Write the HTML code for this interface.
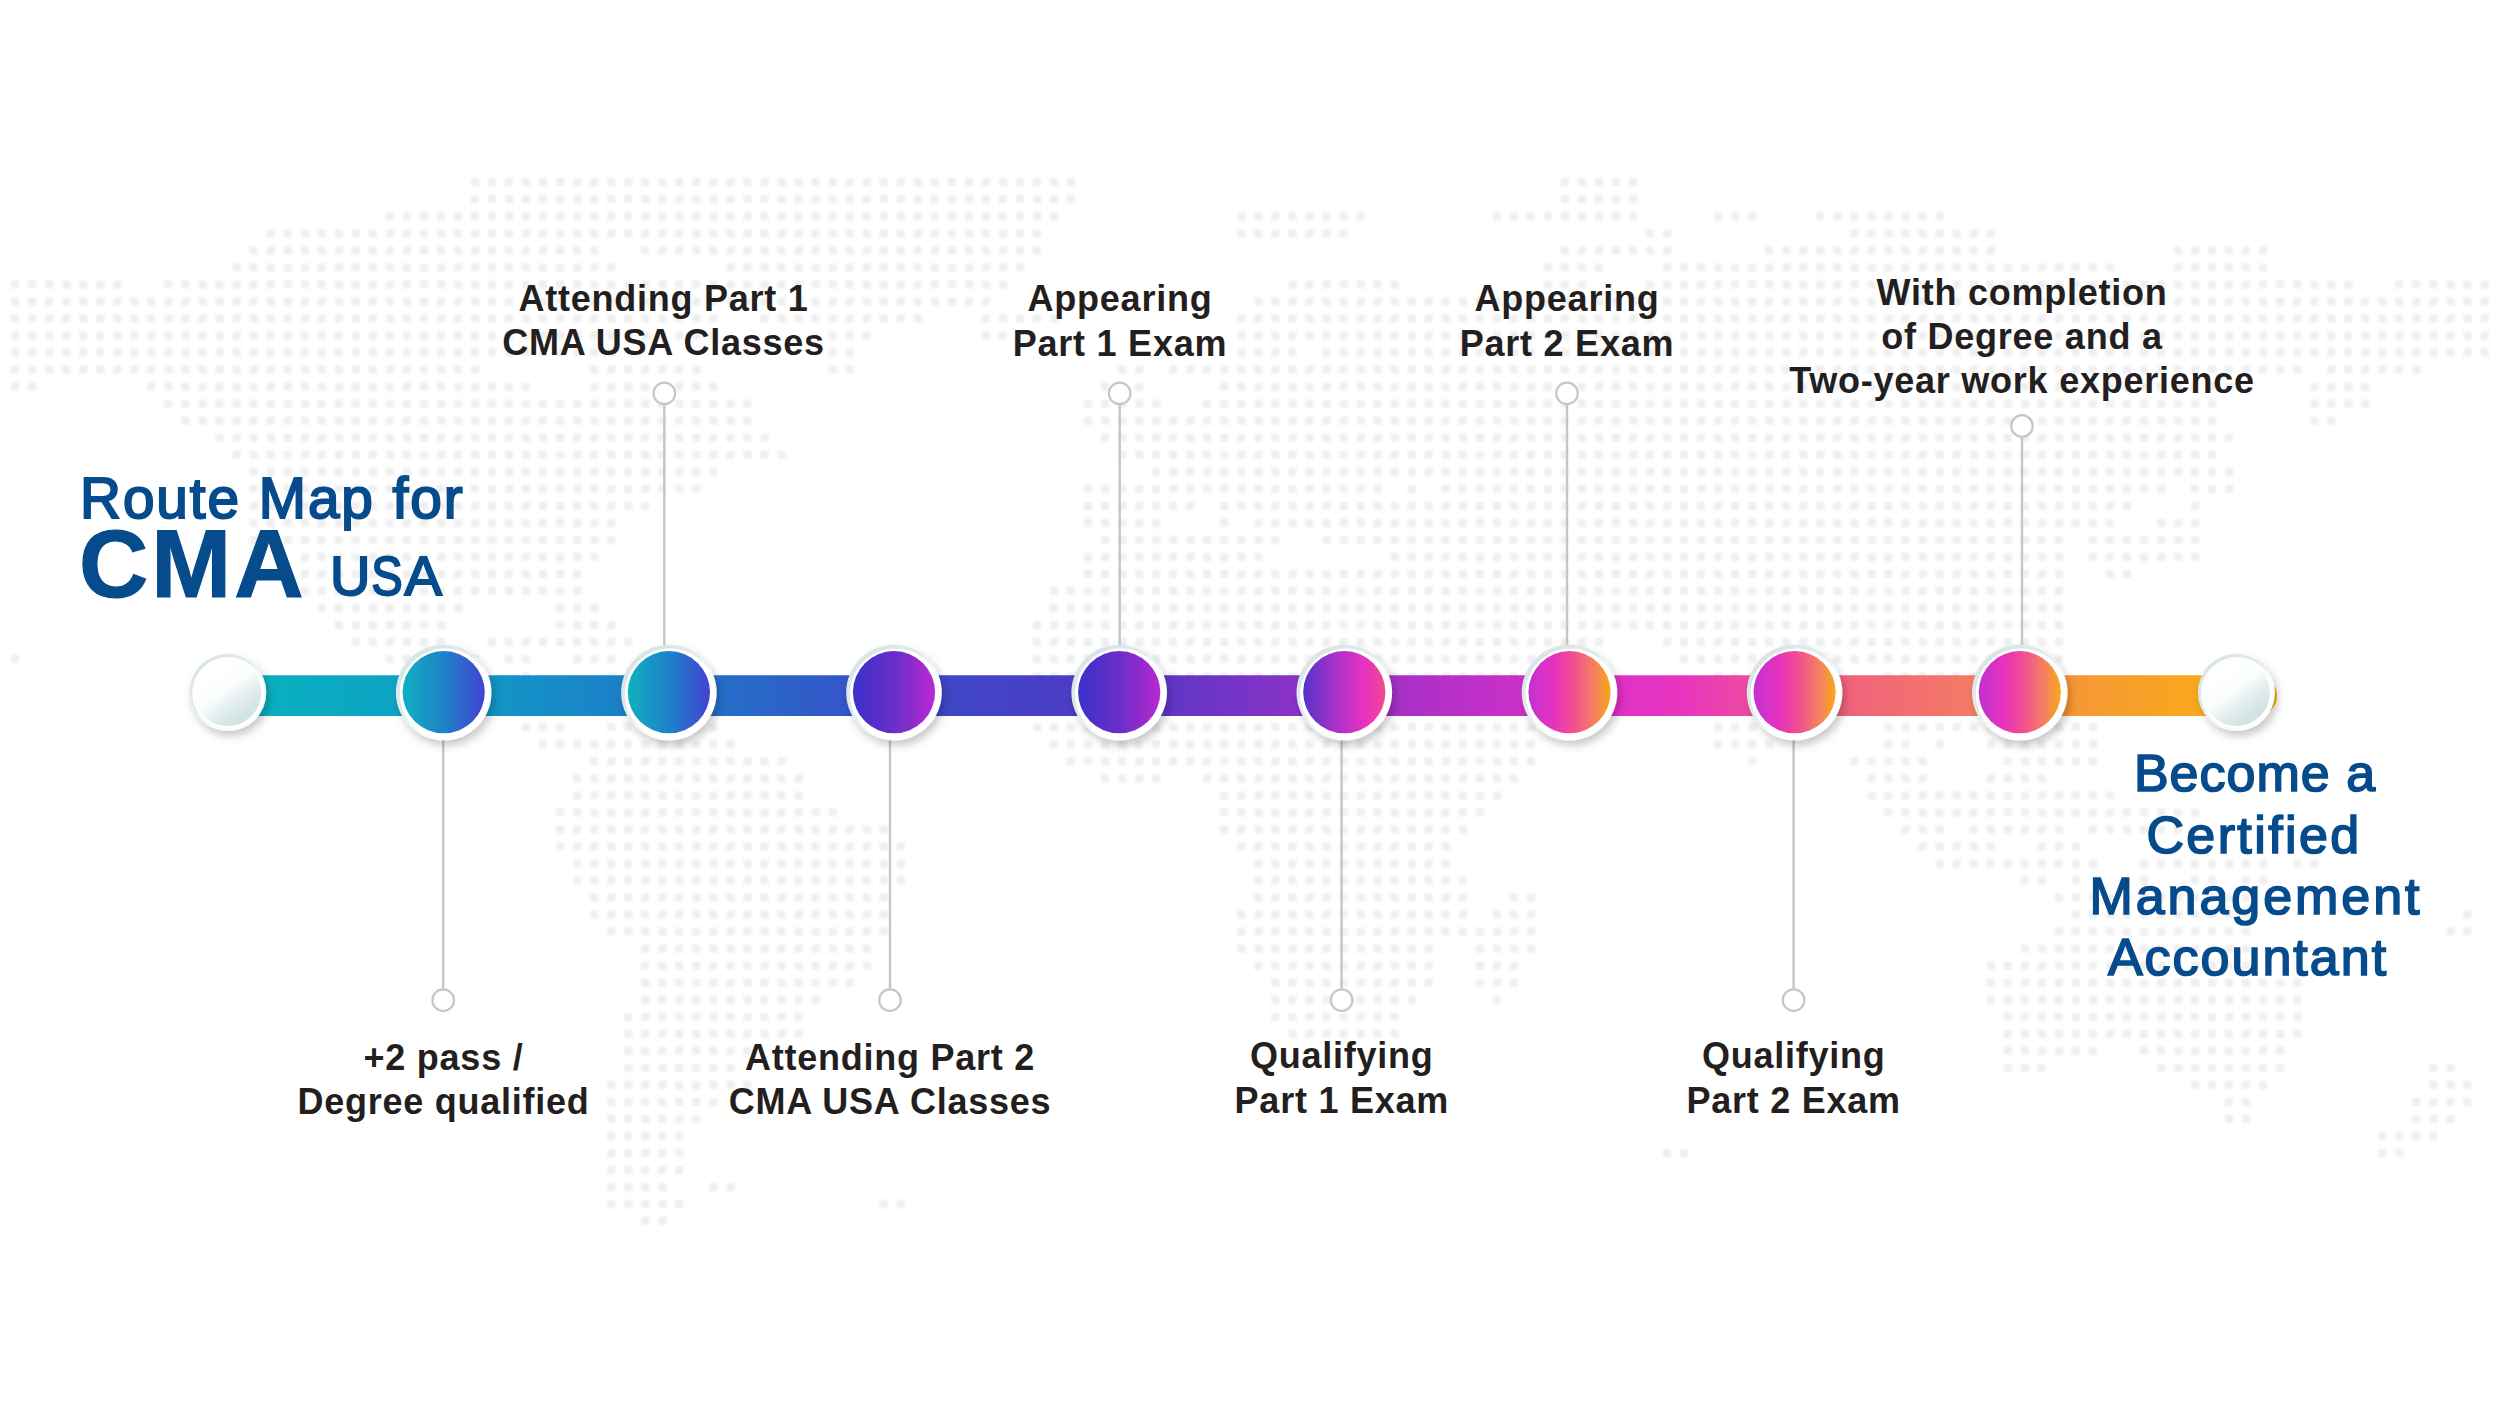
<!DOCTYPE html>
<html><head><meta charset="utf-8"><style>
html,body{margin:0;padding:0;background:#fff;width:2500px;height:1406px;overflow:hidden}
svg{display:block}
.lb{font-family:"Liberation Sans",sans-serif;font-weight:700;font-size:36px;fill:#231f20;text-anchor:middle;letter-spacing:0.75px}
.t1{font-family:"Liberation Sans",sans-serif;font-weight:400;font-size:56.7px;fill:#064b8c;stroke:#064b8c;stroke-width:2px;letter-spacing:1.95px}
.t2{font-family:"Liberation Sans",sans-serif;font-weight:700;font-size:96px;fill:#064b8c;stroke:#064b8c;stroke-width:1.2px;letter-spacing:3px}
.t3{font-family:"Liberation Sans",sans-serif;font-weight:400;font-size:56px;fill:#064b8c;stroke:#064b8c;stroke-width:2px;letter-spacing:-2px}
.t4{font-family:"Liberation Sans",sans-serif;font-weight:400;font-size:52px;fill:#064b8c;stroke:#064b8c;stroke-width:1.7px;text-anchor:middle;letter-spacing:1px}
</style></head><body>
<svg width="2500" height="1406" viewBox="0 0 2500 1406">
<defs><filter id="mblur" x="-1%" y="-1%" width="102%" height="102%"><feGaussianBlur stdDeviation="0.9"/></filter><filter id="sh" x="-40%" y="-40%" width="180%" height="180%"><feDropShadow dx="3" dy="5" stdDeviation="4" flood-color="#000" flood-opacity="0.22"/></filter><linearGradient id="bar" gradientUnits="userSpaceOnUse" x1="228" y1="0" x2="2240" y2="0"><stop offset="0.0000" stop-color="#07b4bf"/><stop offset="0.1069" stop-color="#0f9ec6"/><stop offset="0.2192" stop-color="#1f78c8"/><stop offset="0.3310" stop-color="#3a4cc8"/><stop offset="0.4428" stop-color="#5038c4"/><stop offset="0.5552" stop-color="#9a30c8"/><stop offset="0.6670" stop-color="#d830c8"/><stop offset="0.7217" stop-color="#e834c0"/><stop offset="0.7813" stop-color="#f05a88"/><stop offset="0.8022" stop-color="#f0627c"/><stop offset="0.8668" stop-color="#f47a64"/><stop offset="0.8907" stop-color="#f59040"/><stop offset="1.0000" stop-color="#f8ae14"/></linearGradient><linearGradient id="g0" x1="0" y1="0" x2="1" y2="0"><stop offset="0" stop-color="#0fb0c0"/><stop offset="0.5" stop-color="#1f82c8"/><stop offset="1" stop-color="#4343d2"/></linearGradient><linearGradient id="g1" x1="0" y1="0" x2="1" y2="0"><stop offset="0" stop-color="#0fb0c0"/><stop offset="0.5" stop-color="#1f82c8"/><stop offset="1" stop-color="#4343d2"/></linearGradient><linearGradient id="g2" x1="0" y1="0" x2="1" y2="0"><stop offset="0" stop-color="#3a30ca"/><stop offset="0.5" stop-color="#6a2ec8"/><stop offset="1" stop-color="#b82ad0"/></linearGradient><linearGradient id="g3" x1="0" y1="0" x2="1" y2="0"><stop offset="0" stop-color="#3a30ca"/><stop offset="0.5" stop-color="#6a2ec8"/><stop offset="1" stop-color="#b82ad0"/></linearGradient><linearGradient id="g4" x1="0" y1="0" x2="1" y2="0"><stop offset="0" stop-color="#5530c8"/><stop offset="0.35" stop-color="#a030c8"/><stop offset="0.75" stop-color="#e830c0"/><stop offset="1" stop-color="#f24890"/></linearGradient><linearGradient id="g5" x1="0" y1="0" x2="1" y2="0"><stop offset="0" stop-color="#c030d0"/><stop offset="0.3" stop-color="#e630c0"/><stop offset="0.55" stop-color="#f05090"/><stop offset="0.8" stop-color="#f58060"/><stop offset="1" stop-color="#f8a818"/></linearGradient><linearGradient id="g6" x1="0" y1="0" x2="1" y2="0"><stop offset="0" stop-color="#c030d0"/><stop offset="0.3" stop-color="#e630c0"/><stop offset="0.55" stop-color="#f05090"/><stop offset="0.8" stop-color="#f58060"/><stop offset="1" stop-color="#f8a818"/></linearGradient><linearGradient id="g7" x1="0" y1="0" x2="1" y2="0"><stop offset="0" stop-color="#c030d0"/><stop offset="0.3" stop-color="#e630c0"/><stop offset="0.55" stop-color="#f05090"/><stop offset="0.8" stop-color="#f58060"/><stop offset="1" stop-color="#f8a818"/></linearGradient><linearGradient id="ring" x1="0.15" y1="0.1" x2="0.85" y2="0.9"><stop offset="0" stop-color="#d6e4e6"/><stop offset="0.4" stop-color="#e2ecee"/><stop offset="0.65" stop-color="#f8fbfb"/><stop offset="1" stop-color="#ffffff"/></linearGradient><linearGradient id="pearl" x1="0.25" y1="0.15" x2="0.75" y2="0.85"><stop offset="0" stop-color="#ffffff"/><stop offset="0.45" stop-color="#fbfdfd"/><stop offset="0.7" stop-color="#e3eeef"/><stop offset="1" stop-color="#d2e3e4"/></linearGradient></defs>
<path fill="#efefef" filter="url(#mblur)" d="M471.0 178.3h8.0v8.0h-8.0zM488.0 178.3h8.0v8.0h-8.0zM505.1 178.3h8.0v8.0h-8.0zM522.1 178.3h8.0v8.0h-8.0zM539.1 178.3h8.0v8.0h-8.0zM556.2 178.3h8.0v8.0h-8.0zM573.2 178.3h8.0v8.0h-8.0zM590.2 178.3h8.0v8.0h-8.0zM607.3 178.3h8.0v8.0h-8.0zM624.3 178.3h8.0v8.0h-8.0zM641.3 178.3h8.0v8.0h-8.0zM658.3 178.3h8.0v8.0h-8.0zM675.4 178.3h8.0v8.0h-8.0zM692.4 178.3h8.0v8.0h-8.0zM709.4 178.3h8.0v8.0h-8.0zM726.5 178.3h8.0v8.0h-8.0zM743.5 178.3h8.0v8.0h-8.0zM760.5 178.3h8.0v8.0h-8.0zM777.6 178.3h8.0v8.0h-8.0zM794.6 178.3h8.0v8.0h-8.0zM811.6 178.3h8.0v8.0h-8.0zM828.6 178.3h8.0v8.0h-8.0zM845.7 178.3h8.0v8.0h-8.0zM862.7 178.3h8.0v8.0h-8.0zM879.7 178.3h8.0v8.0h-8.0zM896.8 178.3h8.0v8.0h-8.0zM913.8 178.3h8.0v8.0h-8.0zM930.8 178.3h8.0v8.0h-8.0zM947.9 178.3h8.0v8.0h-8.0zM964.9 178.3h8.0v8.0h-8.0zM981.9 178.3h8.0v8.0h-8.0zM998.9 178.3h8.0v8.0h-8.0zM1016.0 178.3h8.0v8.0h-8.0zM1033.0 178.3h8.0v8.0h-8.0zM1050.0 178.3h8.0v8.0h-8.0zM1067.1 178.3h8.0v8.0h-8.0zM1560.9 178.3h8.0v8.0h-8.0zM1578.0 178.3h8.0v8.0h-8.0zM1595.0 178.3h8.0v8.0h-8.0zM1612.0 178.3h8.0v8.0h-8.0zM1629.1 178.3h8.0v8.0h-8.0zM471.0 195.3h8.0v8.0h-8.0zM488.0 195.3h8.0v8.0h-8.0zM505.1 195.3h8.0v8.0h-8.0zM522.1 195.3h8.0v8.0h-8.0zM539.1 195.3h8.0v8.0h-8.0zM556.2 195.3h8.0v8.0h-8.0zM573.2 195.3h8.0v8.0h-8.0zM590.2 195.3h8.0v8.0h-8.0zM607.3 195.3h8.0v8.0h-8.0zM624.3 195.3h8.0v8.0h-8.0zM641.3 195.3h8.0v8.0h-8.0zM658.3 195.3h8.0v8.0h-8.0zM675.4 195.3h8.0v8.0h-8.0zM692.4 195.3h8.0v8.0h-8.0zM709.4 195.3h8.0v8.0h-8.0zM726.5 195.3h8.0v8.0h-8.0zM743.5 195.3h8.0v8.0h-8.0zM760.5 195.3h8.0v8.0h-8.0zM777.6 195.3h8.0v8.0h-8.0zM794.6 195.3h8.0v8.0h-8.0zM811.6 195.3h8.0v8.0h-8.0zM828.6 195.3h8.0v8.0h-8.0zM845.7 195.3h8.0v8.0h-8.0zM862.7 195.3h8.0v8.0h-8.0zM879.7 195.3h8.0v8.0h-8.0zM896.8 195.3h8.0v8.0h-8.0zM913.8 195.3h8.0v8.0h-8.0zM930.8 195.3h8.0v8.0h-8.0zM947.9 195.3h8.0v8.0h-8.0zM964.9 195.3h8.0v8.0h-8.0zM981.9 195.3h8.0v8.0h-8.0zM998.9 195.3h8.0v8.0h-8.0zM1016.0 195.3h8.0v8.0h-8.0zM1033.0 195.3h8.0v8.0h-8.0zM1050.0 195.3h8.0v8.0h-8.0zM1067.1 195.3h8.0v8.0h-8.0zM1560.9 195.3h8.0v8.0h-8.0zM1578.0 195.3h8.0v8.0h-8.0zM1595.0 195.3h8.0v8.0h-8.0zM1612.0 195.3h8.0v8.0h-8.0zM1629.1 195.3h8.0v8.0h-8.0zM385.9 212.4h8.0v8.0h-8.0zM402.9 212.4h8.0v8.0h-8.0zM419.9 212.4h8.0v8.0h-8.0zM436.9 212.4h8.0v8.0h-8.0zM454.0 212.4h8.0v8.0h-8.0zM471.0 212.4h8.0v8.0h-8.0zM488.0 212.4h8.0v8.0h-8.0zM505.1 212.4h8.0v8.0h-8.0zM522.1 212.4h8.0v8.0h-8.0zM539.1 212.4h8.0v8.0h-8.0zM556.2 212.4h8.0v8.0h-8.0zM573.2 212.4h8.0v8.0h-8.0zM590.2 212.4h8.0v8.0h-8.0zM607.3 212.4h8.0v8.0h-8.0zM624.3 212.4h8.0v8.0h-8.0zM641.3 212.4h8.0v8.0h-8.0zM658.3 212.4h8.0v8.0h-8.0zM675.4 212.4h8.0v8.0h-8.0zM692.4 212.4h8.0v8.0h-8.0zM709.4 212.4h8.0v8.0h-8.0zM726.5 212.4h8.0v8.0h-8.0zM743.5 212.4h8.0v8.0h-8.0zM760.5 212.4h8.0v8.0h-8.0zM777.6 212.4h8.0v8.0h-8.0zM794.6 212.4h8.0v8.0h-8.0zM811.6 212.4h8.0v8.0h-8.0zM828.6 212.4h8.0v8.0h-8.0zM845.7 212.4h8.0v8.0h-8.0zM862.7 212.4h8.0v8.0h-8.0zM879.7 212.4h8.0v8.0h-8.0zM896.8 212.4h8.0v8.0h-8.0zM913.8 212.4h8.0v8.0h-8.0zM930.8 212.4h8.0v8.0h-8.0zM947.9 212.4h8.0v8.0h-8.0zM964.9 212.4h8.0v8.0h-8.0zM981.9 212.4h8.0v8.0h-8.0zM998.9 212.4h8.0v8.0h-8.0zM1016.0 212.4h8.0v8.0h-8.0zM1033.0 212.4h8.0v8.0h-8.0zM1050.0 212.4h8.0v8.0h-8.0zM1237.4 212.4h8.0v8.0h-8.0zM1254.4 212.4h8.0v8.0h-8.0zM1271.4 212.4h8.0v8.0h-8.0zM1288.5 212.4h8.0v8.0h-8.0zM1305.5 212.4h8.0v8.0h-8.0zM1322.5 212.4h8.0v8.0h-8.0zM1339.5 212.4h8.0v8.0h-8.0zM1356.6 212.4h8.0v8.0h-8.0zM1492.8 212.4h8.0v8.0h-8.0zM1509.8 212.4h8.0v8.0h-8.0zM1526.9 212.4h8.0v8.0h-8.0zM1543.9 212.4h8.0v8.0h-8.0zM1560.9 212.4h8.0v8.0h-8.0zM1578.0 212.4h8.0v8.0h-8.0zM1595.0 212.4h8.0v8.0h-8.0zM1612.0 212.4h8.0v8.0h-8.0zM1629.1 212.4h8.0v8.0h-8.0zM1714.2 212.4h8.0v8.0h-8.0zM1731.2 212.4h8.0v8.0h-8.0zM1748.3 212.4h8.0v8.0h-8.0zM1816.4 212.4h8.0v8.0h-8.0zM1833.4 212.4h8.0v8.0h-8.0zM1850.4 212.4h8.0v8.0h-8.0zM1867.5 212.4h8.0v8.0h-8.0zM1884.5 212.4h8.0v8.0h-8.0zM1901.5 212.4h8.0v8.0h-8.0zM1918.6 212.4h8.0v8.0h-8.0zM1935.6 212.4h8.0v8.0h-8.0zM266.7 229.4h8.0v8.0h-8.0zM283.7 229.4h8.0v8.0h-8.0zM300.7 229.4h8.0v8.0h-8.0zM317.7 229.4h8.0v8.0h-8.0zM334.8 229.4h8.0v8.0h-8.0zM351.8 229.4h8.0v8.0h-8.0zM368.8 229.4h8.0v8.0h-8.0zM385.9 229.4h8.0v8.0h-8.0zM402.9 229.4h8.0v8.0h-8.0zM419.9 229.4h8.0v8.0h-8.0zM436.9 229.4h8.0v8.0h-8.0zM454.0 229.4h8.0v8.0h-8.0zM471.0 229.4h8.0v8.0h-8.0zM488.0 229.4h8.0v8.0h-8.0zM505.1 229.4h8.0v8.0h-8.0zM522.1 229.4h8.0v8.0h-8.0zM539.1 229.4h8.0v8.0h-8.0zM556.2 229.4h8.0v8.0h-8.0zM573.2 229.4h8.0v8.0h-8.0zM590.2 229.4h8.0v8.0h-8.0zM607.3 229.4h8.0v8.0h-8.0zM624.3 229.4h8.0v8.0h-8.0zM641.3 229.4h8.0v8.0h-8.0zM658.3 229.4h8.0v8.0h-8.0zM675.4 229.4h8.0v8.0h-8.0zM692.4 229.4h8.0v8.0h-8.0zM709.4 229.4h8.0v8.0h-8.0zM726.5 229.4h8.0v8.0h-8.0zM743.5 229.4h8.0v8.0h-8.0zM760.5 229.4h8.0v8.0h-8.0zM777.6 229.4h8.0v8.0h-8.0zM794.6 229.4h8.0v8.0h-8.0zM811.6 229.4h8.0v8.0h-8.0zM828.6 229.4h8.0v8.0h-8.0zM845.7 229.4h8.0v8.0h-8.0zM862.7 229.4h8.0v8.0h-8.0zM879.7 229.4h8.0v8.0h-8.0zM896.8 229.4h8.0v8.0h-8.0zM913.8 229.4h8.0v8.0h-8.0zM930.8 229.4h8.0v8.0h-8.0zM947.9 229.4h8.0v8.0h-8.0zM964.9 229.4h8.0v8.0h-8.0zM981.9 229.4h8.0v8.0h-8.0zM998.9 229.4h8.0v8.0h-8.0zM1016.0 229.4h8.0v8.0h-8.0zM1033.0 229.4h8.0v8.0h-8.0zM1237.4 229.4h8.0v8.0h-8.0zM1254.4 229.4h8.0v8.0h-8.0zM1271.4 229.4h8.0v8.0h-8.0zM1288.5 229.4h8.0v8.0h-8.0zM1305.5 229.4h8.0v8.0h-8.0zM1322.5 229.4h8.0v8.0h-8.0zM1339.5 229.4h8.0v8.0h-8.0zM1646.1 229.4h8.0v8.0h-8.0zM1663.1 229.4h8.0v8.0h-8.0zM1850.4 229.4h8.0v8.0h-8.0zM1867.5 229.4h8.0v8.0h-8.0zM1884.5 229.4h8.0v8.0h-8.0zM1901.5 229.4h8.0v8.0h-8.0zM1918.6 229.4h8.0v8.0h-8.0zM1935.6 229.4h8.0v8.0h-8.0zM1952.6 229.4h8.0v8.0h-8.0zM1969.7 229.4h8.0v8.0h-8.0zM1986.7 229.4h8.0v8.0h-8.0zM249.6 246.4h8.0v8.0h-8.0zM266.7 246.4h8.0v8.0h-8.0zM283.7 246.4h8.0v8.0h-8.0zM300.7 246.4h8.0v8.0h-8.0zM317.7 246.4h8.0v8.0h-8.0zM334.8 246.4h8.0v8.0h-8.0zM351.8 246.4h8.0v8.0h-8.0zM368.8 246.4h8.0v8.0h-8.0zM385.9 246.4h8.0v8.0h-8.0zM402.9 246.4h8.0v8.0h-8.0zM419.9 246.4h8.0v8.0h-8.0zM436.9 246.4h8.0v8.0h-8.0zM454.0 246.4h8.0v8.0h-8.0zM471.0 246.4h8.0v8.0h-8.0zM488.0 246.4h8.0v8.0h-8.0zM505.1 246.4h8.0v8.0h-8.0zM522.1 246.4h8.0v8.0h-8.0zM539.1 246.4h8.0v8.0h-8.0zM556.2 246.4h8.0v8.0h-8.0zM573.2 246.4h8.0v8.0h-8.0zM590.2 246.4h8.0v8.0h-8.0zM641.3 246.4h8.0v8.0h-8.0zM658.3 246.4h8.0v8.0h-8.0zM675.4 246.4h8.0v8.0h-8.0zM692.4 246.4h8.0v8.0h-8.0zM709.4 246.4h8.0v8.0h-8.0zM726.5 246.4h8.0v8.0h-8.0zM743.5 246.4h8.0v8.0h-8.0zM760.5 246.4h8.0v8.0h-8.0zM777.6 246.4h8.0v8.0h-8.0zM794.6 246.4h8.0v8.0h-8.0zM811.6 246.4h8.0v8.0h-8.0zM828.6 246.4h8.0v8.0h-8.0zM845.7 246.4h8.0v8.0h-8.0zM862.7 246.4h8.0v8.0h-8.0zM879.7 246.4h8.0v8.0h-8.0zM896.8 246.4h8.0v8.0h-8.0zM913.8 246.4h8.0v8.0h-8.0zM930.8 246.4h8.0v8.0h-8.0zM947.9 246.4h8.0v8.0h-8.0zM964.9 246.4h8.0v8.0h-8.0zM981.9 246.4h8.0v8.0h-8.0zM998.9 246.4h8.0v8.0h-8.0zM1016.0 246.4h8.0v8.0h-8.0zM1033.0 246.4h8.0v8.0h-8.0zM1560.9 246.4h8.0v8.0h-8.0zM1578.0 246.4h8.0v8.0h-8.0zM1595.0 246.4h8.0v8.0h-8.0zM1612.0 246.4h8.0v8.0h-8.0zM1629.1 246.4h8.0v8.0h-8.0zM1646.1 246.4h8.0v8.0h-8.0zM1663.1 246.4h8.0v8.0h-8.0zM1765.3 246.4h8.0v8.0h-8.0zM1782.3 246.4h8.0v8.0h-8.0zM1799.4 246.4h8.0v8.0h-8.0zM1816.4 246.4h8.0v8.0h-8.0zM1833.4 246.4h8.0v8.0h-8.0zM1850.4 246.4h8.0v8.0h-8.0zM1867.5 246.4h8.0v8.0h-8.0zM1884.5 246.4h8.0v8.0h-8.0zM1901.5 246.4h8.0v8.0h-8.0zM1918.6 246.4h8.0v8.0h-8.0zM1935.6 246.4h8.0v8.0h-8.0zM1952.6 246.4h8.0v8.0h-8.0zM1969.7 246.4h8.0v8.0h-8.0zM1986.7 246.4h8.0v8.0h-8.0zM2174.0 246.4h8.0v8.0h-8.0zM2191.0 246.4h8.0v8.0h-8.0zM2208.1 246.4h8.0v8.0h-8.0zM2225.1 246.4h8.0v8.0h-8.0zM2242.1 246.4h8.0v8.0h-8.0zM2259.2 246.4h8.0v8.0h-8.0zM232.6 263.5h8.0v8.0h-8.0zM249.6 263.5h8.0v8.0h-8.0zM266.7 263.5h8.0v8.0h-8.0zM283.7 263.5h8.0v8.0h-8.0zM300.7 263.5h8.0v8.0h-8.0zM317.7 263.5h8.0v8.0h-8.0zM334.8 263.5h8.0v8.0h-8.0zM351.8 263.5h8.0v8.0h-8.0zM368.8 263.5h8.0v8.0h-8.0zM385.9 263.5h8.0v8.0h-8.0zM402.9 263.5h8.0v8.0h-8.0zM419.9 263.5h8.0v8.0h-8.0zM436.9 263.5h8.0v8.0h-8.0zM454.0 263.5h8.0v8.0h-8.0zM471.0 263.5h8.0v8.0h-8.0zM488.0 263.5h8.0v8.0h-8.0zM505.1 263.5h8.0v8.0h-8.0zM522.1 263.5h8.0v8.0h-8.0zM539.1 263.5h8.0v8.0h-8.0zM556.2 263.5h8.0v8.0h-8.0zM573.2 263.5h8.0v8.0h-8.0zM590.2 263.5h8.0v8.0h-8.0zM607.3 263.5h8.0v8.0h-8.0zM726.5 263.5h8.0v8.0h-8.0zM743.5 263.5h8.0v8.0h-8.0zM760.5 263.5h8.0v8.0h-8.0zM777.6 263.5h8.0v8.0h-8.0zM794.6 263.5h8.0v8.0h-8.0zM811.6 263.5h8.0v8.0h-8.0zM828.6 263.5h8.0v8.0h-8.0zM845.7 263.5h8.0v8.0h-8.0zM862.7 263.5h8.0v8.0h-8.0zM879.7 263.5h8.0v8.0h-8.0zM896.8 263.5h8.0v8.0h-8.0zM913.8 263.5h8.0v8.0h-8.0zM930.8 263.5h8.0v8.0h-8.0zM947.9 263.5h8.0v8.0h-8.0zM964.9 263.5h8.0v8.0h-8.0zM981.9 263.5h8.0v8.0h-8.0zM998.9 263.5h8.0v8.0h-8.0zM1016.0 263.5h8.0v8.0h-8.0zM1543.9 263.5h8.0v8.0h-8.0zM1560.9 263.5h8.0v8.0h-8.0zM1578.0 263.5h8.0v8.0h-8.0zM1595.0 263.5h8.0v8.0h-8.0zM1663.1 263.5h8.0v8.0h-8.0zM1680.1 263.5h8.0v8.0h-8.0zM1697.2 263.5h8.0v8.0h-8.0zM1714.2 263.5h8.0v8.0h-8.0zM1731.2 263.5h8.0v8.0h-8.0zM1748.3 263.5h8.0v8.0h-8.0zM1765.3 263.5h8.0v8.0h-8.0zM1782.3 263.5h8.0v8.0h-8.0zM1799.4 263.5h8.0v8.0h-8.0zM1816.4 263.5h8.0v8.0h-8.0zM1833.4 263.5h8.0v8.0h-8.0zM1850.4 263.5h8.0v8.0h-8.0zM1867.5 263.5h8.0v8.0h-8.0zM1884.5 263.5h8.0v8.0h-8.0zM1901.5 263.5h8.0v8.0h-8.0zM1918.6 263.5h8.0v8.0h-8.0zM1935.6 263.5h8.0v8.0h-8.0zM1952.6 263.5h8.0v8.0h-8.0zM1969.7 263.5h8.0v8.0h-8.0zM1986.7 263.5h8.0v8.0h-8.0zM2003.7 263.5h8.0v8.0h-8.0zM2020.7 263.5h8.0v8.0h-8.0zM2037.8 263.5h8.0v8.0h-8.0zM2054.8 263.5h8.0v8.0h-8.0zM2071.8 263.5h8.0v8.0h-8.0zM2088.9 263.5h8.0v8.0h-8.0zM2105.9 263.5h8.0v8.0h-8.0zM2174.0 263.5h8.0v8.0h-8.0zM2191.0 263.5h8.0v8.0h-8.0zM2208.1 263.5h8.0v8.0h-8.0zM2225.1 263.5h8.0v8.0h-8.0zM2242.1 263.5h8.0v8.0h-8.0zM2259.2 263.5h8.0v8.0h-8.0zM11.2 280.5h8.0v8.0h-8.0zM28.2 280.5h8.0v8.0h-8.0zM45.3 280.5h8.0v8.0h-8.0zM62.3 280.5h8.0v8.0h-8.0zM79.3 280.5h8.0v8.0h-8.0zM96.4 280.5h8.0v8.0h-8.0zM113.4 280.5h8.0v8.0h-8.0zM164.5 280.5h8.0v8.0h-8.0zM181.5 280.5h8.0v8.0h-8.0zM198.5 280.5h8.0v8.0h-8.0zM215.6 280.5h8.0v8.0h-8.0zM232.6 280.5h8.0v8.0h-8.0zM249.6 280.5h8.0v8.0h-8.0zM266.7 280.5h8.0v8.0h-8.0zM283.7 280.5h8.0v8.0h-8.0zM300.7 280.5h8.0v8.0h-8.0zM317.7 280.5h8.0v8.0h-8.0zM334.8 280.5h8.0v8.0h-8.0zM351.8 280.5h8.0v8.0h-8.0zM368.8 280.5h8.0v8.0h-8.0zM385.9 280.5h8.0v8.0h-8.0zM402.9 280.5h8.0v8.0h-8.0zM419.9 280.5h8.0v8.0h-8.0zM436.9 280.5h8.0v8.0h-8.0zM454.0 280.5h8.0v8.0h-8.0zM471.0 280.5h8.0v8.0h-8.0zM488.0 280.5h8.0v8.0h-8.0zM505.1 280.5h8.0v8.0h-8.0zM522.1 280.5h8.0v8.0h-8.0zM539.1 280.5h8.0v8.0h-8.0zM556.2 280.5h8.0v8.0h-8.0zM573.2 280.5h8.0v8.0h-8.0zM590.2 280.5h8.0v8.0h-8.0zM607.3 280.5h8.0v8.0h-8.0zM624.3 280.5h8.0v8.0h-8.0zM641.3 280.5h8.0v8.0h-8.0zM658.3 280.5h8.0v8.0h-8.0zM675.4 280.5h8.0v8.0h-8.0zM692.4 280.5h8.0v8.0h-8.0zM709.4 280.5h8.0v8.0h-8.0zM726.5 280.5h8.0v8.0h-8.0zM743.5 280.5h8.0v8.0h-8.0zM760.5 280.5h8.0v8.0h-8.0zM777.6 280.5h8.0v8.0h-8.0zM794.6 280.5h8.0v8.0h-8.0zM811.6 280.5h8.0v8.0h-8.0zM828.6 280.5h8.0v8.0h-8.0zM845.7 280.5h8.0v8.0h-8.0zM862.7 280.5h8.0v8.0h-8.0zM879.7 280.5h8.0v8.0h-8.0zM896.8 280.5h8.0v8.0h-8.0zM913.8 280.5h8.0v8.0h-8.0zM930.8 280.5h8.0v8.0h-8.0zM947.9 280.5h8.0v8.0h-8.0zM964.9 280.5h8.0v8.0h-8.0zM981.9 280.5h8.0v8.0h-8.0zM998.9 280.5h8.0v8.0h-8.0zM1288.5 280.5h8.0v8.0h-8.0zM1305.5 280.5h8.0v8.0h-8.0zM1322.5 280.5h8.0v8.0h-8.0zM1339.5 280.5h8.0v8.0h-8.0zM1356.6 280.5h8.0v8.0h-8.0zM1373.6 280.5h8.0v8.0h-8.0zM1390.6 280.5h8.0v8.0h-8.0zM1543.9 280.5h8.0v8.0h-8.0zM1560.9 280.5h8.0v8.0h-8.0zM1578.0 280.5h8.0v8.0h-8.0zM1646.1 280.5h8.0v8.0h-8.0zM1663.1 280.5h8.0v8.0h-8.0zM1680.1 280.5h8.0v8.0h-8.0zM1697.2 280.5h8.0v8.0h-8.0zM1714.2 280.5h8.0v8.0h-8.0zM1731.2 280.5h8.0v8.0h-8.0zM1748.3 280.5h8.0v8.0h-8.0zM1765.3 280.5h8.0v8.0h-8.0zM1782.3 280.5h8.0v8.0h-8.0zM1799.4 280.5h8.0v8.0h-8.0zM1816.4 280.5h8.0v8.0h-8.0zM1833.4 280.5h8.0v8.0h-8.0zM1850.4 280.5h8.0v8.0h-8.0zM1867.5 280.5h8.0v8.0h-8.0zM1884.5 280.5h8.0v8.0h-8.0zM1901.5 280.5h8.0v8.0h-8.0zM1918.6 280.5h8.0v8.0h-8.0zM1935.6 280.5h8.0v8.0h-8.0zM1952.6 280.5h8.0v8.0h-8.0zM1969.7 280.5h8.0v8.0h-8.0zM1986.7 280.5h8.0v8.0h-8.0zM2003.7 280.5h8.0v8.0h-8.0zM2020.7 280.5h8.0v8.0h-8.0zM2037.8 280.5h8.0v8.0h-8.0zM2054.8 280.5h8.0v8.0h-8.0zM2071.8 280.5h8.0v8.0h-8.0zM2088.9 280.5h8.0v8.0h-8.0zM2105.9 280.5h8.0v8.0h-8.0zM2122.9 280.5h8.0v8.0h-8.0zM2139.9 280.5h8.0v8.0h-8.0zM2157.0 280.5h8.0v8.0h-8.0zM2174.0 280.5h8.0v8.0h-8.0zM2191.0 280.5h8.0v8.0h-8.0zM2208.1 280.5h8.0v8.0h-8.0zM2225.1 280.5h8.0v8.0h-8.0zM2242.1 280.5h8.0v8.0h-8.0zM2259.2 280.5h8.0v8.0h-8.0zM2276.2 280.5h8.0v8.0h-8.0zM2293.2 280.5h8.0v8.0h-8.0zM2310.2 280.5h8.0v8.0h-8.0zM2327.3 280.5h8.0v8.0h-8.0zM2344.3 280.5h8.0v8.0h-8.0zM2395.4 280.5h8.0v8.0h-8.0zM2412.4 280.5h8.0v8.0h-8.0zM2429.5 280.5h8.0v8.0h-8.0zM2446.5 280.5h8.0v8.0h-8.0zM2463.5 280.5h8.0v8.0h-8.0zM2480.6 280.5h8.0v8.0h-8.0zM11.2 297.5h8.0v8.0h-8.0zM28.2 297.5h8.0v8.0h-8.0zM45.3 297.5h8.0v8.0h-8.0zM62.3 297.5h8.0v8.0h-8.0zM79.3 297.5h8.0v8.0h-8.0zM96.4 297.5h8.0v8.0h-8.0zM113.4 297.5h8.0v8.0h-8.0zM130.4 297.5h8.0v8.0h-8.0zM147.4 297.5h8.0v8.0h-8.0zM164.5 297.5h8.0v8.0h-8.0zM181.5 297.5h8.0v8.0h-8.0zM198.5 297.5h8.0v8.0h-8.0zM215.6 297.5h8.0v8.0h-8.0zM232.6 297.5h8.0v8.0h-8.0zM249.6 297.5h8.0v8.0h-8.0zM266.7 297.5h8.0v8.0h-8.0zM283.7 297.5h8.0v8.0h-8.0zM300.7 297.5h8.0v8.0h-8.0zM317.7 297.5h8.0v8.0h-8.0zM334.8 297.5h8.0v8.0h-8.0zM351.8 297.5h8.0v8.0h-8.0zM368.8 297.5h8.0v8.0h-8.0zM385.9 297.5h8.0v8.0h-8.0zM402.9 297.5h8.0v8.0h-8.0zM419.9 297.5h8.0v8.0h-8.0zM436.9 297.5h8.0v8.0h-8.0zM454.0 297.5h8.0v8.0h-8.0zM471.0 297.5h8.0v8.0h-8.0zM488.0 297.5h8.0v8.0h-8.0zM505.1 297.5h8.0v8.0h-8.0zM522.1 297.5h8.0v8.0h-8.0zM539.1 297.5h8.0v8.0h-8.0zM556.2 297.5h8.0v8.0h-8.0zM573.2 297.5h8.0v8.0h-8.0zM590.2 297.5h8.0v8.0h-8.0zM607.3 297.5h8.0v8.0h-8.0zM624.3 297.5h8.0v8.0h-8.0zM641.3 297.5h8.0v8.0h-8.0zM658.3 297.5h8.0v8.0h-8.0zM675.4 297.5h8.0v8.0h-8.0zM692.4 297.5h8.0v8.0h-8.0zM709.4 297.5h8.0v8.0h-8.0zM726.5 297.5h8.0v8.0h-8.0zM743.5 297.5h8.0v8.0h-8.0zM760.5 297.5h8.0v8.0h-8.0zM777.6 297.5h8.0v8.0h-8.0zM794.6 297.5h8.0v8.0h-8.0zM811.6 297.5h8.0v8.0h-8.0zM828.6 297.5h8.0v8.0h-8.0zM845.7 297.5h8.0v8.0h-8.0zM862.7 297.5h8.0v8.0h-8.0zM879.7 297.5h8.0v8.0h-8.0zM896.8 297.5h8.0v8.0h-8.0zM913.8 297.5h8.0v8.0h-8.0zM930.8 297.5h8.0v8.0h-8.0zM947.9 297.5h8.0v8.0h-8.0zM964.9 297.5h8.0v8.0h-8.0zM981.9 297.5h8.0v8.0h-8.0zM1254.4 297.5h8.0v8.0h-8.0zM1271.4 297.5h8.0v8.0h-8.0zM1288.5 297.5h8.0v8.0h-8.0zM1305.5 297.5h8.0v8.0h-8.0zM1322.5 297.5h8.0v8.0h-8.0zM1339.5 297.5h8.0v8.0h-8.0zM1356.6 297.5h8.0v8.0h-8.0zM1373.6 297.5h8.0v8.0h-8.0zM1390.6 297.5h8.0v8.0h-8.0zM1407.7 297.5h8.0v8.0h-8.0zM1424.7 297.5h8.0v8.0h-8.0zM1441.7 297.5h8.0v8.0h-8.0zM1458.8 297.5h8.0v8.0h-8.0zM1475.8 297.5h8.0v8.0h-8.0zM1492.8 297.5h8.0v8.0h-8.0zM1509.8 297.5h8.0v8.0h-8.0zM1526.9 297.5h8.0v8.0h-8.0zM1543.9 297.5h8.0v8.0h-8.0zM1560.9 297.5h8.0v8.0h-8.0zM1578.0 297.5h8.0v8.0h-8.0zM1595.0 297.5h8.0v8.0h-8.0zM1612.0 297.5h8.0v8.0h-8.0zM1629.1 297.5h8.0v8.0h-8.0zM1646.1 297.5h8.0v8.0h-8.0zM1663.1 297.5h8.0v8.0h-8.0zM1680.1 297.5h8.0v8.0h-8.0zM1697.2 297.5h8.0v8.0h-8.0zM1714.2 297.5h8.0v8.0h-8.0zM1731.2 297.5h8.0v8.0h-8.0zM1748.3 297.5h8.0v8.0h-8.0zM1765.3 297.5h8.0v8.0h-8.0zM1782.3 297.5h8.0v8.0h-8.0zM1799.4 297.5h8.0v8.0h-8.0zM1816.4 297.5h8.0v8.0h-8.0zM1833.4 297.5h8.0v8.0h-8.0zM1850.4 297.5h8.0v8.0h-8.0zM1867.5 297.5h8.0v8.0h-8.0zM1884.5 297.5h8.0v8.0h-8.0zM1901.5 297.5h8.0v8.0h-8.0zM1918.6 297.5h8.0v8.0h-8.0zM1935.6 297.5h8.0v8.0h-8.0zM1952.6 297.5h8.0v8.0h-8.0zM1969.7 297.5h8.0v8.0h-8.0zM1986.7 297.5h8.0v8.0h-8.0zM2003.7 297.5h8.0v8.0h-8.0zM2020.7 297.5h8.0v8.0h-8.0zM2037.8 297.5h8.0v8.0h-8.0zM2054.8 297.5h8.0v8.0h-8.0zM2071.8 297.5h8.0v8.0h-8.0zM2088.9 297.5h8.0v8.0h-8.0zM2105.9 297.5h8.0v8.0h-8.0zM2122.9 297.5h8.0v8.0h-8.0zM2139.9 297.5h8.0v8.0h-8.0zM2157.0 297.5h8.0v8.0h-8.0zM2174.0 297.5h8.0v8.0h-8.0zM2191.0 297.5h8.0v8.0h-8.0zM2208.1 297.5h8.0v8.0h-8.0zM2225.1 297.5h8.0v8.0h-8.0zM2242.1 297.5h8.0v8.0h-8.0zM2259.2 297.5h8.0v8.0h-8.0zM2276.2 297.5h8.0v8.0h-8.0zM2293.2 297.5h8.0v8.0h-8.0zM2310.2 297.5h8.0v8.0h-8.0zM2327.3 297.5h8.0v8.0h-8.0zM2344.3 297.5h8.0v8.0h-8.0zM2361.3 297.5h8.0v8.0h-8.0zM2378.4 297.5h8.0v8.0h-8.0zM2395.4 297.5h8.0v8.0h-8.0zM2412.4 297.5h8.0v8.0h-8.0zM2429.5 297.5h8.0v8.0h-8.0zM2446.5 297.5h8.0v8.0h-8.0zM2463.5 297.5h8.0v8.0h-8.0zM2480.6 297.5h8.0v8.0h-8.0zM11.2 314.5h8.0v8.0h-8.0zM28.2 314.5h8.0v8.0h-8.0zM45.3 314.5h8.0v8.0h-8.0zM62.3 314.5h8.0v8.0h-8.0zM79.3 314.5h8.0v8.0h-8.0zM96.4 314.5h8.0v8.0h-8.0zM113.4 314.5h8.0v8.0h-8.0zM130.4 314.5h8.0v8.0h-8.0zM147.4 314.5h8.0v8.0h-8.0zM164.5 314.5h8.0v8.0h-8.0zM181.5 314.5h8.0v8.0h-8.0zM198.5 314.5h8.0v8.0h-8.0zM215.6 314.5h8.0v8.0h-8.0zM232.6 314.5h8.0v8.0h-8.0zM249.6 314.5h8.0v8.0h-8.0zM266.7 314.5h8.0v8.0h-8.0zM283.7 314.5h8.0v8.0h-8.0zM300.7 314.5h8.0v8.0h-8.0zM317.7 314.5h8.0v8.0h-8.0zM334.8 314.5h8.0v8.0h-8.0zM351.8 314.5h8.0v8.0h-8.0zM368.8 314.5h8.0v8.0h-8.0zM385.9 314.5h8.0v8.0h-8.0zM402.9 314.5h8.0v8.0h-8.0zM419.9 314.5h8.0v8.0h-8.0zM436.9 314.5h8.0v8.0h-8.0zM454.0 314.5h8.0v8.0h-8.0zM471.0 314.5h8.0v8.0h-8.0zM488.0 314.5h8.0v8.0h-8.0zM505.1 314.5h8.0v8.0h-8.0zM522.1 314.5h8.0v8.0h-8.0zM539.1 314.5h8.0v8.0h-8.0zM556.2 314.5h8.0v8.0h-8.0zM573.2 314.5h8.0v8.0h-8.0zM590.2 314.5h8.0v8.0h-8.0zM607.3 314.5h8.0v8.0h-8.0zM624.3 314.5h8.0v8.0h-8.0zM641.3 314.5h8.0v8.0h-8.0zM658.3 314.5h8.0v8.0h-8.0zM675.4 314.5h8.0v8.0h-8.0zM692.4 314.5h8.0v8.0h-8.0zM709.4 314.5h8.0v8.0h-8.0zM760.5 314.5h8.0v8.0h-8.0zM777.6 314.5h8.0v8.0h-8.0zM794.6 314.5h8.0v8.0h-8.0zM811.6 314.5h8.0v8.0h-8.0zM828.6 314.5h8.0v8.0h-8.0zM845.7 314.5h8.0v8.0h-8.0zM862.7 314.5h8.0v8.0h-8.0zM879.7 314.5h8.0v8.0h-8.0zM896.8 314.5h8.0v8.0h-8.0zM913.8 314.5h8.0v8.0h-8.0zM981.9 314.5h8.0v8.0h-8.0zM998.9 314.5h8.0v8.0h-8.0zM1016.0 314.5h8.0v8.0h-8.0zM1033.0 314.5h8.0v8.0h-8.0zM1050.0 314.5h8.0v8.0h-8.0zM1237.4 314.5h8.0v8.0h-8.0zM1254.4 314.5h8.0v8.0h-8.0zM1271.4 314.5h8.0v8.0h-8.0zM1288.5 314.5h8.0v8.0h-8.0zM1305.5 314.5h8.0v8.0h-8.0zM1322.5 314.5h8.0v8.0h-8.0zM1339.5 314.5h8.0v8.0h-8.0zM1356.6 314.5h8.0v8.0h-8.0zM1373.6 314.5h8.0v8.0h-8.0zM1390.6 314.5h8.0v8.0h-8.0zM1407.7 314.5h8.0v8.0h-8.0zM1424.7 314.5h8.0v8.0h-8.0zM1441.7 314.5h8.0v8.0h-8.0zM1458.8 314.5h8.0v8.0h-8.0zM1475.8 314.5h8.0v8.0h-8.0zM1492.8 314.5h8.0v8.0h-8.0zM1509.8 314.5h8.0v8.0h-8.0zM1526.9 314.5h8.0v8.0h-8.0zM1543.9 314.5h8.0v8.0h-8.0zM1560.9 314.5h8.0v8.0h-8.0zM1578.0 314.5h8.0v8.0h-8.0zM1595.0 314.5h8.0v8.0h-8.0zM1612.0 314.5h8.0v8.0h-8.0zM1629.1 314.5h8.0v8.0h-8.0zM1646.1 314.5h8.0v8.0h-8.0zM1663.1 314.5h8.0v8.0h-8.0zM1680.1 314.5h8.0v8.0h-8.0zM1697.2 314.5h8.0v8.0h-8.0zM1714.2 314.5h8.0v8.0h-8.0zM1731.2 314.5h8.0v8.0h-8.0zM1748.3 314.5h8.0v8.0h-8.0zM1765.3 314.5h8.0v8.0h-8.0zM1782.3 314.5h8.0v8.0h-8.0zM1799.4 314.5h8.0v8.0h-8.0zM1816.4 314.5h8.0v8.0h-8.0zM1833.4 314.5h8.0v8.0h-8.0zM1850.4 314.5h8.0v8.0h-8.0zM1867.5 314.5h8.0v8.0h-8.0zM1884.5 314.5h8.0v8.0h-8.0zM1901.5 314.5h8.0v8.0h-8.0zM1918.6 314.5h8.0v8.0h-8.0zM1935.6 314.5h8.0v8.0h-8.0zM1952.6 314.5h8.0v8.0h-8.0zM1969.7 314.5h8.0v8.0h-8.0zM1986.7 314.5h8.0v8.0h-8.0zM2003.7 314.5h8.0v8.0h-8.0zM2020.7 314.5h8.0v8.0h-8.0zM2037.8 314.5h8.0v8.0h-8.0zM2054.8 314.5h8.0v8.0h-8.0zM2071.8 314.5h8.0v8.0h-8.0zM2088.9 314.5h8.0v8.0h-8.0zM2105.9 314.5h8.0v8.0h-8.0zM2122.9 314.5h8.0v8.0h-8.0zM2139.9 314.5h8.0v8.0h-8.0zM2157.0 314.5h8.0v8.0h-8.0zM2174.0 314.5h8.0v8.0h-8.0zM2191.0 314.5h8.0v8.0h-8.0zM2208.1 314.5h8.0v8.0h-8.0zM2225.1 314.5h8.0v8.0h-8.0zM2242.1 314.5h8.0v8.0h-8.0zM2259.2 314.5h8.0v8.0h-8.0zM2276.2 314.5h8.0v8.0h-8.0zM2293.2 314.5h8.0v8.0h-8.0zM2310.2 314.5h8.0v8.0h-8.0zM2327.3 314.5h8.0v8.0h-8.0zM2344.3 314.5h8.0v8.0h-8.0zM2361.3 314.5h8.0v8.0h-8.0zM2378.4 314.5h8.0v8.0h-8.0zM2395.4 314.5h8.0v8.0h-8.0zM2412.4 314.5h8.0v8.0h-8.0zM2429.5 314.5h8.0v8.0h-8.0zM2446.5 314.5h8.0v8.0h-8.0zM2463.5 314.5h8.0v8.0h-8.0zM2480.6 314.5h8.0v8.0h-8.0zM11.2 331.6h8.0v8.0h-8.0zM28.2 331.6h8.0v8.0h-8.0zM45.3 331.6h8.0v8.0h-8.0zM62.3 331.6h8.0v8.0h-8.0zM79.3 331.6h8.0v8.0h-8.0zM96.4 331.6h8.0v8.0h-8.0zM113.4 331.6h8.0v8.0h-8.0zM130.4 331.6h8.0v8.0h-8.0zM147.4 331.6h8.0v8.0h-8.0zM164.5 331.6h8.0v8.0h-8.0zM181.5 331.6h8.0v8.0h-8.0zM198.5 331.6h8.0v8.0h-8.0zM215.6 331.6h8.0v8.0h-8.0zM232.6 331.6h8.0v8.0h-8.0zM249.6 331.6h8.0v8.0h-8.0zM266.7 331.6h8.0v8.0h-8.0zM283.7 331.6h8.0v8.0h-8.0zM300.7 331.6h8.0v8.0h-8.0zM317.7 331.6h8.0v8.0h-8.0zM334.8 331.6h8.0v8.0h-8.0zM351.8 331.6h8.0v8.0h-8.0zM368.8 331.6h8.0v8.0h-8.0zM385.9 331.6h8.0v8.0h-8.0zM402.9 331.6h8.0v8.0h-8.0zM419.9 331.6h8.0v8.0h-8.0zM436.9 331.6h8.0v8.0h-8.0zM454.0 331.6h8.0v8.0h-8.0zM471.0 331.6h8.0v8.0h-8.0zM488.0 331.6h8.0v8.0h-8.0zM505.1 331.6h8.0v8.0h-8.0zM522.1 331.6h8.0v8.0h-8.0zM539.1 331.6h8.0v8.0h-8.0zM556.2 331.6h8.0v8.0h-8.0zM573.2 331.6h8.0v8.0h-8.0zM590.2 331.6h8.0v8.0h-8.0zM607.3 331.6h8.0v8.0h-8.0zM624.3 331.6h8.0v8.0h-8.0zM641.3 331.6h8.0v8.0h-8.0zM658.3 331.6h8.0v8.0h-8.0zM675.4 331.6h8.0v8.0h-8.0zM692.4 331.6h8.0v8.0h-8.0zM709.4 331.6h8.0v8.0h-8.0zM828.6 331.6h8.0v8.0h-8.0zM845.7 331.6h8.0v8.0h-8.0zM862.7 331.6h8.0v8.0h-8.0zM981.9 331.6h8.0v8.0h-8.0zM998.9 331.6h8.0v8.0h-8.0zM1237.4 331.6h8.0v8.0h-8.0zM1254.4 331.6h8.0v8.0h-8.0zM1271.4 331.6h8.0v8.0h-8.0zM1288.5 331.6h8.0v8.0h-8.0zM1305.5 331.6h8.0v8.0h-8.0zM1322.5 331.6h8.0v8.0h-8.0zM1339.5 331.6h8.0v8.0h-8.0zM1356.6 331.6h8.0v8.0h-8.0zM1373.6 331.6h8.0v8.0h-8.0zM1390.6 331.6h8.0v8.0h-8.0zM1407.7 331.6h8.0v8.0h-8.0zM1424.7 331.6h8.0v8.0h-8.0zM1441.7 331.6h8.0v8.0h-8.0zM1458.8 331.6h8.0v8.0h-8.0zM1475.8 331.6h8.0v8.0h-8.0zM1492.8 331.6h8.0v8.0h-8.0zM1509.8 331.6h8.0v8.0h-8.0zM1526.9 331.6h8.0v8.0h-8.0zM1543.9 331.6h8.0v8.0h-8.0zM1560.9 331.6h8.0v8.0h-8.0zM1578.0 331.6h8.0v8.0h-8.0zM1595.0 331.6h8.0v8.0h-8.0zM1612.0 331.6h8.0v8.0h-8.0zM1629.1 331.6h8.0v8.0h-8.0zM1646.1 331.6h8.0v8.0h-8.0zM1663.1 331.6h8.0v8.0h-8.0zM1680.1 331.6h8.0v8.0h-8.0zM1697.2 331.6h8.0v8.0h-8.0zM1714.2 331.6h8.0v8.0h-8.0zM1731.2 331.6h8.0v8.0h-8.0zM1748.3 331.6h8.0v8.0h-8.0zM1765.3 331.6h8.0v8.0h-8.0zM1782.3 331.6h8.0v8.0h-8.0zM1799.4 331.6h8.0v8.0h-8.0zM1816.4 331.6h8.0v8.0h-8.0zM1833.4 331.6h8.0v8.0h-8.0zM1850.4 331.6h8.0v8.0h-8.0zM1867.5 331.6h8.0v8.0h-8.0zM1884.5 331.6h8.0v8.0h-8.0zM1901.5 331.6h8.0v8.0h-8.0zM1918.6 331.6h8.0v8.0h-8.0zM1935.6 331.6h8.0v8.0h-8.0zM1952.6 331.6h8.0v8.0h-8.0zM1969.7 331.6h8.0v8.0h-8.0zM1986.7 331.6h8.0v8.0h-8.0zM2003.7 331.6h8.0v8.0h-8.0zM2020.7 331.6h8.0v8.0h-8.0zM2037.8 331.6h8.0v8.0h-8.0zM2054.8 331.6h8.0v8.0h-8.0zM2071.8 331.6h8.0v8.0h-8.0zM2088.9 331.6h8.0v8.0h-8.0zM2105.9 331.6h8.0v8.0h-8.0zM2122.9 331.6h8.0v8.0h-8.0zM2139.9 331.6h8.0v8.0h-8.0zM2157.0 331.6h8.0v8.0h-8.0zM2174.0 331.6h8.0v8.0h-8.0zM2191.0 331.6h8.0v8.0h-8.0zM2208.1 331.6h8.0v8.0h-8.0zM2225.1 331.6h8.0v8.0h-8.0zM2242.1 331.6h8.0v8.0h-8.0zM2259.2 331.6h8.0v8.0h-8.0zM2276.2 331.6h8.0v8.0h-8.0zM2293.2 331.6h8.0v8.0h-8.0zM2310.2 331.6h8.0v8.0h-8.0zM2327.3 331.6h8.0v8.0h-8.0zM2344.3 331.6h8.0v8.0h-8.0zM2361.3 331.6h8.0v8.0h-8.0zM2378.4 331.6h8.0v8.0h-8.0zM2395.4 331.6h8.0v8.0h-8.0zM2412.4 331.6h8.0v8.0h-8.0zM2429.5 331.6h8.0v8.0h-8.0zM2446.5 331.6h8.0v8.0h-8.0zM2463.5 331.6h8.0v8.0h-8.0zM2480.6 331.6h8.0v8.0h-8.0zM11.2 348.6h8.0v8.0h-8.0zM28.2 348.6h8.0v8.0h-8.0zM45.3 348.6h8.0v8.0h-8.0zM62.3 348.6h8.0v8.0h-8.0zM79.3 348.6h8.0v8.0h-8.0zM96.4 348.6h8.0v8.0h-8.0zM113.4 348.6h8.0v8.0h-8.0zM130.4 348.6h8.0v8.0h-8.0zM147.4 348.6h8.0v8.0h-8.0zM164.5 348.6h8.0v8.0h-8.0zM181.5 348.6h8.0v8.0h-8.0zM198.5 348.6h8.0v8.0h-8.0zM215.6 348.6h8.0v8.0h-8.0zM232.6 348.6h8.0v8.0h-8.0zM249.6 348.6h8.0v8.0h-8.0zM266.7 348.6h8.0v8.0h-8.0zM283.7 348.6h8.0v8.0h-8.0zM300.7 348.6h8.0v8.0h-8.0zM317.7 348.6h8.0v8.0h-8.0zM334.8 348.6h8.0v8.0h-8.0zM351.8 348.6h8.0v8.0h-8.0zM368.8 348.6h8.0v8.0h-8.0zM385.9 348.6h8.0v8.0h-8.0zM402.9 348.6h8.0v8.0h-8.0zM419.9 348.6h8.0v8.0h-8.0zM436.9 348.6h8.0v8.0h-8.0zM454.0 348.6h8.0v8.0h-8.0zM471.0 348.6h8.0v8.0h-8.0zM488.0 348.6h8.0v8.0h-8.0zM505.1 348.6h8.0v8.0h-8.0zM522.1 348.6h8.0v8.0h-8.0zM539.1 348.6h8.0v8.0h-8.0zM556.2 348.6h8.0v8.0h-8.0zM573.2 348.6h8.0v8.0h-8.0zM590.2 348.6h8.0v8.0h-8.0zM607.3 348.6h8.0v8.0h-8.0zM828.6 348.6h8.0v8.0h-8.0zM845.7 348.6h8.0v8.0h-8.0zM1237.4 348.6h8.0v8.0h-8.0zM1254.4 348.6h8.0v8.0h-8.0zM1271.4 348.6h8.0v8.0h-8.0zM1288.5 348.6h8.0v8.0h-8.0zM1322.5 348.6h8.0v8.0h-8.0zM1339.5 348.6h8.0v8.0h-8.0zM1356.6 348.6h8.0v8.0h-8.0zM1373.6 348.6h8.0v8.0h-8.0zM1390.6 348.6h8.0v8.0h-8.0zM1407.7 348.6h8.0v8.0h-8.0zM1424.7 348.6h8.0v8.0h-8.0zM1441.7 348.6h8.0v8.0h-8.0zM1458.8 348.6h8.0v8.0h-8.0zM1475.8 348.6h8.0v8.0h-8.0zM1492.8 348.6h8.0v8.0h-8.0zM1509.8 348.6h8.0v8.0h-8.0zM1526.9 348.6h8.0v8.0h-8.0zM1543.9 348.6h8.0v8.0h-8.0zM1560.9 348.6h8.0v8.0h-8.0zM1578.0 348.6h8.0v8.0h-8.0zM1595.0 348.6h8.0v8.0h-8.0zM1612.0 348.6h8.0v8.0h-8.0zM1629.1 348.6h8.0v8.0h-8.0zM1646.1 348.6h8.0v8.0h-8.0zM1663.1 348.6h8.0v8.0h-8.0zM1680.1 348.6h8.0v8.0h-8.0zM1697.2 348.6h8.0v8.0h-8.0zM1714.2 348.6h8.0v8.0h-8.0zM1731.2 348.6h8.0v8.0h-8.0zM1748.3 348.6h8.0v8.0h-8.0zM1765.3 348.6h8.0v8.0h-8.0zM1782.3 348.6h8.0v8.0h-8.0zM1799.4 348.6h8.0v8.0h-8.0zM1816.4 348.6h8.0v8.0h-8.0zM1833.4 348.6h8.0v8.0h-8.0zM1850.4 348.6h8.0v8.0h-8.0zM1867.5 348.6h8.0v8.0h-8.0zM1884.5 348.6h8.0v8.0h-8.0zM1901.5 348.6h8.0v8.0h-8.0zM1918.6 348.6h8.0v8.0h-8.0zM1935.6 348.6h8.0v8.0h-8.0zM1952.6 348.6h8.0v8.0h-8.0zM1969.7 348.6h8.0v8.0h-8.0zM1986.7 348.6h8.0v8.0h-8.0zM2003.7 348.6h8.0v8.0h-8.0zM2020.7 348.6h8.0v8.0h-8.0zM2037.8 348.6h8.0v8.0h-8.0zM2054.8 348.6h8.0v8.0h-8.0zM2071.8 348.6h8.0v8.0h-8.0zM2088.9 348.6h8.0v8.0h-8.0zM2105.9 348.6h8.0v8.0h-8.0zM2122.9 348.6h8.0v8.0h-8.0zM2139.9 348.6h8.0v8.0h-8.0zM2157.0 348.6h8.0v8.0h-8.0zM2174.0 348.6h8.0v8.0h-8.0zM2191.0 348.6h8.0v8.0h-8.0zM2208.1 348.6h8.0v8.0h-8.0zM2225.1 348.6h8.0v8.0h-8.0zM2242.1 348.6h8.0v8.0h-8.0zM2259.2 348.6h8.0v8.0h-8.0zM2276.2 348.6h8.0v8.0h-8.0zM2293.2 348.6h8.0v8.0h-8.0zM2310.2 348.6h8.0v8.0h-8.0zM2327.3 348.6h8.0v8.0h-8.0zM2344.3 348.6h8.0v8.0h-8.0zM2361.3 348.6h8.0v8.0h-8.0zM2378.4 348.6h8.0v8.0h-8.0zM2395.4 348.6h8.0v8.0h-8.0zM2412.4 348.6h8.0v8.0h-8.0zM2429.5 348.6h8.0v8.0h-8.0zM2446.5 348.6h8.0v8.0h-8.0zM2463.5 348.6h8.0v8.0h-8.0zM2480.6 348.6h8.0v8.0h-8.0zM11.2 365.6h8.0v8.0h-8.0zM28.2 365.6h8.0v8.0h-8.0zM45.3 365.6h8.0v8.0h-8.0zM62.3 365.6h8.0v8.0h-8.0zM79.3 365.6h8.0v8.0h-8.0zM96.4 365.6h8.0v8.0h-8.0zM113.4 365.6h8.0v8.0h-8.0zM130.4 365.6h8.0v8.0h-8.0zM147.4 365.6h8.0v8.0h-8.0zM164.5 365.6h8.0v8.0h-8.0zM181.5 365.6h8.0v8.0h-8.0zM198.5 365.6h8.0v8.0h-8.0zM215.6 365.6h8.0v8.0h-8.0zM232.6 365.6h8.0v8.0h-8.0zM249.6 365.6h8.0v8.0h-8.0zM266.7 365.6h8.0v8.0h-8.0zM283.7 365.6h8.0v8.0h-8.0zM300.7 365.6h8.0v8.0h-8.0zM317.7 365.6h8.0v8.0h-8.0zM334.8 365.6h8.0v8.0h-8.0zM351.8 365.6h8.0v8.0h-8.0zM368.8 365.6h8.0v8.0h-8.0zM385.9 365.6h8.0v8.0h-8.0zM402.9 365.6h8.0v8.0h-8.0zM419.9 365.6h8.0v8.0h-8.0zM436.9 365.6h8.0v8.0h-8.0zM454.0 365.6h8.0v8.0h-8.0zM471.0 365.6h8.0v8.0h-8.0zM590.2 365.6h8.0v8.0h-8.0zM607.3 365.6h8.0v8.0h-8.0zM624.3 365.6h8.0v8.0h-8.0zM641.3 365.6h8.0v8.0h-8.0zM658.3 365.6h8.0v8.0h-8.0zM675.4 365.6h8.0v8.0h-8.0zM692.4 365.6h8.0v8.0h-8.0zM828.6 365.6h8.0v8.0h-8.0zM845.7 365.6h8.0v8.0h-8.0zM1118.2 365.6h8.0v8.0h-8.0zM1135.2 365.6h8.0v8.0h-8.0zM1169.2 365.6h8.0v8.0h-8.0zM1186.3 365.6h8.0v8.0h-8.0zM1203.3 365.6h8.0v8.0h-8.0zM1220.3 365.6h8.0v8.0h-8.0zM1237.4 365.6h8.0v8.0h-8.0zM1254.4 365.6h8.0v8.0h-8.0zM1271.4 365.6h8.0v8.0h-8.0zM1288.5 365.6h8.0v8.0h-8.0zM1305.5 365.6h8.0v8.0h-8.0zM1322.5 365.6h8.0v8.0h-8.0zM1339.5 365.6h8.0v8.0h-8.0zM1356.6 365.6h8.0v8.0h-8.0zM1373.6 365.6h8.0v8.0h-8.0zM1390.6 365.6h8.0v8.0h-8.0zM1407.7 365.6h8.0v8.0h-8.0zM1424.7 365.6h8.0v8.0h-8.0zM1441.7 365.6h8.0v8.0h-8.0zM1458.8 365.6h8.0v8.0h-8.0zM1475.8 365.6h8.0v8.0h-8.0zM1492.8 365.6h8.0v8.0h-8.0zM1509.8 365.6h8.0v8.0h-8.0zM1526.9 365.6h8.0v8.0h-8.0zM1543.9 365.6h8.0v8.0h-8.0zM1560.9 365.6h8.0v8.0h-8.0zM1578.0 365.6h8.0v8.0h-8.0zM1595.0 365.6h8.0v8.0h-8.0zM1612.0 365.6h8.0v8.0h-8.0zM1629.1 365.6h8.0v8.0h-8.0zM1646.1 365.6h8.0v8.0h-8.0zM1663.1 365.6h8.0v8.0h-8.0zM1680.1 365.6h8.0v8.0h-8.0zM1697.2 365.6h8.0v8.0h-8.0zM1714.2 365.6h8.0v8.0h-8.0zM1731.2 365.6h8.0v8.0h-8.0zM1748.3 365.6h8.0v8.0h-8.0zM1765.3 365.6h8.0v8.0h-8.0zM1782.3 365.6h8.0v8.0h-8.0zM1799.4 365.6h8.0v8.0h-8.0zM1816.4 365.6h8.0v8.0h-8.0zM1833.4 365.6h8.0v8.0h-8.0zM1850.4 365.6h8.0v8.0h-8.0zM1867.5 365.6h8.0v8.0h-8.0zM1884.5 365.6h8.0v8.0h-8.0zM1901.5 365.6h8.0v8.0h-8.0zM1918.6 365.6h8.0v8.0h-8.0zM1935.6 365.6h8.0v8.0h-8.0zM1952.6 365.6h8.0v8.0h-8.0zM1969.7 365.6h8.0v8.0h-8.0zM1986.7 365.6h8.0v8.0h-8.0zM2003.7 365.6h8.0v8.0h-8.0zM2020.7 365.6h8.0v8.0h-8.0zM2037.8 365.6h8.0v8.0h-8.0zM2054.8 365.6h8.0v8.0h-8.0zM2071.8 365.6h8.0v8.0h-8.0zM2088.9 365.6h8.0v8.0h-8.0zM2105.9 365.6h8.0v8.0h-8.0zM2122.9 365.6h8.0v8.0h-8.0zM2139.9 365.6h8.0v8.0h-8.0zM2157.0 365.6h8.0v8.0h-8.0zM2174.0 365.6h8.0v8.0h-8.0zM2191.0 365.6h8.0v8.0h-8.0zM2208.1 365.6h8.0v8.0h-8.0zM2225.1 365.6h8.0v8.0h-8.0zM2242.1 365.6h8.0v8.0h-8.0zM2259.2 365.6h8.0v8.0h-8.0zM2276.2 365.6h8.0v8.0h-8.0zM2293.2 365.6h8.0v8.0h-8.0zM2327.3 365.6h8.0v8.0h-8.0zM2344.3 365.6h8.0v8.0h-8.0zM2361.3 365.6h8.0v8.0h-8.0zM2378.4 365.6h8.0v8.0h-8.0zM2395.4 365.6h8.0v8.0h-8.0zM2412.4 365.6h8.0v8.0h-8.0zM11.2 382.7h8.0v8.0h-8.0zM28.2 382.7h8.0v8.0h-8.0zM147.4 382.7h8.0v8.0h-8.0zM164.5 382.7h8.0v8.0h-8.0zM181.5 382.7h8.0v8.0h-8.0zM198.5 382.7h8.0v8.0h-8.0zM215.6 382.7h8.0v8.0h-8.0zM232.6 382.7h8.0v8.0h-8.0zM249.6 382.7h8.0v8.0h-8.0zM266.7 382.7h8.0v8.0h-8.0zM283.7 382.7h8.0v8.0h-8.0zM300.7 382.7h8.0v8.0h-8.0zM317.7 382.7h8.0v8.0h-8.0zM334.8 382.7h8.0v8.0h-8.0zM351.8 382.7h8.0v8.0h-8.0zM368.8 382.7h8.0v8.0h-8.0zM385.9 382.7h8.0v8.0h-8.0zM402.9 382.7h8.0v8.0h-8.0zM419.9 382.7h8.0v8.0h-8.0zM436.9 382.7h8.0v8.0h-8.0zM454.0 382.7h8.0v8.0h-8.0zM471.0 382.7h8.0v8.0h-8.0zM488.0 382.7h8.0v8.0h-8.0zM505.1 382.7h8.0v8.0h-8.0zM522.1 382.7h8.0v8.0h-8.0zM590.2 382.7h8.0v8.0h-8.0zM607.3 382.7h8.0v8.0h-8.0zM624.3 382.7h8.0v8.0h-8.0zM641.3 382.7h8.0v8.0h-8.0zM658.3 382.7h8.0v8.0h-8.0zM675.4 382.7h8.0v8.0h-8.0zM692.4 382.7h8.0v8.0h-8.0zM709.4 382.7h8.0v8.0h-8.0zM1101.1 382.7h8.0v8.0h-8.0zM1118.2 382.7h8.0v8.0h-8.0zM1135.2 382.7h8.0v8.0h-8.0zM1220.3 382.7h8.0v8.0h-8.0zM1237.4 382.7h8.0v8.0h-8.0zM1254.4 382.7h8.0v8.0h-8.0zM1271.4 382.7h8.0v8.0h-8.0zM1288.5 382.7h8.0v8.0h-8.0zM1305.5 382.7h8.0v8.0h-8.0zM1322.5 382.7h8.0v8.0h-8.0zM1339.5 382.7h8.0v8.0h-8.0zM1356.6 382.7h8.0v8.0h-8.0zM1373.6 382.7h8.0v8.0h-8.0zM1390.6 382.7h8.0v8.0h-8.0zM1407.7 382.7h8.0v8.0h-8.0zM1424.7 382.7h8.0v8.0h-8.0zM1441.7 382.7h8.0v8.0h-8.0zM1458.8 382.7h8.0v8.0h-8.0zM1475.8 382.7h8.0v8.0h-8.0zM1492.8 382.7h8.0v8.0h-8.0zM1509.8 382.7h8.0v8.0h-8.0zM1526.9 382.7h8.0v8.0h-8.0zM1543.9 382.7h8.0v8.0h-8.0zM1560.9 382.7h8.0v8.0h-8.0zM1578.0 382.7h8.0v8.0h-8.0zM1595.0 382.7h8.0v8.0h-8.0zM1612.0 382.7h8.0v8.0h-8.0zM1629.1 382.7h8.0v8.0h-8.0zM1646.1 382.7h8.0v8.0h-8.0zM1663.1 382.7h8.0v8.0h-8.0zM1680.1 382.7h8.0v8.0h-8.0zM1697.2 382.7h8.0v8.0h-8.0zM1714.2 382.7h8.0v8.0h-8.0zM1731.2 382.7h8.0v8.0h-8.0zM1748.3 382.7h8.0v8.0h-8.0zM1765.3 382.7h8.0v8.0h-8.0zM1782.3 382.7h8.0v8.0h-8.0zM1799.4 382.7h8.0v8.0h-8.0zM1816.4 382.7h8.0v8.0h-8.0zM1833.4 382.7h8.0v8.0h-8.0zM1850.4 382.7h8.0v8.0h-8.0zM1867.5 382.7h8.0v8.0h-8.0zM1884.5 382.7h8.0v8.0h-8.0zM1901.5 382.7h8.0v8.0h-8.0zM1918.6 382.7h8.0v8.0h-8.0zM1935.6 382.7h8.0v8.0h-8.0zM1952.6 382.7h8.0v8.0h-8.0zM1969.7 382.7h8.0v8.0h-8.0zM1986.7 382.7h8.0v8.0h-8.0zM2003.7 382.7h8.0v8.0h-8.0zM2020.7 382.7h8.0v8.0h-8.0zM2037.8 382.7h8.0v8.0h-8.0zM2054.8 382.7h8.0v8.0h-8.0zM2071.8 382.7h8.0v8.0h-8.0zM2088.9 382.7h8.0v8.0h-8.0zM2105.9 382.7h8.0v8.0h-8.0zM2122.9 382.7h8.0v8.0h-8.0zM2139.9 382.7h8.0v8.0h-8.0zM2157.0 382.7h8.0v8.0h-8.0zM2174.0 382.7h8.0v8.0h-8.0zM2191.0 382.7h8.0v8.0h-8.0zM2208.1 382.7h8.0v8.0h-8.0zM2225.1 382.7h8.0v8.0h-8.0zM2310.2 382.7h8.0v8.0h-8.0zM2327.3 382.7h8.0v8.0h-8.0zM2344.3 382.7h8.0v8.0h-8.0zM2361.3 382.7h8.0v8.0h-8.0zM164.5 399.7h8.0v8.0h-8.0zM181.5 399.7h8.0v8.0h-8.0zM198.5 399.7h8.0v8.0h-8.0zM215.6 399.7h8.0v8.0h-8.0zM232.6 399.7h8.0v8.0h-8.0zM249.6 399.7h8.0v8.0h-8.0zM266.7 399.7h8.0v8.0h-8.0zM283.7 399.7h8.0v8.0h-8.0zM300.7 399.7h8.0v8.0h-8.0zM317.7 399.7h8.0v8.0h-8.0zM334.8 399.7h8.0v8.0h-8.0zM351.8 399.7h8.0v8.0h-8.0zM368.8 399.7h8.0v8.0h-8.0zM385.9 399.7h8.0v8.0h-8.0zM402.9 399.7h8.0v8.0h-8.0zM419.9 399.7h8.0v8.0h-8.0zM436.9 399.7h8.0v8.0h-8.0zM454.0 399.7h8.0v8.0h-8.0zM471.0 399.7h8.0v8.0h-8.0zM488.0 399.7h8.0v8.0h-8.0zM505.1 399.7h8.0v8.0h-8.0zM522.1 399.7h8.0v8.0h-8.0zM539.1 399.7h8.0v8.0h-8.0zM556.2 399.7h8.0v8.0h-8.0zM573.2 399.7h8.0v8.0h-8.0zM590.2 399.7h8.0v8.0h-8.0zM607.3 399.7h8.0v8.0h-8.0zM624.3 399.7h8.0v8.0h-8.0zM641.3 399.7h8.0v8.0h-8.0zM658.3 399.7h8.0v8.0h-8.0zM675.4 399.7h8.0v8.0h-8.0zM692.4 399.7h8.0v8.0h-8.0zM709.4 399.7h8.0v8.0h-8.0zM726.5 399.7h8.0v8.0h-8.0zM743.5 399.7h8.0v8.0h-8.0zM1084.1 399.7h8.0v8.0h-8.0zM1101.1 399.7h8.0v8.0h-8.0zM1118.2 399.7h8.0v8.0h-8.0zM1135.2 399.7h8.0v8.0h-8.0zM1152.2 399.7h8.0v8.0h-8.0zM1203.3 399.7h8.0v8.0h-8.0zM1220.3 399.7h8.0v8.0h-8.0zM1237.4 399.7h8.0v8.0h-8.0zM1254.4 399.7h8.0v8.0h-8.0zM1271.4 399.7h8.0v8.0h-8.0zM1288.5 399.7h8.0v8.0h-8.0zM1305.5 399.7h8.0v8.0h-8.0zM1322.5 399.7h8.0v8.0h-8.0zM1339.5 399.7h8.0v8.0h-8.0zM1356.6 399.7h8.0v8.0h-8.0zM1373.6 399.7h8.0v8.0h-8.0zM1390.6 399.7h8.0v8.0h-8.0zM1407.7 399.7h8.0v8.0h-8.0zM1424.7 399.7h8.0v8.0h-8.0zM1441.7 399.7h8.0v8.0h-8.0zM1458.8 399.7h8.0v8.0h-8.0zM1475.8 399.7h8.0v8.0h-8.0zM1492.8 399.7h8.0v8.0h-8.0zM1509.8 399.7h8.0v8.0h-8.0zM1526.9 399.7h8.0v8.0h-8.0zM1543.9 399.7h8.0v8.0h-8.0zM1560.9 399.7h8.0v8.0h-8.0zM1578.0 399.7h8.0v8.0h-8.0zM1595.0 399.7h8.0v8.0h-8.0zM1612.0 399.7h8.0v8.0h-8.0zM1629.1 399.7h8.0v8.0h-8.0zM1646.1 399.7h8.0v8.0h-8.0zM1663.1 399.7h8.0v8.0h-8.0zM1680.1 399.7h8.0v8.0h-8.0zM1697.2 399.7h8.0v8.0h-8.0zM1714.2 399.7h8.0v8.0h-8.0zM1731.2 399.7h8.0v8.0h-8.0zM1748.3 399.7h8.0v8.0h-8.0zM1765.3 399.7h8.0v8.0h-8.0zM1782.3 399.7h8.0v8.0h-8.0zM1799.4 399.7h8.0v8.0h-8.0zM1816.4 399.7h8.0v8.0h-8.0zM1833.4 399.7h8.0v8.0h-8.0zM1850.4 399.7h8.0v8.0h-8.0zM1867.5 399.7h8.0v8.0h-8.0zM1884.5 399.7h8.0v8.0h-8.0zM1901.5 399.7h8.0v8.0h-8.0zM1918.6 399.7h8.0v8.0h-8.0zM1935.6 399.7h8.0v8.0h-8.0zM1952.6 399.7h8.0v8.0h-8.0zM1969.7 399.7h8.0v8.0h-8.0zM1986.7 399.7h8.0v8.0h-8.0zM2003.7 399.7h8.0v8.0h-8.0zM2020.7 399.7h8.0v8.0h-8.0zM2037.8 399.7h8.0v8.0h-8.0zM2054.8 399.7h8.0v8.0h-8.0zM2071.8 399.7h8.0v8.0h-8.0zM2088.9 399.7h8.0v8.0h-8.0zM2105.9 399.7h8.0v8.0h-8.0zM2122.9 399.7h8.0v8.0h-8.0zM2139.9 399.7h8.0v8.0h-8.0zM2157.0 399.7h8.0v8.0h-8.0zM2174.0 399.7h8.0v8.0h-8.0zM2191.0 399.7h8.0v8.0h-8.0zM2208.1 399.7h8.0v8.0h-8.0zM2310.2 399.7h8.0v8.0h-8.0zM2327.3 399.7h8.0v8.0h-8.0zM2344.3 399.7h8.0v8.0h-8.0zM2361.3 399.7h8.0v8.0h-8.0zM181.5 416.7h8.0v8.0h-8.0zM198.5 416.7h8.0v8.0h-8.0zM215.6 416.7h8.0v8.0h-8.0zM232.6 416.7h8.0v8.0h-8.0zM249.6 416.7h8.0v8.0h-8.0zM266.7 416.7h8.0v8.0h-8.0zM283.7 416.7h8.0v8.0h-8.0zM300.7 416.7h8.0v8.0h-8.0zM317.7 416.7h8.0v8.0h-8.0zM334.8 416.7h8.0v8.0h-8.0zM351.8 416.7h8.0v8.0h-8.0zM368.8 416.7h8.0v8.0h-8.0zM385.9 416.7h8.0v8.0h-8.0zM402.9 416.7h8.0v8.0h-8.0zM419.9 416.7h8.0v8.0h-8.0zM436.9 416.7h8.0v8.0h-8.0zM454.0 416.7h8.0v8.0h-8.0zM471.0 416.7h8.0v8.0h-8.0zM488.0 416.7h8.0v8.0h-8.0zM505.1 416.7h8.0v8.0h-8.0zM522.1 416.7h8.0v8.0h-8.0zM539.1 416.7h8.0v8.0h-8.0zM556.2 416.7h8.0v8.0h-8.0zM573.2 416.7h8.0v8.0h-8.0zM590.2 416.7h8.0v8.0h-8.0zM607.3 416.7h8.0v8.0h-8.0zM624.3 416.7h8.0v8.0h-8.0zM641.3 416.7h8.0v8.0h-8.0zM658.3 416.7h8.0v8.0h-8.0zM675.4 416.7h8.0v8.0h-8.0zM692.4 416.7h8.0v8.0h-8.0zM709.4 416.7h8.0v8.0h-8.0zM726.5 416.7h8.0v8.0h-8.0zM743.5 416.7h8.0v8.0h-8.0zM1084.1 416.7h8.0v8.0h-8.0zM1101.1 416.7h8.0v8.0h-8.0zM1118.2 416.7h8.0v8.0h-8.0zM1135.2 416.7h8.0v8.0h-8.0zM1152.2 416.7h8.0v8.0h-8.0zM1169.2 416.7h8.0v8.0h-8.0zM1186.3 416.7h8.0v8.0h-8.0zM1203.3 416.7h8.0v8.0h-8.0zM1220.3 416.7h8.0v8.0h-8.0zM1237.4 416.7h8.0v8.0h-8.0zM1254.4 416.7h8.0v8.0h-8.0zM1271.4 416.7h8.0v8.0h-8.0zM1288.5 416.7h8.0v8.0h-8.0zM1305.5 416.7h8.0v8.0h-8.0zM1322.5 416.7h8.0v8.0h-8.0zM1339.5 416.7h8.0v8.0h-8.0zM1356.6 416.7h8.0v8.0h-8.0zM1373.6 416.7h8.0v8.0h-8.0zM1390.6 416.7h8.0v8.0h-8.0zM1407.7 416.7h8.0v8.0h-8.0zM1424.7 416.7h8.0v8.0h-8.0zM1441.7 416.7h8.0v8.0h-8.0zM1458.8 416.7h8.0v8.0h-8.0zM1475.8 416.7h8.0v8.0h-8.0zM1492.8 416.7h8.0v8.0h-8.0zM1509.8 416.7h8.0v8.0h-8.0zM1526.9 416.7h8.0v8.0h-8.0zM1543.9 416.7h8.0v8.0h-8.0zM1560.9 416.7h8.0v8.0h-8.0zM1578.0 416.7h8.0v8.0h-8.0zM1595.0 416.7h8.0v8.0h-8.0zM1612.0 416.7h8.0v8.0h-8.0zM1629.1 416.7h8.0v8.0h-8.0zM1646.1 416.7h8.0v8.0h-8.0zM1663.1 416.7h8.0v8.0h-8.0zM1680.1 416.7h8.0v8.0h-8.0zM1697.2 416.7h8.0v8.0h-8.0zM1714.2 416.7h8.0v8.0h-8.0zM1731.2 416.7h8.0v8.0h-8.0zM1748.3 416.7h8.0v8.0h-8.0zM1765.3 416.7h8.0v8.0h-8.0zM1782.3 416.7h8.0v8.0h-8.0zM1799.4 416.7h8.0v8.0h-8.0zM1816.4 416.7h8.0v8.0h-8.0zM1833.4 416.7h8.0v8.0h-8.0zM1850.4 416.7h8.0v8.0h-8.0zM1867.5 416.7h8.0v8.0h-8.0zM1884.5 416.7h8.0v8.0h-8.0zM1901.5 416.7h8.0v8.0h-8.0zM1918.6 416.7h8.0v8.0h-8.0zM1935.6 416.7h8.0v8.0h-8.0zM1952.6 416.7h8.0v8.0h-8.0zM1969.7 416.7h8.0v8.0h-8.0zM1986.7 416.7h8.0v8.0h-8.0zM2003.7 416.7h8.0v8.0h-8.0zM2020.7 416.7h8.0v8.0h-8.0zM2037.8 416.7h8.0v8.0h-8.0zM2054.8 416.7h8.0v8.0h-8.0zM2071.8 416.7h8.0v8.0h-8.0zM2088.9 416.7h8.0v8.0h-8.0zM2105.9 416.7h8.0v8.0h-8.0zM2122.9 416.7h8.0v8.0h-8.0zM2139.9 416.7h8.0v8.0h-8.0zM2157.0 416.7h8.0v8.0h-8.0zM2174.0 416.7h8.0v8.0h-8.0zM2191.0 416.7h8.0v8.0h-8.0zM2208.1 416.7h8.0v8.0h-8.0zM2310.2 416.7h8.0v8.0h-8.0zM2327.3 416.7h8.0v8.0h-8.0zM215.6 433.8h8.0v8.0h-8.0zM232.6 433.8h8.0v8.0h-8.0zM249.6 433.8h8.0v8.0h-8.0zM266.7 433.8h8.0v8.0h-8.0zM283.7 433.8h8.0v8.0h-8.0zM300.7 433.8h8.0v8.0h-8.0zM317.7 433.8h8.0v8.0h-8.0zM334.8 433.8h8.0v8.0h-8.0zM351.8 433.8h8.0v8.0h-8.0zM368.8 433.8h8.0v8.0h-8.0zM385.9 433.8h8.0v8.0h-8.0zM402.9 433.8h8.0v8.0h-8.0zM419.9 433.8h8.0v8.0h-8.0zM436.9 433.8h8.0v8.0h-8.0zM454.0 433.8h8.0v8.0h-8.0zM471.0 433.8h8.0v8.0h-8.0zM488.0 433.8h8.0v8.0h-8.0zM505.1 433.8h8.0v8.0h-8.0zM522.1 433.8h8.0v8.0h-8.0zM539.1 433.8h8.0v8.0h-8.0zM556.2 433.8h8.0v8.0h-8.0zM573.2 433.8h8.0v8.0h-8.0zM590.2 433.8h8.0v8.0h-8.0zM607.3 433.8h8.0v8.0h-8.0zM624.3 433.8h8.0v8.0h-8.0zM641.3 433.8h8.0v8.0h-8.0zM658.3 433.8h8.0v8.0h-8.0zM675.4 433.8h8.0v8.0h-8.0zM692.4 433.8h8.0v8.0h-8.0zM709.4 433.8h8.0v8.0h-8.0zM726.5 433.8h8.0v8.0h-8.0zM743.5 433.8h8.0v8.0h-8.0zM760.5 433.8h8.0v8.0h-8.0zM1101.1 433.8h8.0v8.0h-8.0zM1118.2 433.8h8.0v8.0h-8.0zM1135.2 433.8h8.0v8.0h-8.0zM1152.2 433.8h8.0v8.0h-8.0zM1169.2 433.8h8.0v8.0h-8.0zM1186.3 433.8h8.0v8.0h-8.0zM1203.3 433.8h8.0v8.0h-8.0zM1220.3 433.8h8.0v8.0h-8.0zM1237.4 433.8h8.0v8.0h-8.0zM1254.4 433.8h8.0v8.0h-8.0zM1271.4 433.8h8.0v8.0h-8.0zM1288.5 433.8h8.0v8.0h-8.0zM1305.5 433.8h8.0v8.0h-8.0zM1322.5 433.8h8.0v8.0h-8.0zM1339.5 433.8h8.0v8.0h-8.0zM1356.6 433.8h8.0v8.0h-8.0zM1373.6 433.8h8.0v8.0h-8.0zM1390.6 433.8h8.0v8.0h-8.0zM1407.7 433.8h8.0v8.0h-8.0zM1424.7 433.8h8.0v8.0h-8.0zM1441.7 433.8h8.0v8.0h-8.0zM1458.8 433.8h8.0v8.0h-8.0zM1475.8 433.8h8.0v8.0h-8.0zM1492.8 433.8h8.0v8.0h-8.0zM1509.8 433.8h8.0v8.0h-8.0zM1526.9 433.8h8.0v8.0h-8.0zM1543.9 433.8h8.0v8.0h-8.0zM1560.9 433.8h8.0v8.0h-8.0zM1578.0 433.8h8.0v8.0h-8.0zM1595.0 433.8h8.0v8.0h-8.0zM1612.0 433.8h8.0v8.0h-8.0zM1629.1 433.8h8.0v8.0h-8.0zM1646.1 433.8h8.0v8.0h-8.0zM1663.1 433.8h8.0v8.0h-8.0zM1680.1 433.8h8.0v8.0h-8.0zM1697.2 433.8h8.0v8.0h-8.0zM1714.2 433.8h8.0v8.0h-8.0zM1731.2 433.8h8.0v8.0h-8.0zM1748.3 433.8h8.0v8.0h-8.0zM1765.3 433.8h8.0v8.0h-8.0zM1782.3 433.8h8.0v8.0h-8.0zM1799.4 433.8h8.0v8.0h-8.0zM1816.4 433.8h8.0v8.0h-8.0zM1833.4 433.8h8.0v8.0h-8.0zM1850.4 433.8h8.0v8.0h-8.0zM1867.5 433.8h8.0v8.0h-8.0zM1884.5 433.8h8.0v8.0h-8.0zM1901.5 433.8h8.0v8.0h-8.0zM1918.6 433.8h8.0v8.0h-8.0zM1935.6 433.8h8.0v8.0h-8.0zM1952.6 433.8h8.0v8.0h-8.0zM1969.7 433.8h8.0v8.0h-8.0zM1986.7 433.8h8.0v8.0h-8.0zM2003.7 433.8h8.0v8.0h-8.0zM2020.7 433.8h8.0v8.0h-8.0zM2037.8 433.8h8.0v8.0h-8.0zM2054.8 433.8h8.0v8.0h-8.0zM2071.8 433.8h8.0v8.0h-8.0zM2088.9 433.8h8.0v8.0h-8.0zM2105.9 433.8h8.0v8.0h-8.0zM2122.9 433.8h8.0v8.0h-8.0zM2139.9 433.8h8.0v8.0h-8.0zM2157.0 433.8h8.0v8.0h-8.0zM2174.0 433.8h8.0v8.0h-8.0zM2191.0 433.8h8.0v8.0h-8.0zM2208.1 433.8h8.0v8.0h-8.0zM2225.1 433.8h8.0v8.0h-8.0zM232.6 450.8h8.0v8.0h-8.0zM249.6 450.8h8.0v8.0h-8.0zM266.7 450.8h8.0v8.0h-8.0zM283.7 450.8h8.0v8.0h-8.0zM300.7 450.8h8.0v8.0h-8.0zM317.7 450.8h8.0v8.0h-8.0zM334.8 450.8h8.0v8.0h-8.0zM351.8 450.8h8.0v8.0h-8.0zM368.8 450.8h8.0v8.0h-8.0zM385.9 450.8h8.0v8.0h-8.0zM402.9 450.8h8.0v8.0h-8.0zM419.9 450.8h8.0v8.0h-8.0zM436.9 450.8h8.0v8.0h-8.0zM454.0 450.8h8.0v8.0h-8.0zM471.0 450.8h8.0v8.0h-8.0zM488.0 450.8h8.0v8.0h-8.0zM505.1 450.8h8.0v8.0h-8.0zM522.1 450.8h8.0v8.0h-8.0zM539.1 450.8h8.0v8.0h-8.0zM556.2 450.8h8.0v8.0h-8.0zM573.2 450.8h8.0v8.0h-8.0zM590.2 450.8h8.0v8.0h-8.0zM607.3 450.8h8.0v8.0h-8.0zM624.3 450.8h8.0v8.0h-8.0zM641.3 450.8h8.0v8.0h-8.0zM658.3 450.8h8.0v8.0h-8.0zM675.4 450.8h8.0v8.0h-8.0zM692.4 450.8h8.0v8.0h-8.0zM709.4 450.8h8.0v8.0h-8.0zM726.5 450.8h8.0v8.0h-8.0zM743.5 450.8h8.0v8.0h-8.0zM760.5 450.8h8.0v8.0h-8.0zM777.6 450.8h8.0v8.0h-8.0zM1118.2 450.8h8.0v8.0h-8.0zM1135.2 450.8h8.0v8.0h-8.0zM1152.2 450.8h8.0v8.0h-8.0zM1169.2 450.8h8.0v8.0h-8.0zM1186.3 450.8h8.0v8.0h-8.0zM1203.3 450.8h8.0v8.0h-8.0zM1220.3 450.8h8.0v8.0h-8.0zM1237.4 450.8h8.0v8.0h-8.0zM1254.4 450.8h8.0v8.0h-8.0zM1271.4 450.8h8.0v8.0h-8.0zM1288.5 450.8h8.0v8.0h-8.0zM1305.5 450.8h8.0v8.0h-8.0zM1322.5 450.8h8.0v8.0h-8.0zM1339.5 450.8h8.0v8.0h-8.0zM1356.6 450.8h8.0v8.0h-8.0zM1373.6 450.8h8.0v8.0h-8.0zM1390.6 450.8h8.0v8.0h-8.0zM1407.7 450.8h8.0v8.0h-8.0zM1424.7 450.8h8.0v8.0h-8.0zM1441.7 450.8h8.0v8.0h-8.0zM1458.8 450.8h8.0v8.0h-8.0zM1475.8 450.8h8.0v8.0h-8.0zM1492.8 450.8h8.0v8.0h-8.0zM1509.8 450.8h8.0v8.0h-8.0zM1526.9 450.8h8.0v8.0h-8.0zM1543.9 450.8h8.0v8.0h-8.0zM1560.9 450.8h8.0v8.0h-8.0zM1578.0 450.8h8.0v8.0h-8.0zM1595.0 450.8h8.0v8.0h-8.0zM1612.0 450.8h8.0v8.0h-8.0zM1629.1 450.8h8.0v8.0h-8.0zM1646.1 450.8h8.0v8.0h-8.0zM1663.1 450.8h8.0v8.0h-8.0zM1680.1 450.8h8.0v8.0h-8.0zM1697.2 450.8h8.0v8.0h-8.0zM1714.2 450.8h8.0v8.0h-8.0zM1731.2 450.8h8.0v8.0h-8.0zM1748.3 450.8h8.0v8.0h-8.0zM1765.3 450.8h8.0v8.0h-8.0zM1782.3 450.8h8.0v8.0h-8.0zM1799.4 450.8h8.0v8.0h-8.0zM1816.4 450.8h8.0v8.0h-8.0zM1833.4 450.8h8.0v8.0h-8.0zM1850.4 450.8h8.0v8.0h-8.0zM1867.5 450.8h8.0v8.0h-8.0zM1884.5 450.8h8.0v8.0h-8.0zM1901.5 450.8h8.0v8.0h-8.0zM1918.6 450.8h8.0v8.0h-8.0zM1935.6 450.8h8.0v8.0h-8.0zM1952.6 450.8h8.0v8.0h-8.0zM1969.7 450.8h8.0v8.0h-8.0zM1986.7 450.8h8.0v8.0h-8.0zM2003.7 450.8h8.0v8.0h-8.0zM2020.7 450.8h8.0v8.0h-8.0zM2037.8 450.8h8.0v8.0h-8.0zM2054.8 450.8h8.0v8.0h-8.0zM2071.8 450.8h8.0v8.0h-8.0zM2088.9 450.8h8.0v8.0h-8.0zM2105.9 450.8h8.0v8.0h-8.0zM2122.9 450.8h8.0v8.0h-8.0zM2139.9 450.8h8.0v8.0h-8.0zM2157.0 450.8h8.0v8.0h-8.0zM2174.0 450.8h8.0v8.0h-8.0zM2191.0 450.8h8.0v8.0h-8.0zM2208.1 450.8h8.0v8.0h-8.0zM249.6 467.8h8.0v8.0h-8.0zM266.7 467.8h8.0v8.0h-8.0zM283.7 467.8h8.0v8.0h-8.0zM300.7 467.8h8.0v8.0h-8.0zM317.7 467.8h8.0v8.0h-8.0zM334.8 467.8h8.0v8.0h-8.0zM351.8 467.8h8.0v8.0h-8.0zM368.8 467.8h8.0v8.0h-8.0zM385.9 467.8h8.0v8.0h-8.0zM402.9 467.8h8.0v8.0h-8.0zM419.9 467.8h8.0v8.0h-8.0zM436.9 467.8h8.0v8.0h-8.0zM454.0 467.8h8.0v8.0h-8.0zM471.0 467.8h8.0v8.0h-8.0zM488.0 467.8h8.0v8.0h-8.0zM505.1 467.8h8.0v8.0h-8.0zM522.1 467.8h8.0v8.0h-8.0zM539.1 467.8h8.0v8.0h-8.0zM556.2 467.8h8.0v8.0h-8.0zM573.2 467.8h8.0v8.0h-8.0zM590.2 467.8h8.0v8.0h-8.0zM607.3 467.8h8.0v8.0h-8.0zM624.3 467.8h8.0v8.0h-8.0zM641.3 467.8h8.0v8.0h-8.0zM658.3 467.8h8.0v8.0h-8.0zM675.4 467.8h8.0v8.0h-8.0zM692.4 467.8h8.0v8.0h-8.0zM709.4 467.8h8.0v8.0h-8.0zM1152.2 467.8h8.0v8.0h-8.0zM1169.2 467.8h8.0v8.0h-8.0zM1186.3 467.8h8.0v8.0h-8.0zM1203.3 467.8h8.0v8.0h-8.0zM1220.3 467.8h8.0v8.0h-8.0zM1237.4 467.8h8.0v8.0h-8.0zM1254.4 467.8h8.0v8.0h-8.0zM1271.4 467.8h8.0v8.0h-8.0zM1288.5 467.8h8.0v8.0h-8.0zM1305.5 467.8h8.0v8.0h-8.0zM1322.5 467.8h8.0v8.0h-8.0zM1339.5 467.8h8.0v8.0h-8.0zM1356.6 467.8h8.0v8.0h-8.0zM1373.6 467.8h8.0v8.0h-8.0zM1390.6 467.8h8.0v8.0h-8.0zM1407.7 467.8h8.0v8.0h-8.0zM1424.7 467.8h8.0v8.0h-8.0zM1441.7 467.8h8.0v8.0h-8.0zM1458.8 467.8h8.0v8.0h-8.0zM1475.8 467.8h8.0v8.0h-8.0zM1492.8 467.8h8.0v8.0h-8.0zM1509.8 467.8h8.0v8.0h-8.0zM1526.9 467.8h8.0v8.0h-8.0zM1543.9 467.8h8.0v8.0h-8.0zM1560.9 467.8h8.0v8.0h-8.0zM1578.0 467.8h8.0v8.0h-8.0zM1595.0 467.8h8.0v8.0h-8.0zM1612.0 467.8h8.0v8.0h-8.0zM1629.1 467.8h8.0v8.0h-8.0zM1646.1 467.8h8.0v8.0h-8.0zM1663.1 467.8h8.0v8.0h-8.0zM1680.1 467.8h8.0v8.0h-8.0zM1697.2 467.8h8.0v8.0h-8.0zM1714.2 467.8h8.0v8.0h-8.0zM1731.2 467.8h8.0v8.0h-8.0zM1748.3 467.8h8.0v8.0h-8.0zM1765.3 467.8h8.0v8.0h-8.0zM1782.3 467.8h8.0v8.0h-8.0zM1799.4 467.8h8.0v8.0h-8.0zM1816.4 467.8h8.0v8.0h-8.0zM1833.4 467.8h8.0v8.0h-8.0zM1850.4 467.8h8.0v8.0h-8.0zM1867.5 467.8h8.0v8.0h-8.0zM1884.5 467.8h8.0v8.0h-8.0zM1901.5 467.8h8.0v8.0h-8.0zM1918.6 467.8h8.0v8.0h-8.0zM1935.6 467.8h8.0v8.0h-8.0zM1952.6 467.8h8.0v8.0h-8.0zM1969.7 467.8h8.0v8.0h-8.0zM1986.7 467.8h8.0v8.0h-8.0zM2003.7 467.8h8.0v8.0h-8.0zM2020.7 467.8h8.0v8.0h-8.0zM2037.8 467.8h8.0v8.0h-8.0zM2054.8 467.8h8.0v8.0h-8.0zM2071.8 467.8h8.0v8.0h-8.0zM2088.9 467.8h8.0v8.0h-8.0zM2105.9 467.8h8.0v8.0h-8.0zM2122.9 467.8h8.0v8.0h-8.0zM2139.9 467.8h8.0v8.0h-8.0zM2157.0 467.8h8.0v8.0h-8.0zM2174.0 467.8h8.0v8.0h-8.0zM2191.0 467.8h8.0v8.0h-8.0zM2208.1 467.8h8.0v8.0h-8.0zM2225.1 467.8h8.0v8.0h-8.0zM249.6 484.8h8.0v8.0h-8.0zM266.7 484.8h8.0v8.0h-8.0zM283.7 484.8h8.0v8.0h-8.0zM300.7 484.8h8.0v8.0h-8.0zM317.7 484.8h8.0v8.0h-8.0zM334.8 484.8h8.0v8.0h-8.0zM351.8 484.8h8.0v8.0h-8.0zM368.8 484.8h8.0v8.0h-8.0zM385.9 484.8h8.0v8.0h-8.0zM402.9 484.8h8.0v8.0h-8.0zM419.9 484.8h8.0v8.0h-8.0zM436.9 484.8h8.0v8.0h-8.0zM454.0 484.8h8.0v8.0h-8.0zM471.0 484.8h8.0v8.0h-8.0zM488.0 484.8h8.0v8.0h-8.0zM505.1 484.8h8.0v8.0h-8.0zM522.1 484.8h8.0v8.0h-8.0zM539.1 484.8h8.0v8.0h-8.0zM556.2 484.8h8.0v8.0h-8.0zM573.2 484.8h8.0v8.0h-8.0zM590.2 484.8h8.0v8.0h-8.0zM607.3 484.8h8.0v8.0h-8.0zM624.3 484.8h8.0v8.0h-8.0zM641.3 484.8h8.0v8.0h-8.0zM658.3 484.8h8.0v8.0h-8.0zM675.4 484.8h8.0v8.0h-8.0zM692.4 484.8h8.0v8.0h-8.0zM1084.1 484.8h8.0v8.0h-8.0zM1101.1 484.8h8.0v8.0h-8.0zM1118.2 484.8h8.0v8.0h-8.0zM1135.2 484.8h8.0v8.0h-8.0zM1152.2 484.8h8.0v8.0h-8.0zM1169.2 484.8h8.0v8.0h-8.0zM1186.3 484.8h8.0v8.0h-8.0zM1203.3 484.8h8.0v8.0h-8.0zM1220.3 484.8h8.0v8.0h-8.0zM1237.4 484.8h8.0v8.0h-8.0zM1254.4 484.8h8.0v8.0h-8.0zM1271.4 484.8h8.0v8.0h-8.0zM1288.5 484.8h8.0v8.0h-8.0zM1305.5 484.8h8.0v8.0h-8.0zM1322.5 484.8h8.0v8.0h-8.0zM1339.5 484.8h8.0v8.0h-8.0zM1356.6 484.8h8.0v8.0h-8.0zM1373.6 484.8h8.0v8.0h-8.0zM1407.7 484.8h8.0v8.0h-8.0zM1441.7 484.8h8.0v8.0h-8.0zM1458.8 484.8h8.0v8.0h-8.0zM1475.8 484.8h8.0v8.0h-8.0zM1492.8 484.8h8.0v8.0h-8.0zM1509.8 484.8h8.0v8.0h-8.0zM1526.9 484.8h8.0v8.0h-8.0zM1543.9 484.8h8.0v8.0h-8.0zM1560.9 484.8h8.0v8.0h-8.0zM1578.0 484.8h8.0v8.0h-8.0zM1595.0 484.8h8.0v8.0h-8.0zM1612.0 484.8h8.0v8.0h-8.0zM1629.1 484.8h8.0v8.0h-8.0zM1646.1 484.8h8.0v8.0h-8.0zM1663.1 484.8h8.0v8.0h-8.0zM1680.1 484.8h8.0v8.0h-8.0zM1697.2 484.8h8.0v8.0h-8.0zM1714.2 484.8h8.0v8.0h-8.0zM1731.2 484.8h8.0v8.0h-8.0zM1748.3 484.8h8.0v8.0h-8.0zM1765.3 484.8h8.0v8.0h-8.0zM1782.3 484.8h8.0v8.0h-8.0zM1799.4 484.8h8.0v8.0h-8.0zM1816.4 484.8h8.0v8.0h-8.0zM1833.4 484.8h8.0v8.0h-8.0zM1850.4 484.8h8.0v8.0h-8.0zM1867.5 484.8h8.0v8.0h-8.0zM1884.5 484.8h8.0v8.0h-8.0zM1901.5 484.8h8.0v8.0h-8.0zM1918.6 484.8h8.0v8.0h-8.0zM1935.6 484.8h8.0v8.0h-8.0zM1952.6 484.8h8.0v8.0h-8.0zM1969.7 484.8h8.0v8.0h-8.0zM1986.7 484.8h8.0v8.0h-8.0zM2003.7 484.8h8.0v8.0h-8.0zM2020.7 484.8h8.0v8.0h-8.0zM2037.8 484.8h8.0v8.0h-8.0zM2054.8 484.8h8.0v8.0h-8.0zM2071.8 484.8h8.0v8.0h-8.0zM2088.9 484.8h8.0v8.0h-8.0zM2105.9 484.8h8.0v8.0h-8.0zM2122.9 484.8h8.0v8.0h-8.0zM2139.9 484.8h8.0v8.0h-8.0zM2157.0 484.8h8.0v8.0h-8.0zM2191.0 484.8h8.0v8.0h-8.0zM2208.1 484.8h8.0v8.0h-8.0zM2225.1 484.8h8.0v8.0h-8.0zM249.6 501.9h8.0v8.0h-8.0zM266.7 501.9h8.0v8.0h-8.0zM283.7 501.9h8.0v8.0h-8.0zM300.7 501.9h8.0v8.0h-8.0zM317.7 501.9h8.0v8.0h-8.0zM334.8 501.9h8.0v8.0h-8.0zM351.8 501.9h8.0v8.0h-8.0zM368.8 501.9h8.0v8.0h-8.0zM385.9 501.9h8.0v8.0h-8.0zM402.9 501.9h8.0v8.0h-8.0zM419.9 501.9h8.0v8.0h-8.0zM436.9 501.9h8.0v8.0h-8.0zM454.0 501.9h8.0v8.0h-8.0zM471.0 501.9h8.0v8.0h-8.0zM488.0 501.9h8.0v8.0h-8.0zM505.1 501.9h8.0v8.0h-8.0zM522.1 501.9h8.0v8.0h-8.0zM539.1 501.9h8.0v8.0h-8.0zM556.2 501.9h8.0v8.0h-8.0zM573.2 501.9h8.0v8.0h-8.0zM590.2 501.9h8.0v8.0h-8.0zM607.3 501.9h8.0v8.0h-8.0zM624.3 501.9h8.0v8.0h-8.0zM641.3 501.9h8.0v8.0h-8.0zM1084.1 501.9h8.0v8.0h-8.0zM1101.1 501.9h8.0v8.0h-8.0zM1118.2 501.9h8.0v8.0h-8.0zM1135.2 501.9h8.0v8.0h-8.0zM1152.2 501.9h8.0v8.0h-8.0zM1169.2 501.9h8.0v8.0h-8.0zM1186.3 501.9h8.0v8.0h-8.0zM1220.3 501.9h8.0v8.0h-8.0zM1237.4 501.9h8.0v8.0h-8.0zM1254.4 501.9h8.0v8.0h-8.0zM1271.4 501.9h8.0v8.0h-8.0zM1288.5 501.9h8.0v8.0h-8.0zM1305.5 501.9h8.0v8.0h-8.0zM1322.5 501.9h8.0v8.0h-8.0zM1339.5 501.9h8.0v8.0h-8.0zM1356.6 501.9h8.0v8.0h-8.0zM1373.6 501.9h8.0v8.0h-8.0zM1390.6 501.9h8.0v8.0h-8.0zM1407.7 501.9h8.0v8.0h-8.0zM1424.7 501.9h8.0v8.0h-8.0zM1441.7 501.9h8.0v8.0h-8.0zM1458.8 501.9h8.0v8.0h-8.0zM1475.8 501.9h8.0v8.0h-8.0zM1492.8 501.9h8.0v8.0h-8.0zM1509.8 501.9h8.0v8.0h-8.0zM1526.9 501.9h8.0v8.0h-8.0zM1543.9 501.9h8.0v8.0h-8.0zM1560.9 501.9h8.0v8.0h-8.0zM1578.0 501.9h8.0v8.0h-8.0zM1595.0 501.9h8.0v8.0h-8.0zM1612.0 501.9h8.0v8.0h-8.0zM1629.1 501.9h8.0v8.0h-8.0zM1646.1 501.9h8.0v8.0h-8.0zM1663.1 501.9h8.0v8.0h-8.0zM1680.1 501.9h8.0v8.0h-8.0zM1697.2 501.9h8.0v8.0h-8.0zM1714.2 501.9h8.0v8.0h-8.0zM1731.2 501.9h8.0v8.0h-8.0zM1748.3 501.9h8.0v8.0h-8.0zM1765.3 501.9h8.0v8.0h-8.0zM1782.3 501.9h8.0v8.0h-8.0zM1799.4 501.9h8.0v8.0h-8.0zM1816.4 501.9h8.0v8.0h-8.0zM1833.4 501.9h8.0v8.0h-8.0zM1850.4 501.9h8.0v8.0h-8.0zM1867.5 501.9h8.0v8.0h-8.0zM1884.5 501.9h8.0v8.0h-8.0zM1901.5 501.9h8.0v8.0h-8.0zM1918.6 501.9h8.0v8.0h-8.0zM1935.6 501.9h8.0v8.0h-8.0zM1952.6 501.9h8.0v8.0h-8.0zM1969.7 501.9h8.0v8.0h-8.0zM1986.7 501.9h8.0v8.0h-8.0zM2003.7 501.9h8.0v8.0h-8.0zM2020.7 501.9h8.0v8.0h-8.0zM2037.8 501.9h8.0v8.0h-8.0zM2054.8 501.9h8.0v8.0h-8.0zM2071.8 501.9h8.0v8.0h-8.0zM2088.9 501.9h8.0v8.0h-8.0zM2105.9 501.9h8.0v8.0h-8.0zM2122.9 501.9h8.0v8.0h-8.0zM2191.0 501.9h8.0v8.0h-8.0zM249.6 518.9h8.0v8.0h-8.0zM266.7 518.9h8.0v8.0h-8.0zM283.7 518.9h8.0v8.0h-8.0zM300.7 518.9h8.0v8.0h-8.0zM317.7 518.9h8.0v8.0h-8.0zM334.8 518.9h8.0v8.0h-8.0zM351.8 518.9h8.0v8.0h-8.0zM368.8 518.9h8.0v8.0h-8.0zM385.9 518.9h8.0v8.0h-8.0zM402.9 518.9h8.0v8.0h-8.0zM419.9 518.9h8.0v8.0h-8.0zM436.9 518.9h8.0v8.0h-8.0zM454.0 518.9h8.0v8.0h-8.0zM471.0 518.9h8.0v8.0h-8.0zM488.0 518.9h8.0v8.0h-8.0zM505.1 518.9h8.0v8.0h-8.0zM522.1 518.9h8.0v8.0h-8.0zM539.1 518.9h8.0v8.0h-8.0zM556.2 518.9h8.0v8.0h-8.0zM573.2 518.9h8.0v8.0h-8.0zM590.2 518.9h8.0v8.0h-8.0zM607.3 518.9h8.0v8.0h-8.0zM1084.1 518.9h8.0v8.0h-8.0zM1101.1 518.9h8.0v8.0h-8.0zM1118.2 518.9h8.0v8.0h-8.0zM1135.2 518.9h8.0v8.0h-8.0zM1152.2 518.9h8.0v8.0h-8.0zM1220.3 518.9h8.0v8.0h-8.0zM1254.4 518.9h8.0v8.0h-8.0zM1271.4 518.9h8.0v8.0h-8.0zM1288.5 518.9h8.0v8.0h-8.0zM1305.5 518.9h8.0v8.0h-8.0zM1322.5 518.9h8.0v8.0h-8.0zM1339.5 518.9h8.0v8.0h-8.0zM1356.6 518.9h8.0v8.0h-8.0zM1373.6 518.9h8.0v8.0h-8.0zM1390.6 518.9h8.0v8.0h-8.0zM1407.7 518.9h8.0v8.0h-8.0zM1424.7 518.9h8.0v8.0h-8.0zM1441.7 518.9h8.0v8.0h-8.0zM1458.8 518.9h8.0v8.0h-8.0zM1475.8 518.9h8.0v8.0h-8.0zM1492.8 518.9h8.0v8.0h-8.0zM1509.8 518.9h8.0v8.0h-8.0zM1526.9 518.9h8.0v8.0h-8.0zM1543.9 518.9h8.0v8.0h-8.0zM1560.9 518.9h8.0v8.0h-8.0zM1578.0 518.9h8.0v8.0h-8.0zM1595.0 518.9h8.0v8.0h-8.0zM1612.0 518.9h8.0v8.0h-8.0zM1629.1 518.9h8.0v8.0h-8.0zM1646.1 518.9h8.0v8.0h-8.0zM1663.1 518.9h8.0v8.0h-8.0zM1680.1 518.9h8.0v8.0h-8.0zM1697.2 518.9h8.0v8.0h-8.0zM1714.2 518.9h8.0v8.0h-8.0zM1731.2 518.9h8.0v8.0h-8.0zM1748.3 518.9h8.0v8.0h-8.0zM1765.3 518.9h8.0v8.0h-8.0zM1782.3 518.9h8.0v8.0h-8.0zM1799.4 518.9h8.0v8.0h-8.0zM1816.4 518.9h8.0v8.0h-8.0zM1833.4 518.9h8.0v8.0h-8.0zM1850.4 518.9h8.0v8.0h-8.0zM1867.5 518.9h8.0v8.0h-8.0zM1884.5 518.9h8.0v8.0h-8.0zM1901.5 518.9h8.0v8.0h-8.0zM1918.6 518.9h8.0v8.0h-8.0zM1935.6 518.9h8.0v8.0h-8.0zM1952.6 518.9h8.0v8.0h-8.0zM1969.7 518.9h8.0v8.0h-8.0zM1986.7 518.9h8.0v8.0h-8.0zM2003.7 518.9h8.0v8.0h-8.0zM2020.7 518.9h8.0v8.0h-8.0zM2037.8 518.9h8.0v8.0h-8.0zM2054.8 518.9h8.0v8.0h-8.0zM2071.8 518.9h8.0v8.0h-8.0zM2088.9 518.9h8.0v8.0h-8.0zM2105.9 518.9h8.0v8.0h-8.0zM2157.0 518.9h8.0v8.0h-8.0zM2174.0 518.9h8.0v8.0h-8.0zM2191.0 518.9h8.0v8.0h-8.0zM249.6 535.9h8.0v8.0h-8.0zM266.7 535.9h8.0v8.0h-8.0zM283.7 535.9h8.0v8.0h-8.0zM300.7 535.9h8.0v8.0h-8.0zM317.7 535.9h8.0v8.0h-8.0zM334.8 535.9h8.0v8.0h-8.0zM351.8 535.9h8.0v8.0h-8.0zM368.8 535.9h8.0v8.0h-8.0zM385.9 535.9h8.0v8.0h-8.0zM402.9 535.9h8.0v8.0h-8.0zM419.9 535.9h8.0v8.0h-8.0zM436.9 535.9h8.0v8.0h-8.0zM454.0 535.9h8.0v8.0h-8.0zM471.0 535.9h8.0v8.0h-8.0zM488.0 535.9h8.0v8.0h-8.0zM505.1 535.9h8.0v8.0h-8.0zM522.1 535.9h8.0v8.0h-8.0zM539.1 535.9h8.0v8.0h-8.0zM556.2 535.9h8.0v8.0h-8.0zM573.2 535.9h8.0v8.0h-8.0zM590.2 535.9h8.0v8.0h-8.0zM607.3 535.9h8.0v8.0h-8.0zM1101.1 535.9h8.0v8.0h-8.0zM1118.2 535.9h8.0v8.0h-8.0zM1135.2 535.9h8.0v8.0h-8.0zM1152.2 535.9h8.0v8.0h-8.0zM1169.2 535.9h8.0v8.0h-8.0zM1186.3 535.9h8.0v8.0h-8.0zM1203.3 535.9h8.0v8.0h-8.0zM1220.3 535.9h8.0v8.0h-8.0zM1237.4 535.9h8.0v8.0h-8.0zM1254.4 535.9h8.0v8.0h-8.0zM1271.4 535.9h8.0v8.0h-8.0zM1322.5 535.9h8.0v8.0h-8.0zM1339.5 535.9h8.0v8.0h-8.0zM1356.6 535.9h8.0v8.0h-8.0zM1373.6 535.9h8.0v8.0h-8.0zM1390.6 535.9h8.0v8.0h-8.0zM1407.7 535.9h8.0v8.0h-8.0zM1424.7 535.9h8.0v8.0h-8.0zM1441.7 535.9h8.0v8.0h-8.0zM1458.8 535.9h8.0v8.0h-8.0zM1475.8 535.9h8.0v8.0h-8.0zM1492.8 535.9h8.0v8.0h-8.0zM1509.8 535.9h8.0v8.0h-8.0zM1526.9 535.9h8.0v8.0h-8.0zM1543.9 535.9h8.0v8.0h-8.0zM1560.9 535.9h8.0v8.0h-8.0zM1578.0 535.9h8.0v8.0h-8.0zM1595.0 535.9h8.0v8.0h-8.0zM1612.0 535.9h8.0v8.0h-8.0zM1629.1 535.9h8.0v8.0h-8.0zM1646.1 535.9h8.0v8.0h-8.0zM1663.1 535.9h8.0v8.0h-8.0zM1680.1 535.9h8.0v8.0h-8.0zM1697.2 535.9h8.0v8.0h-8.0zM1714.2 535.9h8.0v8.0h-8.0zM1731.2 535.9h8.0v8.0h-8.0zM1748.3 535.9h8.0v8.0h-8.0zM1765.3 535.9h8.0v8.0h-8.0zM1782.3 535.9h8.0v8.0h-8.0zM1799.4 535.9h8.0v8.0h-8.0zM1816.4 535.9h8.0v8.0h-8.0zM1833.4 535.9h8.0v8.0h-8.0zM1850.4 535.9h8.0v8.0h-8.0zM1867.5 535.9h8.0v8.0h-8.0zM1884.5 535.9h8.0v8.0h-8.0zM1901.5 535.9h8.0v8.0h-8.0zM1918.6 535.9h8.0v8.0h-8.0zM1935.6 535.9h8.0v8.0h-8.0zM1952.6 535.9h8.0v8.0h-8.0zM1969.7 535.9h8.0v8.0h-8.0zM1986.7 535.9h8.0v8.0h-8.0zM2003.7 535.9h8.0v8.0h-8.0zM2020.7 535.9h8.0v8.0h-8.0zM2037.8 535.9h8.0v8.0h-8.0zM2054.8 535.9h8.0v8.0h-8.0zM2088.9 535.9h8.0v8.0h-8.0zM2105.9 535.9h8.0v8.0h-8.0zM2122.9 535.9h8.0v8.0h-8.0zM2139.9 535.9h8.0v8.0h-8.0zM2157.0 535.9h8.0v8.0h-8.0zM2174.0 535.9h8.0v8.0h-8.0zM2191.0 535.9h8.0v8.0h-8.0zM300.7 553.0h8.0v8.0h-8.0zM317.7 553.0h8.0v8.0h-8.0zM334.8 553.0h8.0v8.0h-8.0zM351.8 553.0h8.0v8.0h-8.0zM368.8 553.0h8.0v8.0h-8.0zM385.9 553.0h8.0v8.0h-8.0zM402.9 553.0h8.0v8.0h-8.0zM419.9 553.0h8.0v8.0h-8.0zM436.9 553.0h8.0v8.0h-8.0zM454.0 553.0h8.0v8.0h-8.0zM471.0 553.0h8.0v8.0h-8.0zM488.0 553.0h8.0v8.0h-8.0zM505.1 553.0h8.0v8.0h-8.0zM522.1 553.0h8.0v8.0h-8.0zM539.1 553.0h8.0v8.0h-8.0zM556.2 553.0h8.0v8.0h-8.0zM573.2 553.0h8.0v8.0h-8.0zM590.2 553.0h8.0v8.0h-8.0zM1084.1 553.0h8.0v8.0h-8.0zM1101.1 553.0h8.0v8.0h-8.0zM1118.2 553.0h8.0v8.0h-8.0zM1135.2 553.0h8.0v8.0h-8.0zM1152.2 553.0h8.0v8.0h-8.0zM1169.2 553.0h8.0v8.0h-8.0zM1186.3 553.0h8.0v8.0h-8.0zM1203.3 553.0h8.0v8.0h-8.0zM1220.3 553.0h8.0v8.0h-8.0zM1237.4 553.0h8.0v8.0h-8.0zM1254.4 553.0h8.0v8.0h-8.0zM1390.6 553.0h8.0v8.0h-8.0zM1407.7 553.0h8.0v8.0h-8.0zM1424.7 553.0h8.0v8.0h-8.0zM1441.7 553.0h8.0v8.0h-8.0zM1458.8 553.0h8.0v8.0h-8.0zM1475.8 553.0h8.0v8.0h-8.0zM1492.8 553.0h8.0v8.0h-8.0zM1509.8 553.0h8.0v8.0h-8.0zM1526.9 553.0h8.0v8.0h-8.0zM1543.9 553.0h8.0v8.0h-8.0zM1560.9 553.0h8.0v8.0h-8.0zM1578.0 553.0h8.0v8.0h-8.0zM1595.0 553.0h8.0v8.0h-8.0zM1612.0 553.0h8.0v8.0h-8.0zM1629.1 553.0h8.0v8.0h-8.0zM1646.1 553.0h8.0v8.0h-8.0zM1663.1 553.0h8.0v8.0h-8.0zM1680.1 553.0h8.0v8.0h-8.0zM1697.2 553.0h8.0v8.0h-8.0zM1714.2 553.0h8.0v8.0h-8.0zM1731.2 553.0h8.0v8.0h-8.0zM1748.3 553.0h8.0v8.0h-8.0zM1765.3 553.0h8.0v8.0h-8.0zM1782.3 553.0h8.0v8.0h-8.0zM1799.4 553.0h8.0v8.0h-8.0zM1816.4 553.0h8.0v8.0h-8.0zM1833.4 553.0h8.0v8.0h-8.0zM1850.4 553.0h8.0v8.0h-8.0zM1867.5 553.0h8.0v8.0h-8.0zM1884.5 553.0h8.0v8.0h-8.0zM1901.5 553.0h8.0v8.0h-8.0zM1918.6 553.0h8.0v8.0h-8.0zM1935.6 553.0h8.0v8.0h-8.0zM1952.6 553.0h8.0v8.0h-8.0zM1969.7 553.0h8.0v8.0h-8.0zM1986.7 553.0h8.0v8.0h-8.0zM2003.7 553.0h8.0v8.0h-8.0zM2020.7 553.0h8.0v8.0h-8.0zM2037.8 553.0h8.0v8.0h-8.0zM2054.8 553.0h8.0v8.0h-8.0zM2088.9 553.0h8.0v8.0h-8.0zM2105.9 553.0h8.0v8.0h-8.0zM2122.9 553.0h8.0v8.0h-8.0zM2139.9 553.0h8.0v8.0h-8.0zM2157.0 553.0h8.0v8.0h-8.0zM2174.0 553.0h8.0v8.0h-8.0zM2191.0 553.0h8.0v8.0h-8.0zM300.7 570.0h8.0v8.0h-8.0zM317.7 570.0h8.0v8.0h-8.0zM334.8 570.0h8.0v8.0h-8.0zM351.8 570.0h8.0v8.0h-8.0zM368.8 570.0h8.0v8.0h-8.0zM385.9 570.0h8.0v8.0h-8.0zM402.9 570.0h8.0v8.0h-8.0zM419.9 570.0h8.0v8.0h-8.0zM436.9 570.0h8.0v8.0h-8.0zM454.0 570.0h8.0v8.0h-8.0zM471.0 570.0h8.0v8.0h-8.0zM488.0 570.0h8.0v8.0h-8.0zM505.1 570.0h8.0v8.0h-8.0zM522.1 570.0h8.0v8.0h-8.0zM539.1 570.0h8.0v8.0h-8.0zM556.2 570.0h8.0v8.0h-8.0zM573.2 570.0h8.0v8.0h-8.0zM1084.1 570.0h8.0v8.0h-8.0zM1101.1 570.0h8.0v8.0h-8.0zM1118.2 570.0h8.0v8.0h-8.0zM1135.2 570.0h8.0v8.0h-8.0zM1152.2 570.0h8.0v8.0h-8.0zM1169.2 570.0h8.0v8.0h-8.0zM1186.3 570.0h8.0v8.0h-8.0zM1203.3 570.0h8.0v8.0h-8.0zM1220.3 570.0h8.0v8.0h-8.0zM1237.4 570.0h8.0v8.0h-8.0zM1254.4 570.0h8.0v8.0h-8.0zM1271.4 570.0h8.0v8.0h-8.0zM1288.5 570.0h8.0v8.0h-8.0zM1305.5 570.0h8.0v8.0h-8.0zM1322.5 570.0h8.0v8.0h-8.0zM1339.5 570.0h8.0v8.0h-8.0zM1356.6 570.0h8.0v8.0h-8.0zM1373.6 570.0h8.0v8.0h-8.0zM1390.6 570.0h8.0v8.0h-8.0zM1407.7 570.0h8.0v8.0h-8.0zM1424.7 570.0h8.0v8.0h-8.0zM1441.7 570.0h8.0v8.0h-8.0zM1458.8 570.0h8.0v8.0h-8.0zM1475.8 570.0h8.0v8.0h-8.0zM1492.8 570.0h8.0v8.0h-8.0zM1509.8 570.0h8.0v8.0h-8.0zM1526.9 570.0h8.0v8.0h-8.0zM1543.9 570.0h8.0v8.0h-8.0zM1560.9 570.0h8.0v8.0h-8.0zM1578.0 570.0h8.0v8.0h-8.0zM1595.0 570.0h8.0v8.0h-8.0zM1612.0 570.0h8.0v8.0h-8.0zM1629.1 570.0h8.0v8.0h-8.0zM1646.1 570.0h8.0v8.0h-8.0zM1663.1 570.0h8.0v8.0h-8.0zM1680.1 570.0h8.0v8.0h-8.0zM1697.2 570.0h8.0v8.0h-8.0zM1714.2 570.0h8.0v8.0h-8.0zM1731.2 570.0h8.0v8.0h-8.0zM1748.3 570.0h8.0v8.0h-8.0zM1765.3 570.0h8.0v8.0h-8.0zM1782.3 570.0h8.0v8.0h-8.0zM1799.4 570.0h8.0v8.0h-8.0zM1816.4 570.0h8.0v8.0h-8.0zM1833.4 570.0h8.0v8.0h-8.0zM1850.4 570.0h8.0v8.0h-8.0zM1867.5 570.0h8.0v8.0h-8.0zM1884.5 570.0h8.0v8.0h-8.0zM1901.5 570.0h8.0v8.0h-8.0zM1918.6 570.0h8.0v8.0h-8.0zM1935.6 570.0h8.0v8.0h-8.0zM1952.6 570.0h8.0v8.0h-8.0zM1969.7 570.0h8.0v8.0h-8.0zM1986.7 570.0h8.0v8.0h-8.0zM2003.7 570.0h8.0v8.0h-8.0zM2020.7 570.0h8.0v8.0h-8.0zM2037.8 570.0h8.0v8.0h-8.0zM2054.8 570.0h8.0v8.0h-8.0zM2105.9 570.0h8.0v8.0h-8.0zM2122.9 570.0h8.0v8.0h-8.0zM300.7 587.0h8.0v8.0h-8.0zM317.7 587.0h8.0v8.0h-8.0zM334.8 587.0h8.0v8.0h-8.0zM351.8 587.0h8.0v8.0h-8.0zM368.8 587.0h8.0v8.0h-8.0zM385.9 587.0h8.0v8.0h-8.0zM402.9 587.0h8.0v8.0h-8.0zM419.9 587.0h8.0v8.0h-8.0zM436.9 587.0h8.0v8.0h-8.0zM454.0 587.0h8.0v8.0h-8.0zM471.0 587.0h8.0v8.0h-8.0zM488.0 587.0h8.0v8.0h-8.0zM505.1 587.0h8.0v8.0h-8.0zM522.1 587.0h8.0v8.0h-8.0zM539.1 587.0h8.0v8.0h-8.0zM556.2 587.0h8.0v8.0h-8.0zM573.2 587.0h8.0v8.0h-8.0zM1050.0 587.0h8.0v8.0h-8.0zM1067.1 587.0h8.0v8.0h-8.0zM1084.1 587.0h8.0v8.0h-8.0zM1101.1 587.0h8.0v8.0h-8.0zM1118.2 587.0h8.0v8.0h-8.0zM1135.2 587.0h8.0v8.0h-8.0zM1152.2 587.0h8.0v8.0h-8.0zM1169.2 587.0h8.0v8.0h-8.0zM1186.3 587.0h8.0v8.0h-8.0zM1203.3 587.0h8.0v8.0h-8.0zM1220.3 587.0h8.0v8.0h-8.0zM1237.4 587.0h8.0v8.0h-8.0zM1254.4 587.0h8.0v8.0h-8.0zM1271.4 587.0h8.0v8.0h-8.0zM1288.5 587.0h8.0v8.0h-8.0zM1305.5 587.0h8.0v8.0h-8.0zM1322.5 587.0h8.0v8.0h-8.0zM1339.5 587.0h8.0v8.0h-8.0zM1356.6 587.0h8.0v8.0h-8.0zM1373.6 587.0h8.0v8.0h-8.0zM1390.6 587.0h8.0v8.0h-8.0zM1407.7 587.0h8.0v8.0h-8.0zM1424.7 587.0h8.0v8.0h-8.0zM1441.7 587.0h8.0v8.0h-8.0zM1458.8 587.0h8.0v8.0h-8.0zM1475.8 587.0h8.0v8.0h-8.0zM1492.8 587.0h8.0v8.0h-8.0zM1509.8 587.0h8.0v8.0h-8.0zM1526.9 587.0h8.0v8.0h-8.0zM1543.9 587.0h8.0v8.0h-8.0zM1560.9 587.0h8.0v8.0h-8.0zM1578.0 587.0h8.0v8.0h-8.0zM1595.0 587.0h8.0v8.0h-8.0zM1612.0 587.0h8.0v8.0h-8.0zM1629.1 587.0h8.0v8.0h-8.0zM1646.1 587.0h8.0v8.0h-8.0zM1663.1 587.0h8.0v8.0h-8.0zM1680.1 587.0h8.0v8.0h-8.0zM1697.2 587.0h8.0v8.0h-8.0zM1714.2 587.0h8.0v8.0h-8.0zM1731.2 587.0h8.0v8.0h-8.0zM1748.3 587.0h8.0v8.0h-8.0zM1765.3 587.0h8.0v8.0h-8.0zM1782.3 587.0h8.0v8.0h-8.0zM1799.4 587.0h8.0v8.0h-8.0zM1816.4 587.0h8.0v8.0h-8.0zM1833.4 587.0h8.0v8.0h-8.0zM1850.4 587.0h8.0v8.0h-8.0zM1867.5 587.0h8.0v8.0h-8.0zM1884.5 587.0h8.0v8.0h-8.0zM1901.5 587.0h8.0v8.0h-8.0zM1918.6 587.0h8.0v8.0h-8.0zM1935.6 587.0h8.0v8.0h-8.0zM1952.6 587.0h8.0v8.0h-8.0zM1969.7 587.0h8.0v8.0h-8.0zM1986.7 587.0h8.0v8.0h-8.0zM2003.7 587.0h8.0v8.0h-8.0zM2020.7 587.0h8.0v8.0h-8.0zM2037.8 587.0h8.0v8.0h-8.0zM2054.8 587.0h8.0v8.0h-8.0zM317.7 604.1h8.0v8.0h-8.0zM334.8 604.1h8.0v8.0h-8.0zM351.8 604.1h8.0v8.0h-8.0zM368.8 604.1h8.0v8.0h-8.0zM385.9 604.1h8.0v8.0h-8.0zM402.9 604.1h8.0v8.0h-8.0zM419.9 604.1h8.0v8.0h-8.0zM436.9 604.1h8.0v8.0h-8.0zM454.0 604.1h8.0v8.0h-8.0zM556.2 604.1h8.0v8.0h-8.0zM573.2 604.1h8.0v8.0h-8.0zM590.2 604.1h8.0v8.0h-8.0zM1050.0 604.1h8.0v8.0h-8.0zM1067.1 604.1h8.0v8.0h-8.0zM1084.1 604.1h8.0v8.0h-8.0zM1101.1 604.1h8.0v8.0h-8.0zM1118.2 604.1h8.0v8.0h-8.0zM1135.2 604.1h8.0v8.0h-8.0zM1152.2 604.1h8.0v8.0h-8.0zM1169.2 604.1h8.0v8.0h-8.0zM1186.3 604.1h8.0v8.0h-8.0zM1203.3 604.1h8.0v8.0h-8.0zM1220.3 604.1h8.0v8.0h-8.0zM1237.4 604.1h8.0v8.0h-8.0zM1254.4 604.1h8.0v8.0h-8.0zM1271.4 604.1h8.0v8.0h-8.0zM1288.5 604.1h8.0v8.0h-8.0zM1305.5 604.1h8.0v8.0h-8.0zM1322.5 604.1h8.0v8.0h-8.0zM1339.5 604.1h8.0v8.0h-8.0zM1356.6 604.1h8.0v8.0h-8.0zM1373.6 604.1h8.0v8.0h-8.0zM1390.6 604.1h8.0v8.0h-8.0zM1407.7 604.1h8.0v8.0h-8.0zM1424.7 604.1h8.0v8.0h-8.0zM1441.7 604.1h8.0v8.0h-8.0zM1458.8 604.1h8.0v8.0h-8.0zM1475.8 604.1h8.0v8.0h-8.0zM1492.8 604.1h8.0v8.0h-8.0zM1509.8 604.1h8.0v8.0h-8.0zM1526.9 604.1h8.0v8.0h-8.0zM1543.9 604.1h8.0v8.0h-8.0zM1560.9 604.1h8.0v8.0h-8.0zM1578.0 604.1h8.0v8.0h-8.0zM1595.0 604.1h8.0v8.0h-8.0zM1612.0 604.1h8.0v8.0h-8.0zM1629.1 604.1h8.0v8.0h-8.0zM1646.1 604.1h8.0v8.0h-8.0zM1663.1 604.1h8.0v8.0h-8.0zM1680.1 604.1h8.0v8.0h-8.0zM1697.2 604.1h8.0v8.0h-8.0zM1714.2 604.1h8.0v8.0h-8.0zM1731.2 604.1h8.0v8.0h-8.0zM1748.3 604.1h8.0v8.0h-8.0zM1765.3 604.1h8.0v8.0h-8.0zM1782.3 604.1h8.0v8.0h-8.0zM1799.4 604.1h8.0v8.0h-8.0zM1816.4 604.1h8.0v8.0h-8.0zM1833.4 604.1h8.0v8.0h-8.0zM1850.4 604.1h8.0v8.0h-8.0zM1867.5 604.1h8.0v8.0h-8.0zM1884.5 604.1h8.0v8.0h-8.0zM1901.5 604.1h8.0v8.0h-8.0zM1918.6 604.1h8.0v8.0h-8.0zM1935.6 604.1h8.0v8.0h-8.0zM1952.6 604.1h8.0v8.0h-8.0zM1969.7 604.1h8.0v8.0h-8.0zM1986.7 604.1h8.0v8.0h-8.0zM2003.7 604.1h8.0v8.0h-8.0zM2020.7 604.1h8.0v8.0h-8.0zM2037.8 604.1h8.0v8.0h-8.0zM2054.8 604.1h8.0v8.0h-8.0zM334.8 621.1h8.0v8.0h-8.0zM351.8 621.1h8.0v8.0h-8.0zM368.8 621.1h8.0v8.0h-8.0zM385.9 621.1h8.0v8.0h-8.0zM402.9 621.1h8.0v8.0h-8.0zM419.9 621.1h8.0v8.0h-8.0zM436.9 621.1h8.0v8.0h-8.0zM556.2 621.1h8.0v8.0h-8.0zM573.2 621.1h8.0v8.0h-8.0zM590.2 621.1h8.0v8.0h-8.0zM607.3 621.1h8.0v8.0h-8.0zM1033.0 621.1h8.0v8.0h-8.0zM1050.0 621.1h8.0v8.0h-8.0zM1067.1 621.1h8.0v8.0h-8.0zM1084.1 621.1h8.0v8.0h-8.0zM1101.1 621.1h8.0v8.0h-8.0zM1118.2 621.1h8.0v8.0h-8.0zM1135.2 621.1h8.0v8.0h-8.0zM1152.2 621.1h8.0v8.0h-8.0zM1169.2 621.1h8.0v8.0h-8.0zM1186.3 621.1h8.0v8.0h-8.0zM1203.3 621.1h8.0v8.0h-8.0zM1220.3 621.1h8.0v8.0h-8.0zM1237.4 621.1h8.0v8.0h-8.0zM1254.4 621.1h8.0v8.0h-8.0zM1271.4 621.1h8.0v8.0h-8.0zM1288.5 621.1h8.0v8.0h-8.0zM1305.5 621.1h8.0v8.0h-8.0zM1322.5 621.1h8.0v8.0h-8.0zM1339.5 621.1h8.0v8.0h-8.0zM1356.6 621.1h8.0v8.0h-8.0zM1373.6 621.1h8.0v8.0h-8.0zM1390.6 621.1h8.0v8.0h-8.0zM1407.7 621.1h8.0v8.0h-8.0zM1424.7 621.1h8.0v8.0h-8.0zM1441.7 621.1h8.0v8.0h-8.0zM1458.8 621.1h8.0v8.0h-8.0zM1475.8 621.1h8.0v8.0h-8.0zM1492.8 621.1h8.0v8.0h-8.0zM1509.8 621.1h8.0v8.0h-8.0zM1526.9 621.1h8.0v8.0h-8.0zM1543.9 621.1h8.0v8.0h-8.0zM1560.9 621.1h8.0v8.0h-8.0zM1578.0 621.1h8.0v8.0h-8.0zM1595.0 621.1h8.0v8.0h-8.0zM1612.0 621.1h8.0v8.0h-8.0zM1629.1 621.1h8.0v8.0h-8.0zM1646.1 621.1h8.0v8.0h-8.0zM1663.1 621.1h8.0v8.0h-8.0zM1680.1 621.1h8.0v8.0h-8.0zM1697.2 621.1h8.0v8.0h-8.0zM1714.2 621.1h8.0v8.0h-8.0zM1731.2 621.1h8.0v8.0h-8.0zM1748.3 621.1h8.0v8.0h-8.0zM1765.3 621.1h8.0v8.0h-8.0zM1782.3 621.1h8.0v8.0h-8.0zM1799.4 621.1h8.0v8.0h-8.0zM1816.4 621.1h8.0v8.0h-8.0zM1833.4 621.1h8.0v8.0h-8.0zM1850.4 621.1h8.0v8.0h-8.0zM1867.5 621.1h8.0v8.0h-8.0zM1884.5 621.1h8.0v8.0h-8.0zM1901.5 621.1h8.0v8.0h-8.0zM1918.6 621.1h8.0v8.0h-8.0zM1935.6 621.1h8.0v8.0h-8.0zM1952.6 621.1h8.0v8.0h-8.0zM1969.7 621.1h8.0v8.0h-8.0zM1986.7 621.1h8.0v8.0h-8.0zM2003.7 621.1h8.0v8.0h-8.0zM2020.7 621.1h8.0v8.0h-8.0zM2037.8 621.1h8.0v8.0h-8.0zM2054.8 621.1h8.0v8.0h-8.0zM351.8 638.1h8.0v8.0h-8.0zM368.8 638.1h8.0v8.0h-8.0zM385.9 638.1h8.0v8.0h-8.0zM402.9 638.1h8.0v8.0h-8.0zM419.9 638.1h8.0v8.0h-8.0zM436.9 638.1h8.0v8.0h-8.0zM488.0 638.1h8.0v8.0h-8.0zM505.1 638.1h8.0v8.0h-8.0zM522.1 638.1h8.0v8.0h-8.0zM539.1 638.1h8.0v8.0h-8.0zM556.2 638.1h8.0v8.0h-8.0zM573.2 638.1h8.0v8.0h-8.0zM590.2 638.1h8.0v8.0h-8.0zM607.3 638.1h8.0v8.0h-8.0zM624.3 638.1h8.0v8.0h-8.0zM1033.0 638.1h8.0v8.0h-8.0zM1050.0 638.1h8.0v8.0h-8.0zM1067.1 638.1h8.0v8.0h-8.0zM1084.1 638.1h8.0v8.0h-8.0zM1101.1 638.1h8.0v8.0h-8.0zM1118.2 638.1h8.0v8.0h-8.0zM1135.2 638.1h8.0v8.0h-8.0zM1152.2 638.1h8.0v8.0h-8.0zM1169.2 638.1h8.0v8.0h-8.0zM1186.3 638.1h8.0v8.0h-8.0zM1203.3 638.1h8.0v8.0h-8.0zM1220.3 638.1h8.0v8.0h-8.0zM1237.4 638.1h8.0v8.0h-8.0zM1254.4 638.1h8.0v8.0h-8.0zM1271.4 638.1h8.0v8.0h-8.0zM1288.5 638.1h8.0v8.0h-8.0zM1305.5 638.1h8.0v8.0h-8.0zM1322.5 638.1h8.0v8.0h-8.0zM1339.5 638.1h8.0v8.0h-8.0zM1356.6 638.1h8.0v8.0h-8.0zM1373.6 638.1h8.0v8.0h-8.0zM1390.6 638.1h8.0v8.0h-8.0zM1407.7 638.1h8.0v8.0h-8.0zM1424.7 638.1h8.0v8.0h-8.0zM1441.7 638.1h8.0v8.0h-8.0zM1458.8 638.1h8.0v8.0h-8.0zM1475.8 638.1h8.0v8.0h-8.0zM1492.8 638.1h8.0v8.0h-8.0zM1509.8 638.1h8.0v8.0h-8.0zM1526.9 638.1h8.0v8.0h-8.0zM1543.9 638.1h8.0v8.0h-8.0zM1560.9 638.1h8.0v8.0h-8.0zM1578.0 638.1h8.0v8.0h-8.0zM1595.0 638.1h8.0v8.0h-8.0zM1663.1 638.1h8.0v8.0h-8.0zM1680.1 638.1h8.0v8.0h-8.0zM1697.2 638.1h8.0v8.0h-8.0zM1714.2 638.1h8.0v8.0h-8.0zM1731.2 638.1h8.0v8.0h-8.0zM1748.3 638.1h8.0v8.0h-8.0zM1765.3 638.1h8.0v8.0h-8.0zM1782.3 638.1h8.0v8.0h-8.0zM1799.4 638.1h8.0v8.0h-8.0zM1816.4 638.1h8.0v8.0h-8.0zM1833.4 638.1h8.0v8.0h-8.0zM1850.4 638.1h8.0v8.0h-8.0zM1867.5 638.1h8.0v8.0h-8.0zM1884.5 638.1h8.0v8.0h-8.0zM1901.5 638.1h8.0v8.0h-8.0zM1918.6 638.1h8.0v8.0h-8.0zM1935.6 638.1h8.0v8.0h-8.0zM1952.6 638.1h8.0v8.0h-8.0zM1969.7 638.1h8.0v8.0h-8.0zM1986.7 638.1h8.0v8.0h-8.0zM2003.7 638.1h8.0v8.0h-8.0zM2020.7 638.1h8.0v8.0h-8.0zM2037.8 638.1h8.0v8.0h-8.0zM2054.8 638.1h8.0v8.0h-8.0zM11.2 655.1h8.0v8.0h-8.0zM385.9 655.1h8.0v8.0h-8.0zM402.9 655.1h8.0v8.0h-8.0zM419.9 655.1h8.0v8.0h-8.0zM436.9 655.1h8.0v8.0h-8.0zM454.0 655.1h8.0v8.0h-8.0zM471.0 655.1h8.0v8.0h-8.0zM505.1 655.1h8.0v8.0h-8.0zM522.1 655.1h8.0v8.0h-8.0zM573.2 655.1h8.0v8.0h-8.0zM590.2 655.1h8.0v8.0h-8.0zM607.3 655.1h8.0v8.0h-8.0zM1033.0 655.1h8.0v8.0h-8.0zM1050.0 655.1h8.0v8.0h-8.0zM1067.1 655.1h8.0v8.0h-8.0zM1084.1 655.1h8.0v8.0h-8.0zM1101.1 655.1h8.0v8.0h-8.0zM1118.2 655.1h8.0v8.0h-8.0zM1135.2 655.1h8.0v8.0h-8.0zM1152.2 655.1h8.0v8.0h-8.0zM1169.2 655.1h8.0v8.0h-8.0zM1186.3 655.1h8.0v8.0h-8.0zM1203.3 655.1h8.0v8.0h-8.0zM1220.3 655.1h8.0v8.0h-8.0zM1237.4 655.1h8.0v8.0h-8.0zM1254.4 655.1h8.0v8.0h-8.0zM1271.4 655.1h8.0v8.0h-8.0zM1288.5 655.1h8.0v8.0h-8.0zM1305.5 655.1h8.0v8.0h-8.0zM1322.5 655.1h8.0v8.0h-8.0zM1339.5 655.1h8.0v8.0h-8.0zM1356.6 655.1h8.0v8.0h-8.0zM1373.6 655.1h8.0v8.0h-8.0zM1390.6 655.1h8.0v8.0h-8.0zM1407.7 655.1h8.0v8.0h-8.0zM1424.7 655.1h8.0v8.0h-8.0zM1441.7 655.1h8.0v8.0h-8.0zM1458.8 655.1h8.0v8.0h-8.0zM1475.8 655.1h8.0v8.0h-8.0zM1492.8 655.1h8.0v8.0h-8.0zM1509.8 655.1h8.0v8.0h-8.0zM1526.9 655.1h8.0v8.0h-8.0zM1680.1 655.1h8.0v8.0h-8.0zM1697.2 655.1h8.0v8.0h-8.0zM1714.2 655.1h8.0v8.0h-8.0zM1731.2 655.1h8.0v8.0h-8.0zM1748.3 655.1h8.0v8.0h-8.0zM1765.3 655.1h8.0v8.0h-8.0zM1782.3 655.1h8.0v8.0h-8.0zM1799.4 655.1h8.0v8.0h-8.0zM1816.4 655.1h8.0v8.0h-8.0zM1833.4 655.1h8.0v8.0h-8.0zM1850.4 655.1h8.0v8.0h-8.0zM1867.5 655.1h8.0v8.0h-8.0zM1884.5 655.1h8.0v8.0h-8.0zM1901.5 655.1h8.0v8.0h-8.0zM1918.6 655.1h8.0v8.0h-8.0zM1935.6 655.1h8.0v8.0h-8.0zM1952.6 655.1h8.0v8.0h-8.0zM1969.7 655.1h8.0v8.0h-8.0zM1986.7 655.1h8.0v8.0h-8.0zM2003.7 655.1h8.0v8.0h-8.0zM2020.7 655.1h8.0v8.0h-8.0zM2037.8 655.1h8.0v8.0h-8.0zM2054.8 655.1h8.0v8.0h-8.0zM522.1 672.2h8.0v8.0h-8.0zM607.3 672.2h8.0v8.0h-8.0zM1033.0 672.2h8.0v8.0h-8.0zM1050.0 672.2h8.0v8.0h-8.0zM1067.1 672.2h8.0v8.0h-8.0zM1084.1 672.2h8.0v8.0h-8.0zM1101.1 672.2h8.0v8.0h-8.0zM1118.2 672.2h8.0v8.0h-8.0zM1135.2 672.2h8.0v8.0h-8.0zM1152.2 672.2h8.0v8.0h-8.0zM1169.2 672.2h8.0v8.0h-8.0zM1186.3 672.2h8.0v8.0h-8.0zM1203.3 672.2h8.0v8.0h-8.0zM1220.3 672.2h8.0v8.0h-8.0zM1237.4 672.2h8.0v8.0h-8.0zM1254.4 672.2h8.0v8.0h-8.0zM1271.4 672.2h8.0v8.0h-8.0zM1288.5 672.2h8.0v8.0h-8.0zM1305.5 672.2h8.0v8.0h-8.0zM1322.5 672.2h8.0v8.0h-8.0zM1339.5 672.2h8.0v8.0h-8.0zM1356.6 672.2h8.0v8.0h-8.0zM1373.6 672.2h8.0v8.0h-8.0zM1390.6 672.2h8.0v8.0h-8.0zM1407.7 672.2h8.0v8.0h-8.0zM1424.7 672.2h8.0v8.0h-8.0zM1441.7 672.2h8.0v8.0h-8.0zM1458.8 672.2h8.0v8.0h-8.0zM1475.8 672.2h8.0v8.0h-8.0zM1492.8 672.2h8.0v8.0h-8.0zM1509.8 672.2h8.0v8.0h-8.0zM1526.9 672.2h8.0v8.0h-8.0zM1714.2 672.2h8.0v8.0h-8.0zM1731.2 672.2h8.0v8.0h-8.0zM1748.3 672.2h8.0v8.0h-8.0zM1765.3 672.2h8.0v8.0h-8.0zM1884.5 672.2h8.0v8.0h-8.0zM1901.5 672.2h8.0v8.0h-8.0zM1918.6 672.2h8.0v8.0h-8.0zM1935.6 672.2h8.0v8.0h-8.0zM1952.6 672.2h8.0v8.0h-8.0zM1969.7 672.2h8.0v8.0h-8.0zM1986.7 672.2h8.0v8.0h-8.0zM2003.7 672.2h8.0v8.0h-8.0zM2020.7 672.2h8.0v8.0h-8.0zM2037.8 672.2h8.0v8.0h-8.0zM2054.8 672.2h8.0v8.0h-8.0zM522.1 689.2h8.0v8.0h-8.0zM607.3 689.2h8.0v8.0h-8.0zM1033.0 689.2h8.0v8.0h-8.0zM1050.0 689.2h8.0v8.0h-8.0zM1067.1 689.2h8.0v8.0h-8.0zM1084.1 689.2h8.0v8.0h-8.0zM1101.1 689.2h8.0v8.0h-8.0zM1118.2 689.2h8.0v8.0h-8.0zM1135.2 689.2h8.0v8.0h-8.0zM1152.2 689.2h8.0v8.0h-8.0zM1169.2 689.2h8.0v8.0h-8.0zM1186.3 689.2h8.0v8.0h-8.0zM1203.3 689.2h8.0v8.0h-8.0zM1220.3 689.2h8.0v8.0h-8.0zM1237.4 689.2h8.0v8.0h-8.0zM1254.4 689.2h8.0v8.0h-8.0zM1271.4 689.2h8.0v8.0h-8.0zM1288.5 689.2h8.0v8.0h-8.0zM1305.5 689.2h8.0v8.0h-8.0zM1322.5 689.2h8.0v8.0h-8.0zM1339.5 689.2h8.0v8.0h-8.0zM1356.6 689.2h8.0v8.0h-8.0zM1373.6 689.2h8.0v8.0h-8.0zM1390.6 689.2h8.0v8.0h-8.0zM1407.7 689.2h8.0v8.0h-8.0zM1424.7 689.2h8.0v8.0h-8.0zM1441.7 689.2h8.0v8.0h-8.0zM1458.8 689.2h8.0v8.0h-8.0zM1475.8 689.2h8.0v8.0h-8.0zM1492.8 689.2h8.0v8.0h-8.0zM1509.8 689.2h8.0v8.0h-8.0zM1526.9 689.2h8.0v8.0h-8.0zM1714.2 689.2h8.0v8.0h-8.0zM1731.2 689.2h8.0v8.0h-8.0zM1748.3 689.2h8.0v8.0h-8.0zM1765.3 689.2h8.0v8.0h-8.0zM1884.5 689.2h8.0v8.0h-8.0zM1901.5 689.2h8.0v8.0h-8.0zM1918.6 689.2h8.0v8.0h-8.0zM1935.6 689.2h8.0v8.0h-8.0zM1952.6 689.2h8.0v8.0h-8.0zM1969.7 689.2h8.0v8.0h-8.0zM1986.7 689.2h8.0v8.0h-8.0zM2003.7 689.2h8.0v8.0h-8.0zM2020.7 689.2h8.0v8.0h-8.0zM2037.8 689.2h8.0v8.0h-8.0zM2054.8 689.2h8.0v8.0h-8.0zM522.1 706.2h8.0v8.0h-8.0zM607.3 706.2h8.0v8.0h-8.0zM1033.0 706.2h8.0v8.0h-8.0zM1050.0 706.2h8.0v8.0h-8.0zM1067.1 706.2h8.0v8.0h-8.0zM1084.1 706.2h8.0v8.0h-8.0zM1101.1 706.2h8.0v8.0h-8.0zM1118.2 706.2h8.0v8.0h-8.0zM1135.2 706.2h8.0v8.0h-8.0zM1152.2 706.2h8.0v8.0h-8.0zM1169.2 706.2h8.0v8.0h-8.0zM1186.3 706.2h8.0v8.0h-8.0zM1203.3 706.2h8.0v8.0h-8.0zM1220.3 706.2h8.0v8.0h-8.0zM1237.4 706.2h8.0v8.0h-8.0zM1254.4 706.2h8.0v8.0h-8.0zM1271.4 706.2h8.0v8.0h-8.0zM1288.5 706.2h8.0v8.0h-8.0zM1305.5 706.2h8.0v8.0h-8.0zM1322.5 706.2h8.0v8.0h-8.0zM1339.5 706.2h8.0v8.0h-8.0zM1356.6 706.2h8.0v8.0h-8.0zM1373.6 706.2h8.0v8.0h-8.0zM1390.6 706.2h8.0v8.0h-8.0zM1407.7 706.2h8.0v8.0h-8.0zM1424.7 706.2h8.0v8.0h-8.0zM1441.7 706.2h8.0v8.0h-8.0zM1458.8 706.2h8.0v8.0h-8.0zM1475.8 706.2h8.0v8.0h-8.0zM1492.8 706.2h8.0v8.0h-8.0zM1509.8 706.2h8.0v8.0h-8.0zM1526.9 706.2h8.0v8.0h-8.0zM1714.2 706.2h8.0v8.0h-8.0zM1731.2 706.2h8.0v8.0h-8.0zM1748.3 706.2h8.0v8.0h-8.0zM1765.3 706.2h8.0v8.0h-8.0zM1884.5 706.2h8.0v8.0h-8.0zM1901.5 706.2h8.0v8.0h-8.0zM1918.6 706.2h8.0v8.0h-8.0zM1935.6 706.2h8.0v8.0h-8.0zM1952.6 706.2h8.0v8.0h-8.0zM1969.7 706.2h8.0v8.0h-8.0zM1986.7 706.2h8.0v8.0h-8.0zM2003.7 706.2h8.0v8.0h-8.0zM2020.7 706.2h8.0v8.0h-8.0zM2037.8 706.2h8.0v8.0h-8.0zM2054.8 706.2h8.0v8.0h-8.0zM522.1 723.3h8.0v8.0h-8.0zM539.1 723.3h8.0v8.0h-8.0zM556.2 723.3h8.0v8.0h-8.0zM607.3 723.3h8.0v8.0h-8.0zM624.3 723.3h8.0v8.0h-8.0zM641.3 723.3h8.0v8.0h-8.0zM658.3 723.3h8.0v8.0h-8.0zM675.4 723.3h8.0v8.0h-8.0zM692.4 723.3h8.0v8.0h-8.0zM709.4 723.3h8.0v8.0h-8.0zM1033.0 723.3h8.0v8.0h-8.0zM1050.0 723.3h8.0v8.0h-8.0zM1067.1 723.3h8.0v8.0h-8.0zM1084.1 723.3h8.0v8.0h-8.0zM1101.1 723.3h8.0v8.0h-8.0zM1118.2 723.3h8.0v8.0h-8.0zM1135.2 723.3h8.0v8.0h-8.0zM1152.2 723.3h8.0v8.0h-8.0zM1169.2 723.3h8.0v8.0h-8.0zM1186.3 723.3h8.0v8.0h-8.0zM1203.3 723.3h8.0v8.0h-8.0zM1220.3 723.3h8.0v8.0h-8.0zM1237.4 723.3h8.0v8.0h-8.0zM1254.4 723.3h8.0v8.0h-8.0zM1271.4 723.3h8.0v8.0h-8.0zM1288.5 723.3h8.0v8.0h-8.0zM1305.5 723.3h8.0v8.0h-8.0zM1322.5 723.3h8.0v8.0h-8.0zM1339.5 723.3h8.0v8.0h-8.0zM1356.6 723.3h8.0v8.0h-8.0zM1373.6 723.3h8.0v8.0h-8.0zM1390.6 723.3h8.0v8.0h-8.0zM1407.7 723.3h8.0v8.0h-8.0zM1424.7 723.3h8.0v8.0h-8.0zM1441.7 723.3h8.0v8.0h-8.0zM1458.8 723.3h8.0v8.0h-8.0zM1475.8 723.3h8.0v8.0h-8.0zM1492.8 723.3h8.0v8.0h-8.0zM1509.8 723.3h8.0v8.0h-8.0zM1526.9 723.3h8.0v8.0h-8.0zM1714.2 723.3h8.0v8.0h-8.0zM1731.2 723.3h8.0v8.0h-8.0zM1748.3 723.3h8.0v8.0h-8.0zM1765.3 723.3h8.0v8.0h-8.0zM1884.5 723.3h8.0v8.0h-8.0zM1901.5 723.3h8.0v8.0h-8.0zM1918.6 723.3h8.0v8.0h-8.0zM1935.6 723.3h8.0v8.0h-8.0zM1952.6 723.3h8.0v8.0h-8.0zM1969.7 723.3h8.0v8.0h-8.0zM1986.7 723.3h8.0v8.0h-8.0zM2003.7 723.3h8.0v8.0h-8.0zM2020.7 723.3h8.0v8.0h-8.0zM2037.8 723.3h8.0v8.0h-8.0zM2054.8 723.3h8.0v8.0h-8.0zM2071.8 723.3h8.0v8.0h-8.0zM2088.9 723.3h8.0v8.0h-8.0zM539.1 740.3h8.0v8.0h-8.0zM556.2 740.3h8.0v8.0h-8.0zM573.2 740.3h8.0v8.0h-8.0zM590.2 740.3h8.0v8.0h-8.0zM607.3 740.3h8.0v8.0h-8.0zM624.3 740.3h8.0v8.0h-8.0zM641.3 740.3h8.0v8.0h-8.0zM658.3 740.3h8.0v8.0h-8.0zM675.4 740.3h8.0v8.0h-8.0zM692.4 740.3h8.0v8.0h-8.0zM709.4 740.3h8.0v8.0h-8.0zM726.5 740.3h8.0v8.0h-8.0zM1050.0 740.3h8.0v8.0h-8.0zM1067.1 740.3h8.0v8.0h-8.0zM1084.1 740.3h8.0v8.0h-8.0zM1101.1 740.3h8.0v8.0h-8.0zM1118.2 740.3h8.0v8.0h-8.0zM1135.2 740.3h8.0v8.0h-8.0zM1152.2 740.3h8.0v8.0h-8.0zM1169.2 740.3h8.0v8.0h-8.0zM1186.3 740.3h8.0v8.0h-8.0zM1203.3 740.3h8.0v8.0h-8.0zM1220.3 740.3h8.0v8.0h-8.0zM1237.4 740.3h8.0v8.0h-8.0zM1254.4 740.3h8.0v8.0h-8.0zM1271.4 740.3h8.0v8.0h-8.0zM1288.5 740.3h8.0v8.0h-8.0zM1305.5 740.3h8.0v8.0h-8.0zM1322.5 740.3h8.0v8.0h-8.0zM1339.5 740.3h8.0v8.0h-8.0zM1356.6 740.3h8.0v8.0h-8.0zM1373.6 740.3h8.0v8.0h-8.0zM1390.6 740.3h8.0v8.0h-8.0zM1407.7 740.3h8.0v8.0h-8.0zM1424.7 740.3h8.0v8.0h-8.0zM1441.7 740.3h8.0v8.0h-8.0zM1458.8 740.3h8.0v8.0h-8.0zM1475.8 740.3h8.0v8.0h-8.0zM1492.8 740.3h8.0v8.0h-8.0zM1509.8 740.3h8.0v8.0h-8.0zM1526.9 740.3h8.0v8.0h-8.0zM1714.2 740.3h8.0v8.0h-8.0zM1731.2 740.3h8.0v8.0h-8.0zM1748.3 740.3h8.0v8.0h-8.0zM1765.3 740.3h8.0v8.0h-8.0zM1884.5 740.3h8.0v8.0h-8.0zM1901.5 740.3h8.0v8.0h-8.0zM1935.6 740.3h8.0v8.0h-8.0zM1986.7 740.3h8.0v8.0h-8.0zM2003.7 740.3h8.0v8.0h-8.0zM2020.7 740.3h8.0v8.0h-8.0zM2037.8 740.3h8.0v8.0h-8.0zM2054.8 740.3h8.0v8.0h-8.0zM2071.8 740.3h8.0v8.0h-8.0zM2088.9 740.3h8.0v8.0h-8.0zM590.2 757.3h8.0v8.0h-8.0zM607.3 757.3h8.0v8.0h-8.0zM624.3 757.3h8.0v8.0h-8.0zM641.3 757.3h8.0v8.0h-8.0zM658.3 757.3h8.0v8.0h-8.0zM675.4 757.3h8.0v8.0h-8.0zM692.4 757.3h8.0v8.0h-8.0zM709.4 757.3h8.0v8.0h-8.0zM726.5 757.3h8.0v8.0h-8.0zM743.5 757.3h8.0v8.0h-8.0zM760.5 757.3h8.0v8.0h-8.0zM777.6 757.3h8.0v8.0h-8.0zM1067.1 757.3h8.0v8.0h-8.0zM1084.1 757.3h8.0v8.0h-8.0zM1101.1 757.3h8.0v8.0h-8.0zM1118.2 757.3h8.0v8.0h-8.0zM1135.2 757.3h8.0v8.0h-8.0zM1152.2 757.3h8.0v8.0h-8.0zM1169.2 757.3h8.0v8.0h-8.0zM1186.3 757.3h8.0v8.0h-8.0zM1203.3 757.3h8.0v8.0h-8.0zM1220.3 757.3h8.0v8.0h-8.0zM1237.4 757.3h8.0v8.0h-8.0zM1254.4 757.3h8.0v8.0h-8.0zM1271.4 757.3h8.0v8.0h-8.0zM1288.5 757.3h8.0v8.0h-8.0zM1305.5 757.3h8.0v8.0h-8.0zM1322.5 757.3h8.0v8.0h-8.0zM1339.5 757.3h8.0v8.0h-8.0zM1356.6 757.3h8.0v8.0h-8.0zM1373.6 757.3h8.0v8.0h-8.0zM1390.6 757.3h8.0v8.0h-8.0zM1407.7 757.3h8.0v8.0h-8.0zM1424.7 757.3h8.0v8.0h-8.0zM1441.7 757.3h8.0v8.0h-8.0zM1458.8 757.3h8.0v8.0h-8.0zM1475.8 757.3h8.0v8.0h-8.0zM1492.8 757.3h8.0v8.0h-8.0zM1509.8 757.3h8.0v8.0h-8.0zM1526.9 757.3h8.0v8.0h-8.0zM1748.3 757.3h8.0v8.0h-8.0zM1850.4 757.3h8.0v8.0h-8.0zM1867.5 757.3h8.0v8.0h-8.0zM1884.5 757.3h8.0v8.0h-8.0zM1901.5 757.3h8.0v8.0h-8.0zM1918.6 757.3h8.0v8.0h-8.0zM2003.7 757.3h8.0v8.0h-8.0zM2020.7 757.3h8.0v8.0h-8.0zM2037.8 757.3h8.0v8.0h-8.0zM2054.8 757.3h8.0v8.0h-8.0zM2071.8 757.3h8.0v8.0h-8.0zM2088.9 757.3h8.0v8.0h-8.0zM573.2 774.4h8.0v8.0h-8.0zM590.2 774.4h8.0v8.0h-8.0zM607.3 774.4h8.0v8.0h-8.0zM624.3 774.4h8.0v8.0h-8.0zM641.3 774.4h8.0v8.0h-8.0zM658.3 774.4h8.0v8.0h-8.0zM675.4 774.4h8.0v8.0h-8.0zM692.4 774.4h8.0v8.0h-8.0zM709.4 774.4h8.0v8.0h-8.0zM726.5 774.4h8.0v8.0h-8.0zM743.5 774.4h8.0v8.0h-8.0zM760.5 774.4h8.0v8.0h-8.0zM777.6 774.4h8.0v8.0h-8.0zM794.6 774.4h8.0v8.0h-8.0zM1101.1 774.4h8.0v8.0h-8.0zM1118.2 774.4h8.0v8.0h-8.0zM1135.2 774.4h8.0v8.0h-8.0zM1152.2 774.4h8.0v8.0h-8.0zM1203.3 774.4h8.0v8.0h-8.0zM1220.3 774.4h8.0v8.0h-8.0zM1237.4 774.4h8.0v8.0h-8.0zM1254.4 774.4h8.0v8.0h-8.0zM1271.4 774.4h8.0v8.0h-8.0zM1288.5 774.4h8.0v8.0h-8.0zM1305.5 774.4h8.0v8.0h-8.0zM1322.5 774.4h8.0v8.0h-8.0zM1339.5 774.4h8.0v8.0h-8.0zM1356.6 774.4h8.0v8.0h-8.0zM1373.6 774.4h8.0v8.0h-8.0zM1390.6 774.4h8.0v8.0h-8.0zM1407.7 774.4h8.0v8.0h-8.0zM1424.7 774.4h8.0v8.0h-8.0zM1441.7 774.4h8.0v8.0h-8.0zM1458.8 774.4h8.0v8.0h-8.0zM1475.8 774.4h8.0v8.0h-8.0zM1492.8 774.4h8.0v8.0h-8.0zM1509.8 774.4h8.0v8.0h-8.0zM1867.5 774.4h8.0v8.0h-8.0zM1884.5 774.4h8.0v8.0h-8.0zM1901.5 774.4h8.0v8.0h-8.0zM1918.6 774.4h8.0v8.0h-8.0zM1986.7 774.4h8.0v8.0h-8.0zM2003.7 774.4h8.0v8.0h-8.0zM2020.7 774.4h8.0v8.0h-8.0zM2037.8 774.4h8.0v8.0h-8.0zM573.2 791.4h8.0v8.0h-8.0zM590.2 791.4h8.0v8.0h-8.0zM607.3 791.4h8.0v8.0h-8.0zM624.3 791.4h8.0v8.0h-8.0zM641.3 791.4h8.0v8.0h-8.0zM658.3 791.4h8.0v8.0h-8.0zM675.4 791.4h8.0v8.0h-8.0zM692.4 791.4h8.0v8.0h-8.0zM709.4 791.4h8.0v8.0h-8.0zM726.5 791.4h8.0v8.0h-8.0zM743.5 791.4h8.0v8.0h-8.0zM760.5 791.4h8.0v8.0h-8.0zM777.6 791.4h8.0v8.0h-8.0zM794.6 791.4h8.0v8.0h-8.0zM1220.3 791.4h8.0v8.0h-8.0zM1237.4 791.4h8.0v8.0h-8.0zM1254.4 791.4h8.0v8.0h-8.0zM1271.4 791.4h8.0v8.0h-8.0zM1288.5 791.4h8.0v8.0h-8.0zM1305.5 791.4h8.0v8.0h-8.0zM1322.5 791.4h8.0v8.0h-8.0zM1339.5 791.4h8.0v8.0h-8.0zM1356.6 791.4h8.0v8.0h-8.0zM1373.6 791.4h8.0v8.0h-8.0zM1390.6 791.4h8.0v8.0h-8.0zM1407.7 791.4h8.0v8.0h-8.0zM1424.7 791.4h8.0v8.0h-8.0zM1441.7 791.4h8.0v8.0h-8.0zM1458.8 791.4h8.0v8.0h-8.0zM1475.8 791.4h8.0v8.0h-8.0zM1492.8 791.4h8.0v8.0h-8.0zM1867.5 791.4h8.0v8.0h-8.0zM1884.5 791.4h8.0v8.0h-8.0zM1901.5 791.4h8.0v8.0h-8.0zM1918.6 791.4h8.0v8.0h-8.0zM1935.6 791.4h8.0v8.0h-8.0zM1952.6 791.4h8.0v8.0h-8.0zM1969.7 791.4h8.0v8.0h-8.0zM1986.7 791.4h8.0v8.0h-8.0zM2003.7 791.4h8.0v8.0h-8.0zM2020.7 791.4h8.0v8.0h-8.0zM2037.8 791.4h8.0v8.0h-8.0zM2054.8 791.4h8.0v8.0h-8.0zM2071.8 791.4h8.0v8.0h-8.0zM2088.9 791.4h8.0v8.0h-8.0zM2105.9 791.4h8.0v8.0h-8.0zM556.2 808.4h8.0v8.0h-8.0zM573.2 808.4h8.0v8.0h-8.0zM590.2 808.4h8.0v8.0h-8.0zM607.3 808.4h8.0v8.0h-8.0zM624.3 808.4h8.0v8.0h-8.0zM641.3 808.4h8.0v8.0h-8.0zM658.3 808.4h8.0v8.0h-8.0zM675.4 808.4h8.0v8.0h-8.0zM692.4 808.4h8.0v8.0h-8.0zM709.4 808.4h8.0v8.0h-8.0zM726.5 808.4h8.0v8.0h-8.0zM743.5 808.4h8.0v8.0h-8.0zM760.5 808.4h8.0v8.0h-8.0zM777.6 808.4h8.0v8.0h-8.0zM794.6 808.4h8.0v8.0h-8.0zM811.6 808.4h8.0v8.0h-8.0zM828.6 808.4h8.0v8.0h-8.0zM1220.3 808.4h8.0v8.0h-8.0zM1237.4 808.4h8.0v8.0h-8.0zM1254.4 808.4h8.0v8.0h-8.0zM1271.4 808.4h8.0v8.0h-8.0zM1288.5 808.4h8.0v8.0h-8.0zM1305.5 808.4h8.0v8.0h-8.0zM1322.5 808.4h8.0v8.0h-8.0zM1339.5 808.4h8.0v8.0h-8.0zM1356.6 808.4h8.0v8.0h-8.0zM1373.6 808.4h8.0v8.0h-8.0zM1390.6 808.4h8.0v8.0h-8.0zM1407.7 808.4h8.0v8.0h-8.0zM1424.7 808.4h8.0v8.0h-8.0zM1441.7 808.4h8.0v8.0h-8.0zM1458.8 808.4h8.0v8.0h-8.0zM1475.8 808.4h8.0v8.0h-8.0zM1884.5 808.4h8.0v8.0h-8.0zM1901.5 808.4h8.0v8.0h-8.0zM1918.6 808.4h8.0v8.0h-8.0zM1935.6 808.4h8.0v8.0h-8.0zM1952.6 808.4h8.0v8.0h-8.0zM1969.7 808.4h8.0v8.0h-8.0zM1986.7 808.4h8.0v8.0h-8.0zM2003.7 808.4h8.0v8.0h-8.0zM2020.7 808.4h8.0v8.0h-8.0zM2037.8 808.4h8.0v8.0h-8.0zM2054.8 808.4h8.0v8.0h-8.0zM2071.8 808.4h8.0v8.0h-8.0zM2088.9 808.4h8.0v8.0h-8.0zM2105.9 808.4h8.0v8.0h-8.0zM2122.9 808.4h8.0v8.0h-8.0zM2139.9 808.4h8.0v8.0h-8.0zM2157.0 808.4h8.0v8.0h-8.0zM2174.0 808.4h8.0v8.0h-8.0zM2191.0 808.4h8.0v8.0h-8.0zM556.2 825.4h8.0v8.0h-8.0zM573.2 825.4h8.0v8.0h-8.0zM590.2 825.4h8.0v8.0h-8.0zM607.3 825.4h8.0v8.0h-8.0zM624.3 825.4h8.0v8.0h-8.0zM641.3 825.4h8.0v8.0h-8.0zM658.3 825.4h8.0v8.0h-8.0zM675.4 825.4h8.0v8.0h-8.0zM692.4 825.4h8.0v8.0h-8.0zM709.4 825.4h8.0v8.0h-8.0zM726.5 825.4h8.0v8.0h-8.0zM743.5 825.4h8.0v8.0h-8.0zM760.5 825.4h8.0v8.0h-8.0zM777.6 825.4h8.0v8.0h-8.0zM794.6 825.4h8.0v8.0h-8.0zM811.6 825.4h8.0v8.0h-8.0zM828.6 825.4h8.0v8.0h-8.0zM845.7 825.4h8.0v8.0h-8.0zM862.7 825.4h8.0v8.0h-8.0zM879.7 825.4h8.0v8.0h-8.0zM1220.3 825.4h8.0v8.0h-8.0zM1237.4 825.4h8.0v8.0h-8.0zM1254.4 825.4h8.0v8.0h-8.0zM1271.4 825.4h8.0v8.0h-8.0zM1288.5 825.4h8.0v8.0h-8.0zM1305.5 825.4h8.0v8.0h-8.0zM1322.5 825.4h8.0v8.0h-8.0zM1339.5 825.4h8.0v8.0h-8.0zM1356.6 825.4h8.0v8.0h-8.0zM1373.6 825.4h8.0v8.0h-8.0zM1390.6 825.4h8.0v8.0h-8.0zM1407.7 825.4h8.0v8.0h-8.0zM1424.7 825.4h8.0v8.0h-8.0zM1441.7 825.4h8.0v8.0h-8.0zM1458.8 825.4h8.0v8.0h-8.0zM1901.5 825.4h8.0v8.0h-8.0zM1918.6 825.4h8.0v8.0h-8.0zM1935.6 825.4h8.0v8.0h-8.0zM1969.7 825.4h8.0v8.0h-8.0zM1986.7 825.4h8.0v8.0h-8.0zM2003.7 825.4h8.0v8.0h-8.0zM2020.7 825.4h8.0v8.0h-8.0zM2037.8 825.4h8.0v8.0h-8.0zM2054.8 825.4h8.0v8.0h-8.0zM2088.9 825.4h8.0v8.0h-8.0zM2105.9 825.4h8.0v8.0h-8.0zM2122.9 825.4h8.0v8.0h-8.0zM2139.9 825.4h8.0v8.0h-8.0zM2157.0 825.4h8.0v8.0h-8.0zM2174.0 825.4h8.0v8.0h-8.0zM2191.0 825.4h8.0v8.0h-8.0zM556.2 842.5h8.0v8.0h-8.0zM573.2 842.5h8.0v8.0h-8.0zM590.2 842.5h8.0v8.0h-8.0zM607.3 842.5h8.0v8.0h-8.0zM624.3 842.5h8.0v8.0h-8.0zM641.3 842.5h8.0v8.0h-8.0zM658.3 842.5h8.0v8.0h-8.0zM675.4 842.5h8.0v8.0h-8.0zM692.4 842.5h8.0v8.0h-8.0zM709.4 842.5h8.0v8.0h-8.0zM726.5 842.5h8.0v8.0h-8.0zM743.5 842.5h8.0v8.0h-8.0zM760.5 842.5h8.0v8.0h-8.0zM777.6 842.5h8.0v8.0h-8.0zM794.6 842.5h8.0v8.0h-8.0zM811.6 842.5h8.0v8.0h-8.0zM828.6 842.5h8.0v8.0h-8.0zM845.7 842.5h8.0v8.0h-8.0zM862.7 842.5h8.0v8.0h-8.0zM879.7 842.5h8.0v8.0h-8.0zM896.8 842.5h8.0v8.0h-8.0zM1237.4 842.5h8.0v8.0h-8.0zM1254.4 842.5h8.0v8.0h-8.0zM1271.4 842.5h8.0v8.0h-8.0zM1288.5 842.5h8.0v8.0h-8.0zM1305.5 842.5h8.0v8.0h-8.0zM1322.5 842.5h8.0v8.0h-8.0zM1339.5 842.5h8.0v8.0h-8.0zM1356.6 842.5h8.0v8.0h-8.0zM1373.6 842.5h8.0v8.0h-8.0zM1390.6 842.5h8.0v8.0h-8.0zM1407.7 842.5h8.0v8.0h-8.0zM1424.7 842.5h8.0v8.0h-8.0zM1441.7 842.5h8.0v8.0h-8.0zM1918.6 842.5h8.0v8.0h-8.0zM1935.6 842.5h8.0v8.0h-8.0zM1952.6 842.5h8.0v8.0h-8.0zM1969.7 842.5h8.0v8.0h-8.0zM1986.7 842.5h8.0v8.0h-8.0zM2037.8 842.5h8.0v8.0h-8.0zM2054.8 842.5h8.0v8.0h-8.0zM2071.8 842.5h8.0v8.0h-8.0zM573.2 859.5h8.0v8.0h-8.0zM590.2 859.5h8.0v8.0h-8.0zM607.3 859.5h8.0v8.0h-8.0zM624.3 859.5h8.0v8.0h-8.0zM641.3 859.5h8.0v8.0h-8.0zM658.3 859.5h8.0v8.0h-8.0zM675.4 859.5h8.0v8.0h-8.0zM692.4 859.5h8.0v8.0h-8.0zM709.4 859.5h8.0v8.0h-8.0zM726.5 859.5h8.0v8.0h-8.0zM743.5 859.5h8.0v8.0h-8.0zM760.5 859.5h8.0v8.0h-8.0zM777.6 859.5h8.0v8.0h-8.0zM794.6 859.5h8.0v8.0h-8.0zM811.6 859.5h8.0v8.0h-8.0zM828.6 859.5h8.0v8.0h-8.0zM845.7 859.5h8.0v8.0h-8.0zM862.7 859.5h8.0v8.0h-8.0zM879.7 859.5h8.0v8.0h-8.0zM896.8 859.5h8.0v8.0h-8.0zM1254.4 859.5h8.0v8.0h-8.0zM1271.4 859.5h8.0v8.0h-8.0zM1288.5 859.5h8.0v8.0h-8.0zM1305.5 859.5h8.0v8.0h-8.0zM1322.5 859.5h8.0v8.0h-8.0zM1339.5 859.5h8.0v8.0h-8.0zM1356.6 859.5h8.0v8.0h-8.0zM1373.6 859.5h8.0v8.0h-8.0zM1390.6 859.5h8.0v8.0h-8.0zM1407.7 859.5h8.0v8.0h-8.0zM1424.7 859.5h8.0v8.0h-8.0zM1441.7 859.5h8.0v8.0h-8.0zM1935.6 859.5h8.0v8.0h-8.0zM1952.6 859.5h8.0v8.0h-8.0zM1969.7 859.5h8.0v8.0h-8.0zM1986.7 859.5h8.0v8.0h-8.0zM2003.7 859.5h8.0v8.0h-8.0zM2020.7 859.5h8.0v8.0h-8.0zM2037.8 859.5h8.0v8.0h-8.0zM2054.8 859.5h8.0v8.0h-8.0zM2071.8 859.5h8.0v8.0h-8.0zM2088.9 859.5h8.0v8.0h-8.0zM2139.9 859.5h8.0v8.0h-8.0zM2157.0 859.5h8.0v8.0h-8.0zM2174.0 859.5h8.0v8.0h-8.0zM2191.0 859.5h8.0v8.0h-8.0zM2208.1 859.5h8.0v8.0h-8.0zM2225.1 859.5h8.0v8.0h-8.0zM2242.1 859.5h8.0v8.0h-8.0zM2259.2 859.5h8.0v8.0h-8.0zM2293.2 859.5h8.0v8.0h-8.0zM2310.2 859.5h8.0v8.0h-8.0zM573.2 876.5h8.0v8.0h-8.0zM590.2 876.5h8.0v8.0h-8.0zM607.3 876.5h8.0v8.0h-8.0zM624.3 876.5h8.0v8.0h-8.0zM641.3 876.5h8.0v8.0h-8.0zM658.3 876.5h8.0v8.0h-8.0zM675.4 876.5h8.0v8.0h-8.0zM692.4 876.5h8.0v8.0h-8.0zM709.4 876.5h8.0v8.0h-8.0zM726.5 876.5h8.0v8.0h-8.0zM743.5 876.5h8.0v8.0h-8.0zM760.5 876.5h8.0v8.0h-8.0zM777.6 876.5h8.0v8.0h-8.0zM794.6 876.5h8.0v8.0h-8.0zM811.6 876.5h8.0v8.0h-8.0zM828.6 876.5h8.0v8.0h-8.0zM845.7 876.5h8.0v8.0h-8.0zM862.7 876.5h8.0v8.0h-8.0zM879.7 876.5h8.0v8.0h-8.0zM896.8 876.5h8.0v8.0h-8.0zM1254.4 876.5h8.0v8.0h-8.0zM1271.4 876.5h8.0v8.0h-8.0zM1288.5 876.5h8.0v8.0h-8.0zM1305.5 876.5h8.0v8.0h-8.0zM1322.5 876.5h8.0v8.0h-8.0zM1339.5 876.5h8.0v8.0h-8.0zM1356.6 876.5h8.0v8.0h-8.0zM1373.6 876.5h8.0v8.0h-8.0zM1390.6 876.5h8.0v8.0h-8.0zM1407.7 876.5h8.0v8.0h-8.0zM1424.7 876.5h8.0v8.0h-8.0zM1441.7 876.5h8.0v8.0h-8.0zM1458.8 876.5h8.0v8.0h-8.0zM2020.7 876.5h8.0v8.0h-8.0zM2037.8 876.5h8.0v8.0h-8.0zM2071.8 876.5h8.0v8.0h-8.0zM2139.9 876.5h8.0v8.0h-8.0zM2191.0 876.5h8.0v8.0h-8.0zM2208.1 876.5h8.0v8.0h-8.0zM2242.1 876.5h8.0v8.0h-8.0zM2259.2 876.5h8.0v8.0h-8.0zM590.2 893.6h8.0v8.0h-8.0zM607.3 893.6h8.0v8.0h-8.0zM624.3 893.6h8.0v8.0h-8.0zM641.3 893.6h8.0v8.0h-8.0zM658.3 893.6h8.0v8.0h-8.0zM675.4 893.6h8.0v8.0h-8.0zM692.4 893.6h8.0v8.0h-8.0zM709.4 893.6h8.0v8.0h-8.0zM726.5 893.6h8.0v8.0h-8.0zM743.5 893.6h8.0v8.0h-8.0zM760.5 893.6h8.0v8.0h-8.0zM777.6 893.6h8.0v8.0h-8.0zM794.6 893.6h8.0v8.0h-8.0zM811.6 893.6h8.0v8.0h-8.0zM828.6 893.6h8.0v8.0h-8.0zM845.7 893.6h8.0v8.0h-8.0zM862.7 893.6h8.0v8.0h-8.0zM879.7 893.6h8.0v8.0h-8.0zM1254.4 893.6h8.0v8.0h-8.0zM1271.4 893.6h8.0v8.0h-8.0zM1288.5 893.6h8.0v8.0h-8.0zM1305.5 893.6h8.0v8.0h-8.0zM1322.5 893.6h8.0v8.0h-8.0zM1339.5 893.6h8.0v8.0h-8.0zM1356.6 893.6h8.0v8.0h-8.0zM1373.6 893.6h8.0v8.0h-8.0zM1390.6 893.6h8.0v8.0h-8.0zM1407.7 893.6h8.0v8.0h-8.0zM1424.7 893.6h8.0v8.0h-8.0zM1441.7 893.6h8.0v8.0h-8.0zM1458.8 893.6h8.0v8.0h-8.0zM1509.8 893.6h8.0v8.0h-8.0zM1526.9 893.6h8.0v8.0h-8.0zM2054.8 893.6h8.0v8.0h-8.0zM2071.8 893.6h8.0v8.0h-8.0zM2088.9 893.6h8.0v8.0h-8.0zM2105.9 893.6h8.0v8.0h-8.0zM2122.9 893.6h8.0v8.0h-8.0zM2139.9 893.6h8.0v8.0h-8.0zM2157.0 893.6h8.0v8.0h-8.0zM2174.0 893.6h8.0v8.0h-8.0zM2191.0 893.6h8.0v8.0h-8.0zM2208.1 893.6h8.0v8.0h-8.0zM2225.1 893.6h8.0v8.0h-8.0zM2242.1 893.6h8.0v8.0h-8.0zM590.2 910.6h8.0v8.0h-8.0zM607.3 910.6h8.0v8.0h-8.0zM624.3 910.6h8.0v8.0h-8.0zM641.3 910.6h8.0v8.0h-8.0zM658.3 910.6h8.0v8.0h-8.0zM675.4 910.6h8.0v8.0h-8.0zM692.4 910.6h8.0v8.0h-8.0zM709.4 910.6h8.0v8.0h-8.0zM726.5 910.6h8.0v8.0h-8.0zM743.5 910.6h8.0v8.0h-8.0zM760.5 910.6h8.0v8.0h-8.0zM777.6 910.6h8.0v8.0h-8.0zM794.6 910.6h8.0v8.0h-8.0zM811.6 910.6h8.0v8.0h-8.0zM828.6 910.6h8.0v8.0h-8.0zM845.7 910.6h8.0v8.0h-8.0zM862.7 910.6h8.0v8.0h-8.0zM879.7 910.6h8.0v8.0h-8.0zM1237.4 910.6h8.0v8.0h-8.0zM1254.4 910.6h8.0v8.0h-8.0zM1271.4 910.6h8.0v8.0h-8.0zM1288.5 910.6h8.0v8.0h-8.0zM1305.5 910.6h8.0v8.0h-8.0zM1322.5 910.6h8.0v8.0h-8.0zM1339.5 910.6h8.0v8.0h-8.0zM1356.6 910.6h8.0v8.0h-8.0zM1373.6 910.6h8.0v8.0h-8.0zM1390.6 910.6h8.0v8.0h-8.0zM1407.7 910.6h8.0v8.0h-8.0zM1424.7 910.6h8.0v8.0h-8.0zM1441.7 910.6h8.0v8.0h-8.0zM1458.8 910.6h8.0v8.0h-8.0zM1492.8 910.6h8.0v8.0h-8.0zM1509.8 910.6h8.0v8.0h-8.0zM1526.9 910.6h8.0v8.0h-8.0zM2071.8 910.6h8.0v8.0h-8.0zM2088.9 910.6h8.0v8.0h-8.0zM2105.9 910.6h8.0v8.0h-8.0zM2122.9 910.6h8.0v8.0h-8.0zM2139.9 910.6h8.0v8.0h-8.0zM2157.0 910.6h8.0v8.0h-8.0zM2174.0 910.6h8.0v8.0h-8.0zM2191.0 910.6h8.0v8.0h-8.0zM2208.1 910.6h8.0v8.0h-8.0zM2225.1 910.6h8.0v8.0h-8.0zM2242.1 910.6h8.0v8.0h-8.0zM2463.5 910.6h8.0v8.0h-8.0zM607.3 927.6h8.0v8.0h-8.0zM624.3 927.6h8.0v8.0h-8.0zM641.3 927.6h8.0v8.0h-8.0zM658.3 927.6h8.0v8.0h-8.0zM675.4 927.6h8.0v8.0h-8.0zM692.4 927.6h8.0v8.0h-8.0zM709.4 927.6h8.0v8.0h-8.0zM726.5 927.6h8.0v8.0h-8.0zM743.5 927.6h8.0v8.0h-8.0zM760.5 927.6h8.0v8.0h-8.0zM777.6 927.6h8.0v8.0h-8.0zM794.6 927.6h8.0v8.0h-8.0zM811.6 927.6h8.0v8.0h-8.0zM828.6 927.6h8.0v8.0h-8.0zM845.7 927.6h8.0v8.0h-8.0zM862.7 927.6h8.0v8.0h-8.0zM879.7 927.6h8.0v8.0h-8.0zM1237.4 927.6h8.0v8.0h-8.0zM1254.4 927.6h8.0v8.0h-8.0zM1271.4 927.6h8.0v8.0h-8.0zM1288.5 927.6h8.0v8.0h-8.0zM1305.5 927.6h8.0v8.0h-8.0zM1322.5 927.6h8.0v8.0h-8.0zM1339.5 927.6h8.0v8.0h-8.0zM1356.6 927.6h8.0v8.0h-8.0zM1373.6 927.6h8.0v8.0h-8.0zM1390.6 927.6h8.0v8.0h-8.0zM1407.7 927.6h8.0v8.0h-8.0zM1424.7 927.6h8.0v8.0h-8.0zM1441.7 927.6h8.0v8.0h-8.0zM1458.8 927.6h8.0v8.0h-8.0zM1475.8 927.6h8.0v8.0h-8.0zM1492.8 927.6h8.0v8.0h-8.0zM1509.8 927.6h8.0v8.0h-8.0zM1526.9 927.6h8.0v8.0h-8.0zM2054.8 927.6h8.0v8.0h-8.0zM2071.8 927.6h8.0v8.0h-8.0zM2088.9 927.6h8.0v8.0h-8.0zM2105.9 927.6h8.0v8.0h-8.0zM2122.9 927.6h8.0v8.0h-8.0zM2139.9 927.6h8.0v8.0h-8.0zM2157.0 927.6h8.0v8.0h-8.0zM2174.0 927.6h8.0v8.0h-8.0zM2191.0 927.6h8.0v8.0h-8.0zM2208.1 927.6h8.0v8.0h-8.0zM2225.1 927.6h8.0v8.0h-8.0zM2242.1 927.6h8.0v8.0h-8.0zM2446.5 927.6h8.0v8.0h-8.0zM2463.5 927.6h8.0v8.0h-8.0zM641.3 944.7h8.0v8.0h-8.0zM658.3 944.7h8.0v8.0h-8.0zM675.4 944.7h8.0v8.0h-8.0zM692.4 944.7h8.0v8.0h-8.0zM709.4 944.7h8.0v8.0h-8.0zM726.5 944.7h8.0v8.0h-8.0zM743.5 944.7h8.0v8.0h-8.0zM760.5 944.7h8.0v8.0h-8.0zM777.6 944.7h8.0v8.0h-8.0zM794.6 944.7h8.0v8.0h-8.0zM811.6 944.7h8.0v8.0h-8.0zM828.6 944.7h8.0v8.0h-8.0zM845.7 944.7h8.0v8.0h-8.0zM862.7 944.7h8.0v8.0h-8.0zM1237.4 944.7h8.0v8.0h-8.0zM1254.4 944.7h8.0v8.0h-8.0zM1271.4 944.7h8.0v8.0h-8.0zM1288.5 944.7h8.0v8.0h-8.0zM1305.5 944.7h8.0v8.0h-8.0zM1322.5 944.7h8.0v8.0h-8.0zM1339.5 944.7h8.0v8.0h-8.0zM1356.6 944.7h8.0v8.0h-8.0zM1373.6 944.7h8.0v8.0h-8.0zM1390.6 944.7h8.0v8.0h-8.0zM1407.7 944.7h8.0v8.0h-8.0zM1424.7 944.7h8.0v8.0h-8.0zM1475.8 944.7h8.0v8.0h-8.0zM1492.8 944.7h8.0v8.0h-8.0zM1509.8 944.7h8.0v8.0h-8.0zM1526.9 944.7h8.0v8.0h-8.0zM2020.7 944.7h8.0v8.0h-8.0zM2037.8 944.7h8.0v8.0h-8.0zM2054.8 944.7h8.0v8.0h-8.0zM2071.8 944.7h8.0v8.0h-8.0zM2088.9 944.7h8.0v8.0h-8.0zM2105.9 944.7h8.0v8.0h-8.0zM2122.9 944.7h8.0v8.0h-8.0zM2139.9 944.7h8.0v8.0h-8.0zM2157.0 944.7h8.0v8.0h-8.0zM2174.0 944.7h8.0v8.0h-8.0zM2191.0 944.7h8.0v8.0h-8.0zM2208.1 944.7h8.0v8.0h-8.0zM2225.1 944.7h8.0v8.0h-8.0zM2242.1 944.7h8.0v8.0h-8.0zM641.3 961.7h8.0v8.0h-8.0zM658.3 961.7h8.0v8.0h-8.0zM675.4 961.7h8.0v8.0h-8.0zM692.4 961.7h8.0v8.0h-8.0zM709.4 961.7h8.0v8.0h-8.0zM726.5 961.7h8.0v8.0h-8.0zM743.5 961.7h8.0v8.0h-8.0zM760.5 961.7h8.0v8.0h-8.0zM777.6 961.7h8.0v8.0h-8.0zM794.6 961.7h8.0v8.0h-8.0zM811.6 961.7h8.0v8.0h-8.0zM828.6 961.7h8.0v8.0h-8.0zM845.7 961.7h8.0v8.0h-8.0zM862.7 961.7h8.0v8.0h-8.0zM1254.4 961.7h8.0v8.0h-8.0zM1271.4 961.7h8.0v8.0h-8.0zM1288.5 961.7h8.0v8.0h-8.0zM1305.5 961.7h8.0v8.0h-8.0zM1322.5 961.7h8.0v8.0h-8.0zM1339.5 961.7h8.0v8.0h-8.0zM1356.6 961.7h8.0v8.0h-8.0zM1373.6 961.7h8.0v8.0h-8.0zM1390.6 961.7h8.0v8.0h-8.0zM1407.7 961.7h8.0v8.0h-8.0zM1424.7 961.7h8.0v8.0h-8.0zM1475.8 961.7h8.0v8.0h-8.0zM1492.8 961.7h8.0v8.0h-8.0zM1509.8 961.7h8.0v8.0h-8.0zM1986.7 961.7h8.0v8.0h-8.0zM2003.7 961.7h8.0v8.0h-8.0zM2020.7 961.7h8.0v8.0h-8.0zM2037.8 961.7h8.0v8.0h-8.0zM2054.8 961.7h8.0v8.0h-8.0zM2071.8 961.7h8.0v8.0h-8.0zM2088.9 961.7h8.0v8.0h-8.0zM2105.9 961.7h8.0v8.0h-8.0zM2122.9 961.7h8.0v8.0h-8.0zM2139.9 961.7h8.0v8.0h-8.0zM2157.0 961.7h8.0v8.0h-8.0zM2174.0 961.7h8.0v8.0h-8.0zM2191.0 961.7h8.0v8.0h-8.0zM2208.1 961.7h8.0v8.0h-8.0zM2225.1 961.7h8.0v8.0h-8.0zM2242.1 961.7h8.0v8.0h-8.0zM641.3 978.7h8.0v8.0h-8.0zM658.3 978.7h8.0v8.0h-8.0zM675.4 978.7h8.0v8.0h-8.0zM692.4 978.7h8.0v8.0h-8.0zM709.4 978.7h8.0v8.0h-8.0zM726.5 978.7h8.0v8.0h-8.0zM743.5 978.7h8.0v8.0h-8.0zM760.5 978.7h8.0v8.0h-8.0zM777.6 978.7h8.0v8.0h-8.0zM794.6 978.7h8.0v8.0h-8.0zM811.6 978.7h8.0v8.0h-8.0zM828.6 978.7h8.0v8.0h-8.0zM845.7 978.7h8.0v8.0h-8.0zM1271.4 978.7h8.0v8.0h-8.0zM1288.5 978.7h8.0v8.0h-8.0zM1305.5 978.7h8.0v8.0h-8.0zM1322.5 978.7h8.0v8.0h-8.0zM1339.5 978.7h8.0v8.0h-8.0zM1356.6 978.7h8.0v8.0h-8.0zM1373.6 978.7h8.0v8.0h-8.0zM1390.6 978.7h8.0v8.0h-8.0zM1407.7 978.7h8.0v8.0h-8.0zM1424.7 978.7h8.0v8.0h-8.0zM1475.8 978.7h8.0v8.0h-8.0zM1492.8 978.7h8.0v8.0h-8.0zM1509.8 978.7h8.0v8.0h-8.0zM1986.7 978.7h8.0v8.0h-8.0zM2003.7 978.7h8.0v8.0h-8.0zM2020.7 978.7h8.0v8.0h-8.0zM2037.8 978.7h8.0v8.0h-8.0zM2054.8 978.7h8.0v8.0h-8.0zM2071.8 978.7h8.0v8.0h-8.0zM2088.9 978.7h8.0v8.0h-8.0zM2105.9 978.7h8.0v8.0h-8.0zM2122.9 978.7h8.0v8.0h-8.0zM2139.9 978.7h8.0v8.0h-8.0zM2157.0 978.7h8.0v8.0h-8.0zM2174.0 978.7h8.0v8.0h-8.0zM2191.0 978.7h8.0v8.0h-8.0zM2208.1 978.7h8.0v8.0h-8.0zM2225.1 978.7h8.0v8.0h-8.0zM2242.1 978.7h8.0v8.0h-8.0zM2259.2 978.7h8.0v8.0h-8.0zM2276.2 978.7h8.0v8.0h-8.0zM2293.2 978.7h8.0v8.0h-8.0zM641.3 995.7h8.0v8.0h-8.0zM658.3 995.7h8.0v8.0h-8.0zM675.4 995.7h8.0v8.0h-8.0zM692.4 995.7h8.0v8.0h-8.0zM709.4 995.7h8.0v8.0h-8.0zM726.5 995.7h8.0v8.0h-8.0zM743.5 995.7h8.0v8.0h-8.0zM760.5 995.7h8.0v8.0h-8.0zM777.6 995.7h8.0v8.0h-8.0zM794.6 995.7h8.0v8.0h-8.0zM811.6 995.7h8.0v8.0h-8.0zM1271.4 995.7h8.0v8.0h-8.0zM1288.5 995.7h8.0v8.0h-8.0zM1305.5 995.7h8.0v8.0h-8.0zM1322.5 995.7h8.0v8.0h-8.0zM1339.5 995.7h8.0v8.0h-8.0zM1356.6 995.7h8.0v8.0h-8.0zM1373.6 995.7h8.0v8.0h-8.0zM1390.6 995.7h8.0v8.0h-8.0zM1407.7 995.7h8.0v8.0h-8.0zM1492.8 995.7h8.0v8.0h-8.0zM1986.7 995.7h8.0v8.0h-8.0zM2003.7 995.7h8.0v8.0h-8.0zM2020.7 995.7h8.0v8.0h-8.0zM2037.8 995.7h8.0v8.0h-8.0zM2054.8 995.7h8.0v8.0h-8.0zM2071.8 995.7h8.0v8.0h-8.0zM2088.9 995.7h8.0v8.0h-8.0zM2105.9 995.7h8.0v8.0h-8.0zM2122.9 995.7h8.0v8.0h-8.0zM2139.9 995.7h8.0v8.0h-8.0zM2157.0 995.7h8.0v8.0h-8.0zM2174.0 995.7h8.0v8.0h-8.0zM2191.0 995.7h8.0v8.0h-8.0zM2208.1 995.7h8.0v8.0h-8.0zM2225.1 995.7h8.0v8.0h-8.0zM2242.1 995.7h8.0v8.0h-8.0zM2259.2 995.7h8.0v8.0h-8.0zM2276.2 995.7h8.0v8.0h-8.0zM2293.2 995.7h8.0v8.0h-8.0zM624.3 1012.8h8.0v8.0h-8.0zM641.3 1012.8h8.0v8.0h-8.0zM658.3 1012.8h8.0v8.0h-8.0zM675.4 1012.8h8.0v8.0h-8.0zM692.4 1012.8h8.0v8.0h-8.0zM709.4 1012.8h8.0v8.0h-8.0zM726.5 1012.8h8.0v8.0h-8.0zM743.5 1012.8h8.0v8.0h-8.0zM760.5 1012.8h8.0v8.0h-8.0zM777.6 1012.8h8.0v8.0h-8.0zM794.6 1012.8h8.0v8.0h-8.0zM1271.4 1012.8h8.0v8.0h-8.0zM1288.5 1012.8h8.0v8.0h-8.0zM1305.5 1012.8h8.0v8.0h-8.0zM1322.5 1012.8h8.0v8.0h-8.0zM1339.5 1012.8h8.0v8.0h-8.0zM1356.6 1012.8h8.0v8.0h-8.0zM1373.6 1012.8h8.0v8.0h-8.0zM1390.6 1012.8h8.0v8.0h-8.0zM2003.7 1012.8h8.0v8.0h-8.0zM2020.7 1012.8h8.0v8.0h-8.0zM2037.8 1012.8h8.0v8.0h-8.0zM2054.8 1012.8h8.0v8.0h-8.0zM2071.8 1012.8h8.0v8.0h-8.0zM2088.9 1012.8h8.0v8.0h-8.0zM2105.9 1012.8h8.0v8.0h-8.0zM2122.9 1012.8h8.0v8.0h-8.0zM2139.9 1012.8h8.0v8.0h-8.0zM2157.0 1012.8h8.0v8.0h-8.0zM2174.0 1012.8h8.0v8.0h-8.0zM2191.0 1012.8h8.0v8.0h-8.0zM2208.1 1012.8h8.0v8.0h-8.0zM2225.1 1012.8h8.0v8.0h-8.0zM2242.1 1012.8h8.0v8.0h-8.0zM2259.2 1012.8h8.0v8.0h-8.0zM2276.2 1012.8h8.0v8.0h-8.0zM2293.2 1012.8h8.0v8.0h-8.0zM624.3 1029.8h8.0v8.0h-8.0zM641.3 1029.8h8.0v8.0h-8.0zM658.3 1029.8h8.0v8.0h-8.0zM675.4 1029.8h8.0v8.0h-8.0zM692.4 1029.8h8.0v8.0h-8.0zM709.4 1029.8h8.0v8.0h-8.0zM726.5 1029.8h8.0v8.0h-8.0zM743.5 1029.8h8.0v8.0h-8.0zM760.5 1029.8h8.0v8.0h-8.0zM777.6 1029.8h8.0v8.0h-8.0zM794.6 1029.8h8.0v8.0h-8.0zM1288.5 1029.8h8.0v8.0h-8.0zM1305.5 1029.8h8.0v8.0h-8.0zM1322.5 1029.8h8.0v8.0h-8.0zM1339.5 1029.8h8.0v8.0h-8.0zM1356.6 1029.8h8.0v8.0h-8.0zM1373.6 1029.8h8.0v8.0h-8.0zM1390.6 1029.8h8.0v8.0h-8.0zM2003.7 1029.8h8.0v8.0h-8.0zM2020.7 1029.8h8.0v8.0h-8.0zM2037.8 1029.8h8.0v8.0h-8.0zM2054.8 1029.8h8.0v8.0h-8.0zM2071.8 1029.8h8.0v8.0h-8.0zM2088.9 1029.8h8.0v8.0h-8.0zM2105.9 1029.8h8.0v8.0h-8.0zM2122.9 1029.8h8.0v8.0h-8.0zM2139.9 1029.8h8.0v8.0h-8.0zM2157.0 1029.8h8.0v8.0h-8.0zM2174.0 1029.8h8.0v8.0h-8.0zM2191.0 1029.8h8.0v8.0h-8.0zM2208.1 1029.8h8.0v8.0h-8.0zM2225.1 1029.8h8.0v8.0h-8.0zM2242.1 1029.8h8.0v8.0h-8.0zM2259.2 1029.8h8.0v8.0h-8.0zM2276.2 1029.8h8.0v8.0h-8.0zM2293.2 1029.8h8.0v8.0h-8.0zM624.3 1046.8h8.0v8.0h-8.0zM641.3 1046.8h8.0v8.0h-8.0zM658.3 1046.8h8.0v8.0h-8.0zM675.4 1046.8h8.0v8.0h-8.0zM692.4 1046.8h8.0v8.0h-8.0zM709.4 1046.8h8.0v8.0h-8.0zM726.5 1046.8h8.0v8.0h-8.0zM743.5 1046.8h8.0v8.0h-8.0zM2003.7 1046.8h8.0v8.0h-8.0zM2020.7 1046.8h8.0v8.0h-8.0zM2037.8 1046.8h8.0v8.0h-8.0zM2054.8 1046.8h8.0v8.0h-8.0zM2071.8 1046.8h8.0v8.0h-8.0zM2088.9 1046.8h8.0v8.0h-8.0zM2139.9 1046.8h8.0v8.0h-8.0zM2157.0 1046.8h8.0v8.0h-8.0zM2174.0 1046.8h8.0v8.0h-8.0zM2191.0 1046.8h8.0v8.0h-8.0zM2208.1 1046.8h8.0v8.0h-8.0zM2225.1 1046.8h8.0v8.0h-8.0zM2242.1 1046.8h8.0v8.0h-8.0zM2259.2 1046.8h8.0v8.0h-8.0zM2276.2 1046.8h8.0v8.0h-8.0zM624.3 1063.9h8.0v8.0h-8.0zM641.3 1063.9h8.0v8.0h-8.0zM658.3 1063.9h8.0v8.0h-8.0zM675.4 1063.9h8.0v8.0h-8.0zM692.4 1063.9h8.0v8.0h-8.0zM709.4 1063.9h8.0v8.0h-8.0zM726.5 1063.9h8.0v8.0h-8.0zM2003.7 1063.9h8.0v8.0h-8.0zM2020.7 1063.9h8.0v8.0h-8.0zM2037.8 1063.9h8.0v8.0h-8.0zM2157.0 1063.9h8.0v8.0h-8.0zM2174.0 1063.9h8.0v8.0h-8.0zM2191.0 1063.9h8.0v8.0h-8.0zM2208.1 1063.9h8.0v8.0h-8.0zM2225.1 1063.9h8.0v8.0h-8.0zM2242.1 1063.9h8.0v8.0h-8.0zM2259.2 1063.9h8.0v8.0h-8.0zM2276.2 1063.9h8.0v8.0h-8.0zM2429.5 1063.9h8.0v8.0h-8.0zM2446.5 1063.9h8.0v8.0h-8.0zM607.3 1080.9h8.0v8.0h-8.0zM624.3 1080.9h8.0v8.0h-8.0zM641.3 1080.9h8.0v8.0h-8.0zM658.3 1080.9h8.0v8.0h-8.0zM675.4 1080.9h8.0v8.0h-8.0zM692.4 1080.9h8.0v8.0h-8.0zM709.4 1080.9h8.0v8.0h-8.0zM726.5 1080.9h8.0v8.0h-8.0zM743.5 1080.9h8.0v8.0h-8.0zM2191.0 1080.9h8.0v8.0h-8.0zM2208.1 1080.9h8.0v8.0h-8.0zM2225.1 1080.9h8.0v8.0h-8.0zM2242.1 1080.9h8.0v8.0h-8.0zM2259.2 1080.9h8.0v8.0h-8.0zM2429.5 1080.9h8.0v8.0h-8.0zM2446.5 1080.9h8.0v8.0h-8.0zM2463.5 1080.9h8.0v8.0h-8.0zM607.3 1097.9h8.0v8.0h-8.0zM624.3 1097.9h8.0v8.0h-8.0zM641.3 1097.9h8.0v8.0h-8.0zM658.3 1097.9h8.0v8.0h-8.0zM675.4 1097.9h8.0v8.0h-8.0zM692.4 1097.9h8.0v8.0h-8.0zM709.4 1097.9h8.0v8.0h-8.0zM2225.1 1097.9h8.0v8.0h-8.0zM2242.1 1097.9h8.0v8.0h-8.0zM2412.4 1097.9h8.0v8.0h-8.0zM2429.5 1097.9h8.0v8.0h-8.0zM2446.5 1097.9h8.0v8.0h-8.0zM2463.5 1097.9h8.0v8.0h-8.0zM607.3 1115.0h8.0v8.0h-8.0zM624.3 1115.0h8.0v8.0h-8.0zM641.3 1115.0h8.0v8.0h-8.0zM658.3 1115.0h8.0v8.0h-8.0zM675.4 1115.0h8.0v8.0h-8.0zM692.4 1115.0h8.0v8.0h-8.0zM2225.1 1115.0h8.0v8.0h-8.0zM2242.1 1115.0h8.0v8.0h-8.0zM2412.4 1115.0h8.0v8.0h-8.0zM2429.5 1115.0h8.0v8.0h-8.0zM2446.5 1115.0h8.0v8.0h-8.0zM607.3 1132.0h8.0v8.0h-8.0zM624.3 1132.0h8.0v8.0h-8.0zM641.3 1132.0h8.0v8.0h-8.0zM658.3 1132.0h8.0v8.0h-8.0zM675.4 1132.0h8.0v8.0h-8.0zM2378.4 1132.0h8.0v8.0h-8.0zM2395.4 1132.0h8.0v8.0h-8.0zM2412.4 1132.0h8.0v8.0h-8.0zM2429.5 1132.0h8.0v8.0h-8.0zM607.3 1149.0h8.0v8.0h-8.0zM624.3 1149.0h8.0v8.0h-8.0zM641.3 1149.0h8.0v8.0h-8.0zM658.3 1149.0h8.0v8.0h-8.0zM675.4 1149.0h8.0v8.0h-8.0zM1663.1 1149.0h8.0v8.0h-8.0zM1680.1 1149.0h8.0v8.0h-8.0zM2378.4 1149.0h8.0v8.0h-8.0zM2395.4 1149.0h8.0v8.0h-8.0zM607.3 1166.0h8.0v8.0h-8.0zM624.3 1166.0h8.0v8.0h-8.0zM641.3 1166.0h8.0v8.0h-8.0zM658.3 1166.0h8.0v8.0h-8.0zM675.4 1166.0h8.0v8.0h-8.0zM607.3 1183.1h8.0v8.0h-8.0zM624.3 1183.1h8.0v8.0h-8.0zM641.3 1183.1h8.0v8.0h-8.0zM658.3 1183.1h8.0v8.0h-8.0zM709.4 1183.1h8.0v8.0h-8.0zM726.5 1183.1h8.0v8.0h-8.0zM607.3 1200.1h8.0v8.0h-8.0zM624.3 1200.1h8.0v8.0h-8.0zM641.3 1200.1h8.0v8.0h-8.0zM658.3 1200.1h8.0v8.0h-8.0zM675.4 1200.1h8.0v8.0h-8.0zM879.7 1200.1h8.0v8.0h-8.0zM896.8 1200.1h8.0v8.0h-8.0zM641.3 1217.1h8.0v8.0h-8.0zM658.3 1217.1h8.0v8.0h-8.0z"/>
<line x1="664.3" y1="404.9" x2="664.3" y2="650" stroke="#c6c6c6" stroke-width="2.4"/>
<circle cx="664.3" cy="393.4" r="10.8" fill="#fff" stroke="#c6c6c6" stroke-width="2.2"/>
<line x1="1119.7" y1="404.9" x2="1119.7" y2="650" stroke="#c6c6c6" stroke-width="2.4"/>
<circle cx="1119.7" cy="393.4" r="10.8" fill="#fff" stroke="#c6c6c6" stroke-width="2.2"/>
<line x1="1567" y1="404.9" x2="1567" y2="650" stroke="#c6c6c6" stroke-width="2.4"/>
<circle cx="1567" cy="393.4" r="10.8" fill="#fff" stroke="#c6c6c6" stroke-width="2.2"/>
<line x1="2022" y1="437.5" x2="2022" y2="650" stroke="#c6c6c6" stroke-width="2.4"/>
<circle cx="2022" cy="426" r="10.8" fill="#fff" stroke="#c6c6c6" stroke-width="2.2"/>
<line x1="443.2" y1="735" x2="443.2" y2="988.7" stroke="#c6c6c6" stroke-width="2.4"/>
<circle cx="443.2" cy="1000.2" r="10.8" fill="#fff" stroke="#c6c6c6" stroke-width="2.2"/>
<line x1="890" y1="735" x2="890" y2="988.7" stroke="#c6c6c6" stroke-width="2.4"/>
<circle cx="890" cy="1000.2" r="10.8" fill="#fff" stroke="#c6c6c6" stroke-width="2.2"/>
<line x1="1341.6" y1="735" x2="1341.6" y2="988.7" stroke="#c6c6c6" stroke-width="2.4"/>
<circle cx="1341.6" cy="1000.2" r="10.8" fill="#fff" stroke="#c6c6c6" stroke-width="2.2"/>
<line x1="1793.6" y1="735" x2="1793.6" y2="988.7" stroke="#c6c6c6" stroke-width="2.4"/>
<circle cx="1793.6" cy="1000.2" r="10.8" fill="#fff" stroke="#c6c6c6" stroke-width="2.2"/>
<rect x="228" y="675.3" width="2049" height="40.6" rx="20" fill="url(#bar)"/>
<g filter="url(#sh)"><circle cx="227.8" cy="692.5" r="38.5" fill="url(#ring)"/><circle cx="228.3" cy="693.0" r="36" fill="#fff"/><circle cx="227.8" cy="692.5" r="33.5" fill="url(#pearl)"/></g>
<g filter="url(#sh)"><circle cx="2236.4" cy="692.5" r="38.5" fill="url(#ring)"/><circle cx="2236.9" cy="693.0" r="36" fill="#fff"/><circle cx="2236.4" cy="692.5" r="33.5" fill="url(#pearl)"/></g>
<g filter="url(#sh)"><circle cx="443.7" cy="692.5" r="47.8" fill="url(#ring)"/><circle cx="444.9" cy="693.7" r="45.2" fill="#fff"/><circle cx="443.7" cy="692.2" r="41.1" fill="url(#g0)"/></g>
<g filter="url(#sh)"><circle cx="668.9" cy="692.5" r="47.8" fill="url(#ring)"/><circle cx="670.1" cy="693.7" r="45.2" fill="#fff"/><circle cx="668.9" cy="692.2" r="41.1" fill="url(#g1)"/></g>
<g filter="url(#sh)"><circle cx="894.0" cy="692.5" r="47.8" fill="url(#ring)"/><circle cx="895.2" cy="693.7" r="45.2" fill="#fff"/><circle cx="894.0" cy="692.2" r="41.1" fill="url(#g2)"/></g>
<g filter="url(#sh)"><circle cx="1119.2" cy="692.5" r="47.8" fill="url(#ring)"/><circle cx="1120.4" cy="693.7" r="45.2" fill="#fff"/><circle cx="1119.2" cy="692.2" r="41.1" fill="url(#g3)"/></g>
<g filter="url(#sh)"><circle cx="1344.3" cy="692.5" r="47.8" fill="url(#ring)"/><circle cx="1345.5" cy="693.7" r="45.2" fill="#fff"/><circle cx="1344.3" cy="692.2" r="41.1" fill="url(#g4)"/></g>
<g filter="url(#sh)"><circle cx="1569.5" cy="692.5" r="47.8" fill="url(#ring)"/><circle cx="1570.7" cy="693.7" r="45.2" fill="#fff"/><circle cx="1569.5" cy="692.2" r="41.1" fill="url(#g5)"/></g>
<g filter="url(#sh)"><circle cx="1794.6" cy="692.5" r="47.8" fill="url(#ring)"/><circle cx="1795.8" cy="693.7" r="45.2" fill="#fff"/><circle cx="1794.6" cy="692.2" r="41.1" fill="url(#g6)"/></g>
<g filter="url(#sh)"><circle cx="2019.8" cy="692.5" r="47.8" fill="url(#ring)"/><circle cx="2021.0" cy="693.7" r="45.2" fill="#fff"/><circle cx="2019.8" cy="692.2" r="41.1" fill="url(#g7)"/></g>
<text x="663.5" y="311.3" class="lb">Attending Part 1</text>
<text x="663.5" y="355.4" class="lb">CMA USA Classes</text>
<text x="1120" y="311" class="lb">Appearing</text>
<text x="1120" y="355.8" class="lb">Part 1 Exam</text>
<text x="1567" y="311" class="lb">Appearing</text>
<text x="1567" y="355.8" class="lb">Part 2 Exam</text>
<text x="2022" y="305" class="lb">With completion</text>
<text x="2022" y="349" class="lb">of Degree and a</text>
<text x="2022" y="393" class="lb">Two-year work experience</text>
<text x="443.5" y="1070" class="lb">+2 pass /</text>
<text x="443.5" y="1114" class="lb">Degree qualified</text>
<text x="890" y="1070" class="lb">Attending Part 2</text>
<text x="890" y="1114" class="lb">CMA USA Classes</text>
<text x="1341.8" y="1068" class="lb">Qualifying</text>
<text x="1341.8" y="1112.8" class="lb">Part 1 Exam</text>
<text x="1793.7" y="1068" class="lb">Qualifying</text>
<text x="1793.7" y="1112.8" class="lb">Part 2 Exam</text>
<text x="80" y="517.5" class="t1">Route Map for</text>
<text x="79" y="597" class="t2">CMA</text>
<text x="330" y="595.3" class="t3">U</text><text transform="translate(371.2 595.3) scale(0.84 1)" x="0" y="0" class="t3">S</text><text x="404.4" y="595.3" class="t3">A</text>
<text x="2255" y="791" class="t4" style="letter-spacing:1px">Become a</text>
<text x="2254" y="852.8" class="t4" style="letter-spacing:2.4px">Certified</text>
<text x="2256" y="913.8" class="t4" style="letter-spacing:2.95px">Management</text>
<text x="2248" y="974.8" class="t4" style="letter-spacing:2px">Accountant</text>
</svg>
</body></html>
